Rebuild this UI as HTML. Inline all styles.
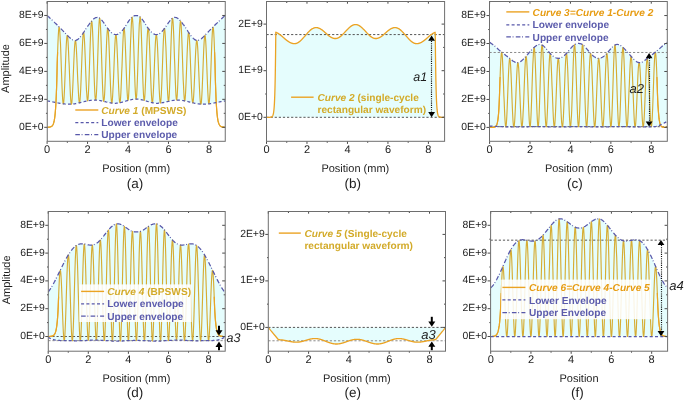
<!DOCTYPE html>
<html><head><meta charset="utf-8"><title>Figure</title>
<style>
html,body{margin:0;padding:0;background:#fff;}
body{width:685px;height:401px;overflow:hidden;}
svg{display:block;font-family:"Liberation Sans",sans-serif;will-change:transform;text-rendering:geometricPrecision;}
</style></head>
<body>
<svg width="685" height="401" viewBox="0 0 685 401">
<rect width="685" height="401" fill="#fff"/>
<defs>
<clipPath id="c140401892561920"><rect x="47.25" y="1.5" width="178" height="139.8"/></clipPath>
<clipPath id="c140401892561968"><rect x="266.5" y="1.5" width="178.1" height="139.8"/></clipPath>
<clipPath id="c140401892562304"><rect x="489.5" y="1.5" width="177.8" height="139.8"/></clipPath>
<clipPath id="c140401892562352"><rect x="48.3" y="211.5" width="176.9" height="139.7"/></clipPath>
<clipPath id="c140401892562400"><rect x="268.3" y="211.5" width="177.2" height="139.7"/></clipPath>
<clipPath id="c140401892562448"><rect x="490.6" y="211.5" width="177" height="139.7"/></clipPath>
</defs>
<g clip-path="url(#c140401892561920)">
<path d="M47.1,15.5l.5,.4 .5,.5 .5,.4 .5,.5 .5,.5 .5,.4 .5,.5 .5,.5 .6,.5 .5,.4 .5,.5 .5,.5 .5,.5 .5,.5 .5,.5 .5,.5 .5,.5 .5,.4 .5,.5 .5,.5 .5,.5 .5,.6 .5,.5 .5,.5 .5,.5 .5,.5 .6,.5 .5,.5 .5,.5 .5,.5 .5,.5 .5,.6 .5,.5 .5,.5 .5,.5 .5,.5 .5,.6 .5,.5 .5,.5 .5,.5 .5,.5 .5,.5 .5,.6 .6,.4 .5,.5 .5,.5 .5,.4 .5,.4 .5,.3 .5,.4 .5,.2 .5,.2 .5,.2 .5,.1 .5,.0 .5,.0 .5-.1 .5-.2 .5-.3 .5-.3 .6-.3 .5-.5 .5-.4 .5-.6 .5-.5 .5-.6 .5-.6 .5-.7 .5-.7 .5-.7 .5-.7 .5-.8 .5-.7 .5-.8 .5-.8 .5-.7 .5-.8 .5-.8 .6-.7 .5-.8 .5-.7 .5-.7 .5-.7 .5-.7 .5-.7 .5-.6 .5-.7 .5-.5 .5-.6 .5-.5 .5-.5 .5-.5 .5-.4 .5-.3 .5-.3 .6-.3 .5-.1 .5-.1 .5-.1 .5,.0 .5,.1 .5,.2 .5,.2 .5,.4 .5,.3 .5,.5 .5,.5 .5,.5 .5,.6 .5,.6 .5,.7 .5,.7 .5,.7 .6,.7 .5,.8 .5,.7 .5,.7 .5,.8 .5,.7 .5,.7 .5,.6 .5,.7 .5,.6 .5,.6 .5,.5 .5,.5 .5,.5 .5,.4 .5,.4 .5,.3 .6,.3 .5,.3 .5,.2 .5,.1 .5,.1 .5,.0 .5,.0 .5-.1 .5-.1 .5-.2 .5-.3 .5-.3 .5-.3 .5-.4 .5-.4 .5-.5 .5-.5 .6-.6 .5-.6 .5-.6 .5-.7 .5-.7 .5-.7 .5-.7 .5-.8 .5-.8 .5-.8 .5-.8 .5-.7 .5-.8 .5-.8 .5-.7 .5-.7 .5-.7 .5-.6 .6-.6 .5-.5 .5-.5 .5-.4 .5-.3 .5-.3 .5-.2 .5-.2 .5-.1 .5-.1 .5,.0 .5,.0 .5,.1 .5,.1 .5,.2 .5,.2 .5,.3 .6,.3 .5,.4 .5,.5 .5,.5 .5,.6 .5,.6 .5,.7 .5,.7 .5,.7 .5,.8 .5,.8 .5,.7 .5,.8 .5,.8 .5,.8 .5,.8 .5,.7 .5,.7 .6,.7 .5,.7 .5,.6 .5,.6 .5,.6 .5,.5 .5,.5 .5,.4 .5,.4 .5,.3 .5,.3 .5,.3 .5,.2 .5,.1 .5,.1 .5,.0 .5,.0 .6-.1 .5-.1 .5-.2 .5-.3 .5-.3 .5-.3 .5-.4 .5-.4 .5-.5 .5-.5 .5-.5 .5-.6 .5-.6 .5-.7 .5-.6 .5-.7 .5-.7 .6-.8 .5-.7 .5-.7 .5-.8 .5-.7 .5-.7 .5-.7 .5-.7 .5-.6 .5-.6 .5-.5 .5-.5 .5-.5 .5-.3 .5-.4 .5-.2 .5-.2 .5-.1 .6,.0 .5,.1 .5,.1 .5,.1 .5,.3 .5,.3 .5,.3 .5,.4 .5,.5 .5,.5 .5,.5 .5,.6 .5,.5 .5,.7 .5,.6 .5,.7 .5,.7 .6,.7 .5,.7 .5,.7 .5,.8 .5,.7 .5,.8 .5,.8 .5,.7 .5,.8 .5,.8 .5,.7 .5,.8 .5,.7 .5,.7 .5,.7 .5,.7 .5,.6 .6,.6 .5,.5 .5,.6 .5,.4 .5,.5 .5,.3 .5,.3 .5,.3 .5,.2 .5,.1 .5,.0 .5,.0 .5-.1 .5-.2 .5-.2 .5-.2 .5-.4 .5-.3 .6-.4 .5-.4 .5-.5 .5-.5 .5-.4 .5-.6 .5-.5 .5-.5 .5-.5 .5-.5 .5-.5 .5-.6 .5-.5 .5-.5 .5-.5 .5-.5 .5-.6 .6-.5 .5-.5 .5-.5 .5-.5 .5-.5 .5-.5 .5-.5 .5-.5 .5-.5 .5-.6 .5-.5 .5-.5 .5-.5 .5-.4 .5-.5 .5-.5 .5-.5 .5-.5 .6-.5 .5-.5 .5-.5 .5-.4 .5-.5 .5-.5 .5-.5 .5-.4 .5-.5 .5-.5 .5-.4 .5-.5 .5-.4 .0,85.4 -.5,.1 -.5,.0 -.5,.1 -.5,.1 -.5,.1 -.5,.1 -.5,.1 -.5,.1 -.5,.1 -.5,.1 -.5,.1 -.5,.1 -.6,.1 -.5,.1 -.5,.1 -.5,.1 -.5,.1 -.5,.1 -.5,.1 -.5,.1 -.5,.1 -.5,.1 -.5,.1 -.5,.1 -.5,.1 -.5,.1 -.5,.1 -.5,.1 -.5,.0 -.5,.1 -.6,.1 -.5,.0 -.5,.1 -.5,.1 -.5,.0 -.5,.1 -.5,.0 -.5,.0 -.5,.1 -.5,.0 -.5,.0 -.5,.0 -.5,.0 -.5,.0 -.5,.0 -.5,.0 -.5,.0 -.6,.0 -.5-.1 -.5,.0 -.5-.1 -.5,.0 -.5-.1 -.5-.1 -.5,.0 -.5-.1 -.5-.1 -.5-.1 -.5-.1 -.5-.1 -.5-.1 -.5-.2 -.5-.1 -.5-.1 -.5-.1 -.6-.1 -.5-.2 -.5-.1 -.5-.1 -.5-.1 -.5-.2 -.5-.1 -.5-.1 -.5-.2 -.5-.1 -.5-.1 -.5-.1 -.5-.1 -.5-.1 -.5-.1 -.5-.1 -.5-.1 -.6-.1 -.5-.1 -.5-.1 -.5-.1 -.5,.0 -.5-.1 -.5-.1 -.5,.0 -.5,.0 -.5-.1 -.5,.0 -.5,.0 -.5,.0 -.5,.0 -.5,.1 -.5,.0 -.5,.0 -.6,.1 -.5,.1 -.5,.0 -.5,.1 -.5,.1 -.5,.1 -.5,.1 -.5,.1 -.5,.1 -.5,.1 -.5,.1 -.5,.2 -.5,.1 -.5,.1 -.5,.1 -.5,.1 -.5,.2 -.5,.1 -.6,.1 -.5,.1 -.5,.1 -.5,.1 -.5,.2 -.5,.1 -.5,.0 -.5,.1 -.5,.1 -.5,.1 -.5,.1 -.5,.0 -.5,.1 -.5,.0 -.5,.0 -.5,.1 -.5,.0 -.6,.0 -.5,.0 -.5-.1 -.5,.0 -.5-.1 -.5,.0 -.5-.1 -.5-.1 -.5-.1 -.5-.1 -.5-.1 -.5-.1 -.5-.2 -.5-.1 -.5-.1 -.5-.2 -.5-.1 -.6-.2 -.5-.1 -.5-.2 -.5-.1 -.5-.2 -.5-.1 -.5-.2 -.5-.1 -.5-.2 -.5-.1 -.5-.1 -.5-.2 -.5-.1 -.5-.1 -.5-.1 -.5-.1 -.5-.1 -.5-.1 -.6-.1 -.5-.1 -.5,.0 -.5-.1 -.5,.0 -.5,.0 -.5,.0 -.5,.0 -.5,.0 -.5,.0 -.5,.1 -.5,.0 -.5,.1 -.5,.1 -.5,.1 -.5,.1 -.5,.1 -.6,.1 -.5,.1 -.5,.1 -.5,.2 -.5,.1 -.5,.1 -.5,.2 -.5,.1 -.5,.2 -.5,.1 -.5,.2 -.5,.1 -.5,.2 -.5,.1 -.5,.2 -.5,.1 -.5,.2 -.5,.1 -.6,.1 -.5,.2 -.5,.1 -.5,.1 -.5,.1 -.5,.1 -.5,.1 -.5,.1 -.5,.0 -.5,.1 -.5,.0 -.5,.1 -.5,.0 -.5,.0 -.5,.0 -.5-.1 -.5,.0 -.6,.0 -.5-.1 -.5,.0 -.5-.1 -.5-.1 -.5-.1 -.5-.1 -.5,.0 -.5-.1 -.5-.2 -.5-.1 -.5-.1 -.5-.1 -.5-.1 -.5-.1 -.5-.2 -.5-.1 -.6-.1 -.5-.1 -.5-.1 -.5-.2 -.5-.1 -.5-.1 -.5-.1 -.5-.1 -.5-.1 -.5-.1 -.5-.1 -.5-.1 -.5,.0 -.5-.1 -.5-.1 -.5,.0 -.5,.0 -.5-.1 -.6,.0 -.5,.0 -.5,.0 -.5,.0 -.5,.1 -.5,.0 -.5,.0 -.5,.1 -.5,.1 -.5,.0 -.5,.1 -.5,.1 -.5,.1 -.5,.1 -.5,.1 -.5,.1 -.5,.1 -.6,.1 -.5,.1 -.5,.1 -.5,.1 -.5,.1 -.5,.2 -.5,.1 -.5,.1 -.5,.2 -.5,.1 -.5,.1 -.5,.1 -.5,.2 -.5,.1 -.5,.1 -.5,.1 -.5,.1 -.5,.2 -.6,.1 -.5,.1 -.5,.1 -.5,.1 -.5,.1 -.5,.1 -.5,.0 -.5,.1 -.5,.1 -.5,.0 -.5,.1 -.5,.0 -.5,.1 -.5,.0 -.5,.0 -.5,.0 -.5,.0 -.6,.0 -.5,.0 -.5,.0 -.5,.0 -.5,.0 -.5-.1 -.5,.0 -.5,.0 -.5-.1 -.5,.0 -.5-.1 -.5-.1 -.5,.0 -.5-.1 -.5-.1 -.5,.0 -.5-.1 -.6-.1 -.5-.1 -.5-.1 -.5-.1 -.5-.1 -.5-.1 -.5-.1 -.5-.1 -.5-.1 -.5-.1 -.5-.1 -.5-.1 -.5-.1 -.5-.1 -.5-.1 -.5-.1 -.5-.1 -.5-.1 -.6-.1 -.5-.1 -.5-.1 -.5-.1 -.5-.1 -.5-.1 -.5-.1 -.5,.0 -.5-.1Z" fill="#e5fdfd" stroke="none"/>
<path d="M47.1,127.3l.2,.0 .2,.0 .2,.0 .2,.0 .2,.0 .2-.1 .2,.0 .2,.0 .2,.0 .2,.0 .2,.0 .2-.1 .2,.0 .2-.1 .2,.0 .2-.1 .2,.0 .2-.1 .2-.1 .2-.1 .2-.1 .3-.1 .2-.2 .2-.1 .2-.3 .2-.2 .2-.3 .2-.3 .2-.4 .2-.4 .2-.5 .2-.6 .2-.7 .2-.8 .2-.9 .2-1.1 .2-1.3 .2-1.4 .2-1.7 .2-2 .2-2.3 .2-2.7 .2-3 .2-3.6 .2-4.2 .2-4.9 .2-5.6 .2-6.5 .2-7.6 .2-8.9 .2-5.9 .2-5.8 .2-5.4 .2-5.1 .2-4.4 .2-3.7 .2-3 .2-2.1 .2-1.2 .2-.2 .2,.6 .2,1.6 .2,2.5 .2,3.3 .2,4 .3,4.7 .2,5.2 .2,5.5 .2,5.9 .2,5.9 .2,6 .2,5.7 .2,5.5 .2,5 .2,4.4 .2,3.8 .2,3.1 .2,2.2 .2,1.4 .2,.4 .2-.4 .2-1.3 .2-2.1 .2-2.9 .2-3.7 .2-4.2 .2-4.7 .2-5.1 .2-5.3 .2-5.5 .2-5.4 .2-5.2 .2-5 .2-4.5 .2-4 .2-3.4 .2-2.6 .2-1.9 .2-1.1 .2-.2 .2,.6 .2,1.5 .2,2.3 .2,2.9 .2,3.7 .2,4.2 .2,4.7 .2,5 .3,5.2 .2,5.4 .2,5.3 .2,5.2 .2,4.8 .2,4.5 .2,4 .2,3.3 .2,2.7 .2,2 .2,1.2 .2,.4 .2-.4 .2-1.2 .2-2 .2-2.6 .2-3.3 .2-3.9 .2-4.2 .2-4.7 .2-4.8 .2-5 .2-4.9 .2-4.9 .2-4.6 .2-4.2 .2-3.7 .2-3.2 .2-2.6 .2-1.9 .2-1.2 .2-.4 .2,.3 .2,1.1 .2,1.9 .2,2.5 .2,3.2 .2,3.7 .2,4.1 .2,4.5 .2,4.8 .2,4.9 .2,4.8 .2,4.8 .3,4.6 .2,4.2 .2,3.7 .2,3.3 .2,2.5 .2,1.9 .2,1.2 .2,.3 .2-.4 .2-1.3 .2-2 .2-2.8 .2-3.4 .2-4 .2-4.5 .2-5 .2-5.2 .2-5.4 .2-5.4 .2-5.3 .2-5.1 .2-4.7 .2-4.3 .2-3.8 .2-3.1 .2-2.3 .2-1.6 .2-.7 .2,.1 .2,1 .2,1.8 .2,2.6 .2,3.3 .2,4 .2,4.5 .2,4.9 .2,5.3 .2,5.4 .2,5.5 .2,5.3 .2,5.1 .2,4.8 .2,4.3 .3,3.6 .2,3 .2,2.1 .2,1.3 .2,.5 .2-.5 .2-1.5 .2-2.3 .2-3.1 .2-3.9 .2-4.6 .2-5.2 .2-5.7 .2-5.9 .2-6.2 .2-6.2 .2-6 .2-5.8 .2-5.4 .2-4.9 .2-4.2 .2-3.5 .2-2.6 .2-1.6 .2-.7 .2,.2 .2,1.2 .2,2.2 .2,3.1 .2,3.9 .2,4.6 .2,5.2 .2,5.8 .2,6 .2,6.2 .2,6.3 .2,6.1 .2,5.9 .2,5.4 .2,4.8 .2,4.2 .2,3.4 .2,2.4 .2,1.5 .3,.5 .2-.5 .2-1.5 .2-2.4 .2-3.4 .2-4.2 .2-4.9 .2-5.5 .2-6 .2-6.3 .2-6.5 .2-6.4 .2-6.3 .2-6 .2-5.4 .2-4.9 .2-4.1 .2-3.3 .2-2.4 .2-1.4 .2-.3 .2,.6 .2,1.7 .2,2.6 .2,3.5 .2,4.3 .2,5.1 .2,5.6 .2,6 .2,6.3 .2,6.5 .2,6.5 .2,6.2 .2,5.9 .2,5.5 .2,4.9 .2,4.1 .2,3.3 .2,2.4 .2,1.5 .2,.6 .2-.5 .2-1.3 .3-2.3 .2-3.2 .2-3.8 .2-4.6 .2-5 .2-5.5 .2-5.7 .2-5.8 .2-5.7 .2-5.6 .2-5.3 .2-4.8 .2-4.3 .2-3.5 .2-2.8 .2-2 .2-1.1 .2-.1 .2,.7 .2,1.6 .2,2.4 .2,3.3 .2,3.9 .2,4.6 .2,5 .2,5.4 .2,5.7 .2,5.8 .2,5.7 .2,5.5 .2,5.3 .2,4.8 .2,4.3 .2,3.7 .2,2.9 .2,2.2 .2,1.3 .2,.5 .2-.4 .2-1.3 .2-2.1 .2-2.8 .2-3.5 .2-4.1 .3-4.6 .2-5 .2-5.2 .2-5.4 .2-5.3 .2-5.3 .2-4.9 .2-4.6 .2-4 .2-3.5 .2-2.8 .2-2 .2-1.3 .2-.4 .2,.4 .2,1.3 .2,2 .2,2.8 .2,3.5 .2,4 .2,4.6 .2,4.9 .2,5.2 .2,5.3 .2,5.3 .2,5.3 .2,4.9 .2,4.6 .2,4.1 .2,3.4 .2,2.8 .2,2.1 .2,1.2 .2,.4 .2-.5 .2-1.3 .2-2.2 .2-2.9 .2-3.7 .2-4.2 .2-4.9 .2-5.2 .2-5.5 .3-5.7 .2-5.8 .2-5.6 .2-5.4 .2-5 .2-4.5 .2-4 .2-3.2 .2-2.4 .2-1.6 .2-.8 .2,.2 .2,1.1 .2,1.9 .2,2.7 .2,3.6 .2,4.2 .2,4.7 .2,5.2 .2,5.6 .2,5.7 .2,5.7 .2,5.7 .2,5.4 .2,5 .2,4.5 .2,3.8 .2,3.1 .2,2.3 .2,1.3 .2,.4 .2-.5 .2-1.5 .2-2.4 .2-3.3 .2-4.2 .2-4.8 .2-5.5 .2-5.9 .2-6.2 .2-6.5 .2-6.4 .2-6.4 .2-6 .3-5.7 .2-5 .2-4.4 .2-3.5 .2-2.7 .2-1.7 .2-.7 .2,.4 .2,1.3 .2,2.4 .2,3.2 .2,4.1 .2,4.9 .2,5.4 .2,6 .2,6.3 .2,6.4 .2,6.5 .2,6.3 .2,6 .2,5.6 .2,5 .2,4.2 .2,3.4 .2,2.5 .2,1.5 .2,.6 .2-.6 .2-1.5 .2-2.5 .2-3.4 .2-4.2 .2-5 .2-5.6 .2-6 .2-6.3 .2-6.5 .2-6.4 .2-6.3 .2-6 .2-5.4 .2-4.9 .2-4.1 .3-3.2 .2-2.4 .2-1.3 .2-.4 .2,.7 .2,1.7 .2,2.7 .2,3.5 .2,4.4 .2,5 .2,5.7 .2,6 .2,6.4 .2,6.4 .2,6.5 .2,6.2 .2,5.9 .2,5.5 .2,4.8 .2,4.2 .2,3.3 .2,2.4 .2,1.5 .2,.5 .2-.4 .2-1.3 .2-2.3 .2-3.1 .2-3.8 .2-4.5 .2-5 .2-5.4 .2-5.7 .2-5.7 .2-5.7 .2-5.6 .2-5.2 .2-4.7 .2-4.2 .2-3.6 .2-2.7 .2-1.9 .2-1.1 .2-.2 .3,.8 .2,1.6 .2,2.4 .2,3.2 .2,4 .2,4.5 .2,5 .2,5.4 .2,5.6 .2,5.8 .2,5.7 .2,5.5 .2,5.2 .2,4.9 .2,4.2 .2,3.7 .2,2.9 .2,2.2 .2,1.3 .2,.5 .2-.4 .2-1.2 .2-2.1 .2-2.8 .2-3.4 .2-4.1 .2-4.6 .2-4.9 .2-5.3 .2-5.3 .2-5.3 .2-5.2 .2-4.9 .2-4.6 .2-4 .2-3.5 .2-2.8 .2-2 .2-1.3 .2-.4 .2,.4 .2,1.3 .2,2 .3,2.8 .2,3.5 .2,4 .2,4.6 .2,4.9 .2,5.3 .2,5.3 .2,5.4 .2,5.2 .2,5 .2,4.6 .2,4.1 .2,3.5 .2,2.8 .2,2.1 .2,1.3 .2,.4 .2-.5 .2-1.3 .2-2.2 .2-2.9 .2-3.7 .2-4.3 .2-4.8 .2-5.3 .2-5.5 .2-5.7 .2-5.8 .2-5.7 .2-5.4 .2-5 .2-4.6 .2-3.9 .2-3.3 .2-2.4 .2-1.6 .2-.7 .2,.1 .2,1.1 .2,2 .2,2.8 .2,3.5 .2,4.3 .3,4.8 .2,5.3 .2,5.6 .2,5.7 .2,5.8 .2,5.7 .2,5.5 .2,5 .2,4.6 .2,3.8 .2,3.2 .2,2.3 .2,1.3 .2,.5 .2-.6 .2-1.5 .2-2.4 .2-3.3 .2-4.1 .2-4.9 .2-5.5 .2-5.9 .2-6.2 .2-6.5 .2-6.5 .2-6.3 .2-6 .2-5.6 .2-5.1 .2-4.3 .2-3.5 .2-2.6 .2-1.7 .2-.6 .2,.3 .2,1.4 .2,2.4 .2,3.3 .2,4.1 .2,4.9 .2,5.4 .2,6 .2,6.3 .2,6.4 .3,6.5 .2,6.3 .2,6 .2,5.5 .2,4.9 .2,4.2 .2,3.4 .2,2.4 .2,1.5 .2,.5 .2-.5 .2-1.5 .2-2.4 .2-3.4 .2-4.2 .2-4.8 .2-5.4 .2-5.9 .2-6.1 .2-6.3 .2-6.2 .2-6 .2-5.8 .2-5.2 .2-4.6 .2-3.9 .2-3.1 .2-2.2 .2-1.2 .2-.2 .2,.7 .2,1.6 .2,2.6 .2,3.5 .2,4.2 .2,4.9 .2,5.4 .2,5.8 .2,6 .2,6.2 .2,6.2 .2,5.9 .2,5.7 .3,5.2 .2,4.6 .2,3.9 .2,3.1 .2,2.3 .2,1.5 .2,.5 .2-.5 .2-1.3 .2-2.1 .2-3 .2-3.6 .2-4.3 .2-4.8 .2-5.1 .2-5.3 .2-5.5 .2-5.4 .2-5.3 .2-4.9 .2-4.5 .2-4 .2-3.3 .2-2.6 .2-1.8 .2-1 .2-.1 .2,.7 .2,1.6 .2,2.3 .2,3.1 .2,3.8 .2,4.3 .2,4.7 .2,5.1 .2,5.3 .2,5.4 .2,5.4 .2,5.2 .2,5 .2,4.5 .2,4 .2,3.4 .2,2.8 .3,2 .2,1.3 .2,.4 .2-.3 .2-1.2 .2-1.9 .2-2.5 .2-3.3 .2-3.7 .2-4.2 .2-4.6 .2-4.8 .2-4.8 .2-4.9 .2-4.8 .2-4.5 .2-4.1 .2-3.7 .2-3.2 .2-2.5 .2-1.9 .2-1.1 .2-.3 .2,.4 .2,1.2 .2,1.9 .2,2.6 .2,3.2 .2,3.7 .2,4.2 .2,4.6 .2,4.9 .2,4.9 .2,5 .2,4.8 .2,4.7 .2,4.2 .2,3.9 .2,3.3 .2,2.6 .2,2 .2,1.2 .2,.4 .3-.4 .2-1.2 .2-2 .2-2.7 .2-3.3 .2-4 .2-4.5 .2-4.8 .2-5.2 .2-5.3 .2-5.4 .2-5.2 .2-5 .2-4.7 .2-4.2 .2-3.7 .2-2.9 .2-2.3 .2-1.5 .2-.6 .2,.2 .2,1.1 .2,1.9 .2,2.6 .2,3.4 .2,4 .2,4.5 .2,5 .2,5.2 .2,5.4 .2,5.5 .2,5.3 .2,5.1 .2,4.7 .2,4.2 .2,3.7 .2,2.9 .2,2.1 .2,1.3 .2,.4 .2-.4 .2-1.4 .2-2.2 .2-3.1 .3-3.8 .2-4.4 .2-5 .2-5.5 .2-5.7 .2-6 .2-5.9 .2-5.9 .2-5.5 .2-5.2 .2-4.7 .2-4 .2-3.3 .2-2.5 .2-1.6 .2-.6 .2,.2 .2,1.2 .2,2.1 .2,3 .2,3.7 .2,4.4 .2,5.1 .2,5.4 .2,5.8 .2,5.9 .2,8.9 .2,7.6 .2,6.5 .2,5.6 .2,4.9 .2,4.2 .2,3.6 .2,3 .2,2.7 .2,2.3 .2,2 .2,1.7 .2,1.4 .2,1.3 .2,1.1 .2,.9 .2,.8 .3,.7 .2,.6 .2,.5 .2,.4 .2,.4 .2,.3 .2,.3 .2,.2 .2,.3 .2,.1 .2,.2 .2,.1 .2,.1 .2,.1 .2,.1 .2,.1 .2,.0 .2,.1 .2,.0 .2,.1 .2,.0 .2,.1 .2,.0 .2,.0 .2,.0 .2,.0 .2,.0 .2,.1 .2,.0 .2,.0 .2,.0 .2,.0 .2,.0" stroke="#d6ad34" stroke-width="1.15" fill="none" stroke-linejoin="round" />
<path d="M47.1,127.3l.2,.0 .2,.0 .2,.0 .2,.0 .2,.0 .2-.1 .2,.0 .2,.0 .2,.0 .2,.0 .2,.0 .2-.1 .2,.0 .2-.1 .2,.0 .2-.1 .2,.0 .2-.1 .2-.1 .2-.1 .2-.1 .3-.1 .2-.2 .2-.1 .2-.3 .2-.2 .2-.3 .2-.3 .2-.4 .2-.4 .2-.5 .2-.6 .2-.7 .2-.8 .2-.9 .2-1.1 .2-1.3 .2-1.4 .2-1.7 .2-2 .2-2.3 .2-2.7 .2-3 .2-3.6 .2-4.2 .2-4.9 .2-5.6 .2-6.5 .2-7.6 .2-8.9 .2-5.9 .2-5.8" stroke="#eba324" stroke-width="1.2" fill="none"/>
<path d="M214.6,52.2l.2,5.8 .2,5.9 .2,8.9 .2,7.6 .2,6.5 .2,5.6 .2,4.9 .2,4.2 .2,3.6 .2,3 .2,2.7 .2,2.3 .2,2 .2,1.7 .2,1.4 .2,1.3 .2,1.1 .2,.9 .2,.8 .3,.7 .2,.6 .2,.5 .2,.4 .2,.4 .2,.3 .2,.3 .2,.2 .2,.3 .2,.1 .2,.2 .2,.1 .2,.1 .2,.1 .2,.1 .2,.1 .2,.0 .2,.1 .2,.0 .2,.1 .2,.0 .2,.1 .2,.0 .2,.0 .2,.0 .2,.0 .2,.0 .2,.1 .2,.0 .2,.0 .2,.0 .2,.0 .2,.0" stroke="#eba324" stroke-width="1.2" fill="none"/>
<path d="M47.1,100.9l.5,.1 .5,.0 .5,.1 .5,.1 .5,.1 .5,.1 .5,.1 .5,.1 .6,.1 .5,.1 .5,.1 .5,.1 .5,.1 .5,.1 .5,.1 .5,.1 .5,.1 .5,.1 .5,.1 .5,.1 .5,.1 .5,.1 .5,.1 .5,.1 .5,.1 .5,.1 .6,.1 .5,.1 .5,.0 .5,.1 .5,.1 .5,.0 .5,.1 .5,.1 .5,.0 .5,.1 .5,.0 .5,.0 .5,.1 .5,.0 .5,.0 .5,.0 .5,.0 .6,.0 .5,.0 .5,.0 .5,.0 .5,.0 .5-.1 .5,.0 .5-.1 .5,.0 .5-.1 .5-.1 .5,.0 .5-.1 .5-.1 .5-.1 .5-.1 .5-.1 .6-.1 .5-.2 .5-.1 .5-.1 .5-.1 .5-.1 .5-.2 .5-.1 .5-.1 .5-.1 .5-.2 .5-.1 .5-.1 .5-.2 .5-.1 .5-.1 .5-.1 .5-.1 .6-.1 .5-.1 .5-.1 .5-.1 .5-.1 .5-.1 .5-.1 .5-.1 .5,.0 .5-.1 .5-.1 .5,.0 .5,.0 .5-.1 .5,.0 .5,.0 .5,.0 .6,.0 .5,.1 .5,.0 .5,.0 .5,.1 .5,.1 .5,.0 .5,.1 .5,.1 .5,.1 .5,.1 .5,.1 .5,.1 .5,.1 .5,.1 .5,.2 .5,.1 .5,.1 .6,.1 .5,.1 .5,.2 .5,.1 .5,.1 .5,.1 .5,.1 .5,.1 .5,.2 .5,.1 .5,.0 .5,.1 .5,.1 .5,.1 .5,.1 .5,.0 .5,.1 .6,.0 .5,.0 .5,.1 .5,.0 .5,.0 .5,.0 .5-.1 .5,.0 .5-.1 .5,.0 .5-.1 .5-.1 .5-.1 .5-.1 .5-.1 .5-.1 .5-.2 .6-.1 .5-.1 .5-.2 .5-.1 .5-.2 .5-.1 .5-.2 .5-.1 .5-.2 .5-.1 .5-.2 .5-.1 .5-.2 .5-.1 .5-.1 .5-.2 .5-.1 .5-.1 .6-.1 .5-.1 .5-.1 .5-.1 .5-.1 .5-.1 .5,.0 .5-.1 .5,.0 .5,.0 .5,.0 .5,.0 .5,.0 .5,.0 .5,.1 .5,.0 .5,.1 .6,.1 .5,.1 .5,.1 .5,.1 .5,.1 .5,.1 .5,.1 .5,.2 .5,.1 .5,.1 .5,.2 .5,.1 .5,.2 .5,.1 .5,.2 .5,.1 .5,.2 .5,.1 .6,.2 .5,.1 .5,.2 .5,.1 .5,.1 .5,.2 .5,.1 .5,.1 .5,.1 .5,.1 .5,.1 .5,.1 .5,.0 .5,.1 .5,.0 .5,.1 .5,.0 .6,.0 .5,.0 .5-.1 .5,.0 .5,.0 .5-.1 .5,.0 .5-.1 .5-.1 .5-.1 .5-.1 .5,.0 .5-.1 .5-.2 .5-.1 .5-.1 .5-.1 .6-.1 .5-.1 .5-.2 .5-.1 .5-.1 .5-.1 .5-.1 .5-.2 .5-.1 .5-.1 .5-.1 .5-.1 .5-.1 .5-.1 .5-.1 .5-.1 .5,.0 .5-.1 .6-.1 .5,.0 .5,.0 .5-.1 .5,.0 .5,.0 .5,.0 .5,.0 .5,.1 .5,.0 .5,.0 .5,.1 .5,.1 .5,.0 .5,.1 .5,.1 .5,.1 .6,.1 .5,.1 .5,.1 .5,.1 .5,.1 .5,.1 .5,.1 .5,.1 .5,.1 .5,.2 .5,.1 .5,.1 .5,.2 .5,.1 .5,.1 .5,.1 .5,.2 .6,.1 .5,.1 .5,.1 .5,.1 .5,.2 .5,.1 .5,.1 .5,.1 .5,.1 .5,.1 .5,.1 .5,.0 .5,.1 .5,.1 .5,.0 .5,.1 .5,.0 .5,.1 .6,.0 .5,.0 .5,.0 .5,.0 .5,.0 .5,.0 .5,.0 .5,.0 .5,.0 .5-.1 .5,.0 .5,.0 .5-.1 .5,.0 .5-.1 .5-.1 .5,.0 .6-.1 .5-.1 .5,.0 .5-.1 .5-.1 .5-.1 .5-.1 .5-.1 .5-.1 .5-.1 .5-.1 .5-.1 .5-.1 .5-.1 .5-.1 .5-.1 .5-.1 .5-.1 .6-.1 .5-.1 .5-.1 .5-.1 .5-.1 .5-.1 .5-.1 .5-.1 .5-.1 .5-.1 .5-.1 .5,.0 .5-.1" stroke="#5858aa" stroke-width="1.25" fill="none" stroke-dasharray="3 2.3"/>
<path d="M47.1,15.5l.5,.4 .5,.5 .5,.4 .5,.5 .5,.5 .5,.4 .5,.5 .5,.5 .6,.5 .5,.4 .5,.5 .5,.5 .5,.5 .5,.5 .5,.5 .5,.5 .5,.5 .5,.4 .5,.5 .5,.5 .5,.5 .5,.6 .5,.5 .5,.5 .5,.5 .5,.5 .6,.5 .5,.5 .5,.5 .5,.5 .5,.5 .5,.6 .5,.5 .5,.5 .5,.5 .5,.5 .5,.6 .5,.5 .5,.5 .5,.5 .5,.5 .5,.5 .5,.6 .6,.4 .5,.5 .5,.5 .5,.4 .5,.4 .5,.3 .5,.4 .5,.2 .5,.2 .5,.2 .5,.1 .5,.0 .5,.0 .5-.1 .5-.2 .5-.3 .5-.3 .6-.3 .5-.5 .5-.4 .5-.6 .5-.5 .5-.6 .5-.6 .5-.7 .5-.7 .5-.7 .5-.7 .5-.8 .5-.7 .5-.8 .5-.8 .5-.7 .5-.8 .5-.8 .6-.7 .5-.8 .5-.7 .5-.7 .5-.7 .5-.7 .5-.7 .5-.6 .5-.7 .5-.5 .5-.6 .5-.5 .5-.5 .5-.5 .5-.4 .5-.3 .5-.3 .6-.3 .5-.1 .5-.1 .5-.1 .5,.0 .5,.1 .5,.2 .5,.2 .5,.4 .5,.3 .5,.5 .5,.5 .5,.5 .5,.6 .5,.6 .5,.7 .5,.7 .5,.7 .6,.7 .5,.8 .5,.7 .5,.7 .5,.8 .5,.7 .5,.7 .5,.6 .5,.7 .5,.6 .5,.6 .5,.5 .5,.5 .5,.5 .5,.4 .5,.4 .5,.3 .6,.3 .5,.3 .5,.2 .5,.1 .5,.1 .5,.0 .5,.0 .5-.1 .5-.1 .5-.2 .5-.3 .5-.3 .5-.3 .5-.4 .5-.4 .5-.5 .5-.5 .6-.6 .5-.6 .5-.6 .5-.7 .5-.7 .5-.7 .5-.7 .5-.8 .5-.8 .5-.8 .5-.8 .5-.7 .5-.8 .5-.8 .5-.7 .5-.7 .5-.7 .5-.6 .6-.6 .5-.5 .5-.5 .5-.4 .5-.3 .5-.3 .5-.2 .5-.2 .5-.1 .5-.1 .5,.0 .5,.0 .5,.1 .5,.1 .5,.2 .5,.2 .5,.3 .6,.3 .5,.4 .5,.5 .5,.5 .5,.6 .5,.6 .5,.7 .5,.7 .5,.7 .5,.8 .5,.8 .5,.7 .5,.8 .5,.8 .5,.8 .5,.8 .5,.7 .5,.7 .6,.7 .5,.7 .5,.6 .5,.6 .5,.6 .5,.5 .5,.5 .5,.4 .5,.4 .5,.3 .5,.3 .5,.3 .5,.2 .5,.1 .5,.1 .5,.0 .5,.0 .6-.1 .5-.1 .5-.2 .5-.3 .5-.3 .5-.3 .5-.4 .5-.4 .5-.5 .5-.5 .5-.5 .5-.6 .5-.6 .5-.7 .5-.6 .5-.7 .5-.7 .6-.8 .5-.7 .5-.7 .5-.8 .5-.7 .5-.7 .5-.7 .5-.7 .5-.6 .5-.6 .5-.5 .5-.5 .5-.5 .5-.3 .5-.4 .5-.2 .5-.2 .5-.1 .6,.0 .5,.1 .5,.1 .5,.1 .5,.3 .5,.3 .5,.3 .5,.4 .5,.5 .5,.5 .5,.5 .5,.6 .5,.5 .5,.7 .5,.6 .5,.7 .5,.7 .6,.7 .5,.7 .5,.7 .5,.8 .5,.7 .5,.8 .5,.8 .5,.7 .5,.8 .5,.8 .5,.7 .5,.8 .5,.7 .5,.7 .5,.7 .5,.7 .5,.6 .6,.6 .5,.5 .5,.6 .5,.4 .5,.5 .5,.3 .5,.3 .5,.3 .5,.2 .5,.1 .5,.0 .5,.0 .5-.1 .5-.2 .5-.2 .5-.2 .5-.4 .5-.3 .6-.4 .5-.4 .5-.5 .5-.5 .5-.4 .5-.6 .5-.5 .5-.5 .5-.5 .5-.5 .5-.5 .5-.6 .5-.5 .5-.5 .5-.5 .5-.5 .5-.6 .6-.5 .5-.5 .5-.5 .5-.5 .5-.5 .5-.5 .5-.5 .5-.5 .5-.5 .5-.6 .5-.5 .5-.5 .5-.5 .5-.4 .5-.5 .5-.5 .5-.5 .5-.5 .6-.5 .5-.5 .5-.5 .5-.4 .5-.5 .5-.5 .5-.5 .5-.4 .5-.5 .5-.5 .5-.4 .5-.5 .5-.4" stroke="#5858aa" stroke-width="1.25" fill="none" stroke-dasharray="4.6 1.7 0.9 2.3"/>
</g>
<path d="M44.25,127.3H47.25 M222.25,127.3H225.25 M44.25,99.34H47.25 M222.25,99.34H225.25 M44.25,71.38H47.25 M222.25,71.38H225.25 M44.25,43.42H47.25 M222.25,43.42H225.25 M44.25,15.46H47.25 M222.25,15.46H225.25 M45.95,113.32H47.25 M223.75,113.32H225.25 M45.95,85.36H47.25 M223.75,85.36H225.25 M45.95,57.4H47.25 M223.75,57.4H225.25 M45.95,29.44H47.25 M223.75,29.44H225.25 M47.1,141.3V143.9 M47.1,1.5V3.7 M87.56,141.3V143.9 M87.56,1.5V3.7 M128.02,141.3V143.9 M128.02,1.5V3.7 M168.48,141.3V143.9 M168.48,1.5V3.7 M208.94,141.3V143.9 M208.94,1.5V3.7 M67.33,141.3V142.8 M67.33,1.5V3 M107.79,141.3V142.8 M107.79,1.5V3 M148.25,141.3V142.8 M148.25,1.5V3 M188.71,141.3V142.8 M188.71,1.5V3" stroke="#4a4a4a" stroke-width="1" fill="none"/>
<rect x="47.25" y="1.5" width="178" height="139.8" fill="none" stroke="#6e6e6e" stroke-width="1"/>
<text x="43.65" y="129.8" font-size="10.4" text-anchor="end" fill="#1e1e1e">0E+0</text>
<text x="43.65" y="101.84" font-size="10.4" text-anchor="end" fill="#1e1e1e">2E+9</text>
<text x="43.65" y="73.88" font-size="10.4" text-anchor="end" fill="#1e1e1e">4E+9</text>
<text x="43.65" y="45.92" font-size="10.4" text-anchor="end" fill="#1e1e1e">6E+9</text>
<text x="43.65" y="17.96" font-size="10.4" text-anchor="end" fill="#1e1e1e">8E+9</text>
<text x="47.1" y="153.3" font-size="11" text-anchor="middle" fill="#1e1e1e">0</text>
<text x="87.56" y="153.3" font-size="11" text-anchor="middle" fill="#1e1e1e">2</text>
<text x="128.02" y="153.3" font-size="11" text-anchor="middle" fill="#1e1e1e">4</text>
<text x="168.48" y="153.3" font-size="11" text-anchor="middle" fill="#1e1e1e">6</text>
<text x="208.94" y="153.3" font-size="11" text-anchor="middle" fill="#1e1e1e">8</text>
<path d="M75.3,110H98.3" stroke="#eba324" stroke-width="1.4"/>
<path d="M75.3,122.5H98.3" stroke="#5858aa" stroke-width="1.25" stroke-dasharray="3 2.3"/>
<path d="M75.3,134.6H98.3" stroke="#5858aa" stroke-width="1.25" stroke-dasharray="4.6 1.7 0.9 2.3"/>
<text x="101.3" y="113.6" font-size="10.15" font-weight="bold" font-style="normal" fill="#d3ab2a" text-anchor="start" ><tspan font-style="italic">Curve 1</tspan> (MPSWS)</text>
<text x="101.3" y="125.9" font-size="10.15" font-weight="bold" font-style="normal" fill="#5c5cac" text-anchor="start" >Lower envelope</text>
<text x="101.3" y="138" font-size="10.15" font-weight="bold" font-style="normal" fill="#5c5cac" text-anchor="start" >Upper envelope</text>
<g clip-path="url(#c140401892561968)">
<path d="M266.5,117.3l.5,.0 .5,.0 .5,.0 .5,.0 .5,.0 .5,.0 .5,.0 .5-.1 .6-.1 .5-.2 .5-.3 .5-.6 .5-1.2 .5-2.3 .5-4.5 .5-8.5 .5-16.4 .5-31.4 .5-19.4 .5,.3 .5,.2 .5,.3 .5,.3 .5,.3 .6,.4 .5,.3 .5,.4 .5,.4 .5,.4 .5,.4 .5,.5 .5,.4 .5,.4 .5,.5 .5,.4 .5,.5 .5,.4 .5,.4 .5,.4 .5,.4 .5,.4 .6,.4 .5,.3 .5,.4 .5,.3 .5,.3 .5,.2 .5,.3 .5,.2 .5,.1 .5,.2 .5,.1 .5,.1 .5,.0 .5,.1 .5,.0 .5-.1 .5-.1 .6-.1 .5-.2 .5-.2 .5-.3 .5-.3 .5-.3 .5-.4 .5-.4 .5-.5 .5-.4 .5-.5 .5-.5 .5-.6 .5-.5 .5-.6 .5-.5 .5-.6 .6-.6 .5-.6 .5-.6 .5-.6 .5-.6 .5-.5 .5-.6 .5-.5 .5-.5 .5-.5 .5-.5 .5-.4 .5-.4 .5-.4 .5-.4 .5-.3 .6-.2 .5-.3 .5-.2 .5-.1 .5-.1 .5-.1 .5,.0 .5,.0 .5,.1 .5,.1 .5,.1 .5,.2 .5,.2 .5,.2 .5,.2 .5,.3 .5,.4 .6,.3 .5,.4 .5,.4 .5,.4 .5,.4 .5,.4 .5,.5 .5,.4 .5,.5 .5,.4 .5,.5 .5,.4 .5,.4 .5,.5 .5,.4 .5,.4 .6,.3 .5,.4 .5,.3 .5,.3 .5,.3 .5,.2 .5,.2 .5,.1 .5,.2 .5,.1 .5,.0 .5,.0 .5,.0 .5,.0 .5-.1 .5-.2 .5-.2 .6-.2 .5-.3 .5-.3 .5-.3 .5-.4 .5-.4 .5-.4 .5-.5 .5-.5 .5-.5 .5-.5 .5-.5 .5-.6 .5-.5 .5-.5 .5-.6 .5-.5 .6-.6 .5-.5 .5-.5 .5-.5 .5-.5 .5-.5 .5-.4 .5-.4 .5-.4 .5-.3 .5-.3 .5-.3 .5-.2 .5-.2 .5-.1 .5-.1 .5-.1 .6,.0 .5,.0 .5,.1 .5,.1 .5,.1 .5,.2 .5,.2 .5,.3 .5,.3 .5,.3 .5,.4 .5,.4 .5,.4 .5,.5 .5,.5 .5,.5 .6,.5 .5,.5 .5,.6 .5,.5 .5,.6 .5,.5 .5,.5 .5,.6 .5,.5 .5,.5 .5,.5 .5,.5 .5,.5 .5,.4 .5,.4 .5,.4 .5,.3 .6,.3 .5,.3 .5,.2 .5,.2 .5,.2 .5,.1 .5,.0 .5,.0 .5,.0 .5,.0 .5-.1 .5-.2 .5-.1 .5-.2 .5-.2 .5-.3 .6-.3 .5-.3 .5-.4 .5-.3 .5-.4 .5-.4 .5-.5 .5-.4 .5-.4 .5-.5 .5-.4 .5-.5 .5-.4 .5-.5 .5-.4 .5-.4 .5-.4 .6-.4 .5-.4 .5-.3 .5-.4 .5-.3 .5-.2 .5-.2 .5-.2 .5-.2 .5-.1 .5-.1 .5-.1 .5,.0 .5,.0 .5,.1 .5,.1 .5,.1 .6,.2 .5,.3 .5,.2 .5,.3 .5,.4 .5,.4 .5,.4 .5,.4 .5,.5 .5,.5 .5,.5 .5,.5 .5,.6 .5,.5 .5,.6 .5,.6 .5,.6 .6,.6 .5,.6 .5,.6 .5,.5 .5,.6 .5,.5 .5,.6 .5,.5 .5,.5 .5,.4 .5,.5 .5,.4 .5,.4 .5,.3 .5,.3 .5,.3 .6,.2 .5,.2 .5,.1 .5,.1 .5,.1 .5,.0 .5-.1 .5,.0 .5-.1 .5-.1 .5-.2 .5-.1 .5-.2 .5-.3 .5-.2 .5-.3 .5-.3 .6-.4 .5-.3 .5-.4 .5-.4 .5-.4 .5-.4 .5-.4 .5-.4 .5-.5 .5-.4 .5-.5 .5-.4 .5-.4 .5-.5 .5-.4 .5-.4 .6-.4 .5-.4 .5-.3 .5-.4 .5-.3 .5-.3 .5-.3 .5-.2 .5-.3 .5,24.3 .5,28.9 .5,15.2 .5,7.9 .5,4.2 .5,2.1 .5,1.2 .5,.5 .6,.4 .5,.1 .5,.1 .5,.1 .5,.0 .5,.0 .5,.0 .5,.0 .5,.0 .5,.0 .5,.0 -.5,.0 -.5,.0 -.5,.0 -.5,.0 -.5,.0 -.5,.0 -.5,.0 -.5,.0 -.5,.0 -.5,.0 -.6,.0 -.5,.0 -.5,.0 -.5,.0 -.5,.0 -.5,.0 -.5,.0 -.5,.0 -.5,.0 -.5,.0 -.5,.0 -.5,.0 -.5,.0 -.5,.0 -.5,.0 -.5,.0 -.5,.0 -.6,.0 -.5,.0 -.5,.0 -.5,.0 -.5,.0 -.5,.0 -.5,.0 -.5,.0 -.5,.0 -.5,.0 -.5,.0 -.5,.0 -.5,.0 -.5,.0 -.5,.0 -.5,.0 -.6,.0 -.5,.0 -.5,.0 -.5,.0 -.5,.0 -.5,.0 -.5,.0 -.5,.0 -.5,.0 -.5,.0 -.5,.0 -.5,.0 -.5,.0 -.5,.0 -.5,.0 -.5,.0 -.5,.0 -.6,.0 -.5,.0 -.5,.0 -.5,.0 -.5,.0 -.5,.0 -.5,.0 -.5,.0 -.5,.0 -.5,.0 -.5,.0 -.5,.0 -.5,.0 -.5,.0 -.5,.0 -.5,.0 -.6,.0 -.5,.0 -.5,.0 -.5,.0 -.5,.0 -.5,.0 -.5,.0 -.5,.0 -.5,.0 -.5,.0 -.5,.0 -.5,.0 -.5,.0 -.5,.0 -.5,.0 -.5,.0 -.5,.0 -.6,.0 -.5,.0 -.5,.0 -.5,.0 -.5,.0 -.5,.0 -.5,.0 -.5,.0 -.5,.0 -.5,.0 -.5,.0 -.5,.0 -.5,.0 -.5,.0 -.5,.0 -.5,.0 -.5,.0 -.6,.0 -.5,.0 -.5,.0 -.5,.0 -.5,.0 -.5,.0 -.5,.0 -.5,.0 -.5,.0 -.5,.0 -.5,.0 -.5,.0 -.5,.0 -.5,.0 -.5,.0 -.5,.0 -.5,.0 -.6,.0 -.5,.0 -.5,.0 -.5,.0 -.5,.0 -.5,.0 -.5,.0 -.5,.0 -.5,.0 -.5,.0 -.5,.0 -.5,.0 -.5,.0 -.5,.0 -.5,.0 -.5,.0 -.6,.0 -.5,.0 -.5,.0 -.5,.0 -.5,.0 -.5,.0 -.5,.0 -.5,.0 -.5,.0 -.5,.0 -.5,.0 -.5,.0 -.5,.0 -.5,.0 -.5,.0 -.5,.0 -.5,.0 -.6,.0 -.5,.0 -.5,.0 -.5,.0 -.5,.0 -.5,.0 -.5,.0 -.5,.0 -.5,.0 -.5,.0 -.5,.0 -.5,.0 -.5,.0 -.5,.0 -.5,.0 -.5,.0 -.6,.0 -.5,.0 -.5,.0 -.5,.0 -.5,.0 -.5,.0 -.5,.0 -.5,.0 -.5,.0 -.5,.0 -.5,.0 -.5,.0 -.5,.0 -.5,.0 -.5,.0 -.5,.0 -.5,.0 -.6,.0 -.5,.0 -.5,.0 -.5,.0 -.5,.0 -.5,.0 -.5,.0 -.5,.0 -.5,.0 -.5,.0 -.5,.0 -.5,.0 -.5,.0 -.5,.0 -.5,.0 -.5,.0 -.5,.0 -.6,.0 -.5,.0 -.5,.0 -.5,.0 -.5,.0 -.5,.0 -.5,.0 -.5,.0 -.5,.0 -.5,.0 -.5,.0 -.5,.0 -.5,.0 -.5,.0 -.5,.0 -.5,.0 -.5,.0 -.6,.0 -.5,.0 -.5,.0 -.5,.0 -.5,.0 -.5,.0 -.5,.0 -.5,.0 -.5,.0 -.5,.0 -.5,.0 -.5,.0 -.5,.0 -.5,.0 -.5,.0 -.5,.0 -.6,.0 -.5,.0 -.5,.0 -.5,.0 -.5,.0 -.5,.0 -.5,.0 -.5,.0 -.5,.0 -.5,.0 -.5,.0 -.5,.0 -.5,.0 -.5,.0 -.5,.0 -.5,.0 -.5,.0 -.6,.0 -.5,.0 -.5,.0 -.5,.0 -.5,.0 -.5,.0 -.5,.0 -.5,.0 -.5,.0 -.5,.0 -.5,.0 -.5,.0 -.5,.0 -.5,.0 -.5,.0 -.5,.0 -.6,.0 -.5,.0 -.5,.0 -.5,.0 -.5,.0 -.5,.0 -.5,.0 -.5,.0 -.5,.0 -.5,.0 -.5,.0 -.5,.0 -.5,.0 -.5,.0 -.5,.0 -.5,.0 -.5,.0 -.6,.0 -.5,.0 -.5,.0 -.5,.0 -.5,.0 -.5,.0 -.5,.0 -.5,.0 -.5,.0 -.5,.0 -.5,.0 -.5,.0 -.5,.0 -.5,.0 -.5,.0 -.5,.0 -.5,.0 -.6,.0 -.5,.0 -.5,.0 -.5,.0 -.5,.0 -.5,.0 -.5,.0 -.5,.0 -.5,.0 -.5,.0 -.5,.0 -.5,.0 -.5,.0 -.5,.0 -.5,.0 -.5,.0 -.5,.0 -.6,.0 -.5,.0 -.5,.0 -.5,.0 -.5,.0 -.5,.0 -.5,.0 -.5,.0 -.5,.0 -.5,.0 -.5,.0 -.5,.0 -.5,.0 -.5,.0 -.5,.0 -.5,.0 -.6,.0 -.5,.0 -.5,.0 -.5,.0 -.5,.0 -.5,.0 -.5,.0 -.5,.0 -.5,.0Z" fill="#e5fdfd" stroke="none"/>
<path d="M266.5,117.3H444.6" stroke="#555555" stroke-width="1.0" stroke-dasharray="2.2 1.9" fill="none"/>
<path d="M266.5,34.58H444.6" stroke="#555555" stroke-width="1.0" stroke-dasharray="2.2 1.9" fill="none"/>
<path d="M266.5,117.3l.2,.0 .2,.0 .2,.0 .2,.0 .2,.0 .2,.0 .2,.0 .2,.0 .2,.0 .2,.0 .2,.0 .2,.0 .2,.0 .2,.0 .2,.0 .2,.0 .2,.0 .2-.1 .2,.0 .2,.0 .3,.0 .2-.1 .2,.0 .2-.1 .2-.1 .2-.1 .2-.1 .2-.2 .2-.2 .2-.3 .2-.4 .2-.5 .2-.7 .2-.8 .2-1.1 .2-1.5 .2-1.8 .2-2.5 .2-3.1 .2-4.1 .2-5.3 .2-6.9 .2-8.9 .2-11.6 .2-15.1 .2-19.5 .2,.1 .2,.1 .2,.1 .2,.1 .2,.1 .2,.1 .2,.1 .2,.1 .2,.1 .2,.1 .2,.1 .2,.2 .2,.1 .2,.1 .2,.2 .2,.1 .3,.1 .2,.2 .2,.1 .2,.2 .2,.1 .2,.2 .2,.2 .2,.1 .2,.2 .2,.1 .2,.2 .2,.2 .2,.1 .2,.2 .2,.2 .2,.2 .2,.1 .2,.2 .2,.2 .2,.2 .2,.1 .2,.2 .2,.2 .2,.2 .2,.1 .2,.2 .2,.2 .2,.2 .2,.1 .2,.2 .2,.2 .2,.2 .2,.1 .2,.2 .2,.2 .2,.1 .2,.2 .2,.1 .2,.2 .2,.1 .2,.2 .2,.1 .3,.2 .2,.1 .2,.2 .2,.1 .2,.1 .2,.2 .2,.1 .2,.1 .2,.1 .2,.2 .2,.1 .2,.1 .2,.1 .2,.1 .2,.1 .2,.1 .2,.0 .2,.1 .2,.1 .2,.1 .2,.0 .2,.1 .2,.1 .2,.0 .2,.1 .2,.0 .2,.0 .2,.1 .2,.0 .2,.0 .2,.0 .2,.1 .2,.0 .2,.0 .2,.0 .2,.0 .2-.1 .2,.0 .2,.0 .2-.1 .2,.0 .3,.0 .2-.1 .2-.1 .2,.0 .2-.1 .2-.1 .2-.1 .2-.1 .2-.1 .2-.1 .2-.1 .2-.1 .2-.2 .2-.1 .2-.1 .2-.2 .2-.1 .2-.2 .2-.2 .2-.1 .2-.2 .2-.2 .2-.1 .2-.2 .2-.2 .2-.2 .2-.2 .2-.2 .2-.2 .2-.2 .2-.2 .2-.2 .2-.3 .2-.2 .2-.2 .2-.2 .2-.3 .2-.2 .2-.2 .2-.2 .2-.3 .2-.2 .3-.2 .2-.3 .2-.2 .2-.2 .2-.3 .2-.2 .2-.3 .2-.2 .2-.2 .2-.3 .2-.2 .2-.2 .2-.3 .2-.2 .2-.2 .2-.2 .2-.3 .2-.2 .2-.2 .2-.2 .2-.2 .2-.2 .2-.2 .2-.2 .2-.2 .2-.2 .2-.2 .2-.2 .2-.2 .2-.1 .2-.2 .2-.2 .2-.1 .2-.2 .2-.1 .2-.2 .2-.1 .2-.2 .2-.1 .2-.1 .2-.1 .2-.1 .3-.1 .2-.1 .2-.1 .2-.1 .2-.1 .2-.1 .2,.0 .2-.1 .2,.0 .2-.1 .2,.0 .2,.0 .2-.1 .2,.0 .2,.0 .2,.0 .2,.0 .2,.0 .2,.0 .2,.0 .2,.1 .2,.0 .2,.0 .2,.1 .2,.0 .2,.1 .2,.1 .2,.0 .2,.1 .2,.1 .2,.1 .2,.0 .2,.1 .2,.1 .2,.1 .2,.1 .2,.2 .2,.1 .2,.1 .2,.1 .2,.2 .3,.1 .2,.1 .2,.2 .2,.1 .2,.2 .2,.1 .2,.2 .2,.1 .2,.2 .2,.2 .2,.1 .2,.2 .2,.2 .2,.2 .2,.1 .2,.2 .2,.2 .2,.2 .2,.1 .2,.2 .2,.2 .2,.2 .2,.2 .2,.1 .2,.2 .2,.2 .2,.2 .2,.2 .2,.1 .2,.2 .2,.2 .2,.2 .2,.1 .2,.2 .2,.2 .2,.1 .2,.2 .2,.2 .2,.1 .2,.2 .2,.1 .2,.2 .3,.1 .2,.1 .2,.2 .2,.1 .2,.1 .2,.2 .2,.1 .2,.1 .2,.1 .2,.1 .2,.1 .2,.1 .2,.1 .2,.1 .2,.0 .2,.1 .2,.1 .2,.0 .2,.1 .2,.1 .2,.0 .2,.0 .2,.1 .2,.0 .2,.0 .2,.0 .2,.0 .2,.0 .2,.0 .2,.0 .2,.0 .2,.0 .2,.0 .2-.1 .2,.0 .2-.1 .2,.0 .2-.1 .2-.1 .2,.0 .2-.1 .2-.1 .3-.1 .2-.1 .2-.1 .2-.1 .2-.2 .2-.1 .2-.1 .2-.2 .2-.1 .2-.1 .2-.2 .2-.2 .2-.1 .2-.2 .2-.2 .2-.1 .2-.2 .2-.2 .2-.2 .2-.2 .2-.2 .2-.2 .2-.2 .2-.2 .2-.2 .2-.2 .2-.2 .2-.2 .2-.2 .2-.2 .2-.3 .2-.2 .2-.2 .2-.2 .2-.2 .2-.2 .2-.3 .2-.2 .2-.2 .2-.2 .2-.2 .3-.3 .2-.2 .2-.2 .2-.2 .2-.2 .2-.2 .2-.2 .2-.2 .2-.2 .2-.2 .2-.2 .2-.2 .2-.2 .2-.2 .2-.2 .2-.1 .2-.2 .2-.2 .2-.1 .2-.2 .2-.1 .2-.2 .2-.1 .2-.2 .2-.1 .2-.1 .2-.1 .2-.2 .2-.1 .2-.1 .2-.1 .2-.1 .2,.0 .2-.1 .2-.1 .2-.1 .2,.0 .2-.1 .2,.0 .2,.0 .2-.1 .2,.0 .3,.0 .2,.0 .2,.0 .2,.0 .2,.0 .2,.0 .2,.0 .2,.1 .2,.0 .2,.0 .2,.1 .2,.0 .2,.1 .2,.1 .2,.1 .2,.0 .2,.1 .2,.1 .2,.1 .2,.1 .2,.2 .2,.1 .2,.1 .2,.1 .2,.2 .2,.1 .2,.2 .2,.1 .2,.2 .2,.1 .2,.2 .2,.2 .2,.1 .2,.2 .2,.2 .2,.2 .2,.2 .2,.2 .2,.2 .2,.2 .2,.2 .2,.2 .3,.2 .2,.2 .2,.2 .2,.2 .2,.2 .2,.3 .2,.2 .2,.2 .2,.2 .2,.2 .2,.3 .2,.2 .2,.2 .2,.2 .2,.2 .2,.2 .2,.3 .2,.2 .2,.2 .2,.2 .2,.2 .2,.2 .2,.2 .2,.2 .2,.2 .2,.2 .2,.2 .2,.2 .2,.2 .2,.2 .2,.2 .2,.1 .2,.2 .2,.2 .2,.1 .2,.2 .2,.2 .2,.1 .2,.1 .2,.2 .2,.1 .3,.1 .2,.2 .2,.1 .2,.1 .2,.1 .2,.1 .2,.1 .2,.1 .2,.0 .2,.1 .2,.1 .2,.0 .2,.1 .2,.0 .2,.1 .2,.0 .2,.0 .2,.0 .2,.0 .2,.0 .2,.0 .2,.0 .2,.0 .2,.0 .2,.0 .2-.1 .2,.0 .2,.0 .2-.1 .2-.1 .2,.0 .2-.1 .2-.1 .2,.0 .2-.1 .2-.1 .2-.1 .2-.1 .2-.1 .2-.1 .2-.1 .2-.1 .3-.2 .2-.1 .2-.1 .2-.2 .2-.1 .2-.1 .2-.2 .2-.1 .2-.2 .2-.1 .2-.2 .2-.2 .2-.1 .2-.2 .2-.2 .2-.1 .2-.2 .2-.2 .2-.2 .2-.1 .2-.2 .2-.2 .2-.2 .2-.2 .2-.1 .2-.2 .2-.2 .2-.2 .2-.2 .2-.1 .2-.2 .2-.2 .2-.2 .2-.1 .2-.2 .2-.2 .2-.2 .2-.1 .2-.2 .2-.2 .2-.1 .2-.2 .3-.1 .2-.2 .2-.1 .2-.2 .2-.1 .2-.1 .2-.2 .2-.1 .2-.1 .2-.1 .2-.2 .2-.1 .2-.1 .2-.1 .2-.1 .2,.0 .2-.1 .2-.1 .2-.1 .2,.0 .2-.1 .2-.1 .2,.0 .2-.1 .2,.0 .2,.0 .2-.1 .2,.0 .2,.0 .2,.0 .2,.0 .2,.0 .2,.0 .2,.0 .2,.1 .2,.0 .2,.0 .2,.1 .2,.0 .2,.1 .2,.0 .3,.1 .2,.1 .2,.1 .2,.1 .2,.1 .2,.1 .2,.1 .2,.1 .2,.1 .2,.1 .2,.2 .2,.1 .2,.2 .2,.1 .2,.2 .2,.1 .2,.2 .2,.2 .2,.1 .2,.2 .2,.2 .2,.2 .2,.2 .2,.2 .2,.2 .2,.2 .2,.2 .2,.2 .2,.2 .2,.2 .2,.2 .2,.3 .2,.2 .2,.2 .2,.2 .2,.3 .2,.2 .2,.2 .2,.3 .2,.2 .2,.2 .2,.3 .3,.2 .2,.3 .2,.2 .2,.2 .2,.3 .2,.2 .2,.2 .2,.3 .2,.2 .2,.2 .2,.2 .2,.3 .2,.2 .2,.2 .2,.2 .2,.3 .2,.2 .2,.2 .2,.2 .2,.2 .2,.2 .2,.2 .2,.2 .2,.2 .2,.2 .2,.1 .2,.2 .2,.2 .2,.1 .2,.2 .2,.2 .2,.1 .2,.2 .2,.1 .2,.1 .2,.2 .2,.1 .2,.1 .2,.1 .2,.1 .2,.1 .2,.1 .3,.1 .2,.1 .2,.0 .2,.1 .2,.1 .2,.0 .2,.0 .2,.1 .2,.0 .2,.0 .2,.1 .2,.0 .2,.0 .2,.0 .2,.0 .2-.1 .2,.0 .2,.0 .2,.0 .2-.1 .2,.0 .2,.0 .2-.1 .2,.0 .2-.1 .2-.1 .2,.0 .2-.1 .2-.1 .2-.1 .2,.0 .2-.1 .2-.1 .2-.1 .2-.1 .2-.1 .2-.1 .2-.2 .2-.1 .2-.1 .2-.1 .3-.2 .2-.1 .2-.1 .2-.2 .2-.1 .2-.2 .2-.1 .2-.2 .2-.1 .2-.2 .2-.1 .2-.2 .2-.1 .2-.2 .2-.2 .2-.1 .2-.2 .2-.2 .2-.2 .2-.1 .2-.2 .2-.2 .2-.2 .2-.1 .2-.2 .2-.2 .2-.2 .2-.1 .2-.2 .2-.2 .2-.2 .2-.1 .2-.2 .2-.2 .2-.2 .2-.1 .2-.2 .2-.2 .2-.1 .2-.2 .2-.1 .2-.2 .3-.2 .2-.1 .2-.2 .2-.1 .2-.2 .2-.1 .2-.1 .2-.2 .2-.1 .2-.1 .2-.2 .2-.1 .2-.1 .2-.1 .2-.1 .2-.1 .2-.1 .2-.1 .2-.1 .2-.1 .2-.1 .2,6.3 .2,18 .2,13.8 .2,10.7 .2,8.3 .2,6.4 .2,4.9 .2,3.8 .2,2.9 .2,2.3 .2,1.7 .2,1.4 .2,1 .2,.8 .2,.6 .2,.5 .2,.4 .2,.2 .2,.3 .2,.1 .2,.2 .3,.1 .2,.0 .2,.1 .2,.0 .2,.1 .2,.0 .2,.0 .2,.0 .2,.1 .2,.0 .2,.0 .2,.0 .2,.0 .2,.0 .2,.0 .2,.0 .2,.0 .2,.0 .2,.0 .2,.0 .2,.0 .2,.0 .2,.0 .2,.0 .2,.0 .2,.0" stroke="#eba324" stroke-width="1.3" fill="none" stroke-linejoin="round" />
</g>
<path d="M263.5,117.3H266.5 M441.6,117.3H444.6 M263.5,70.7H266.5 M441.6,70.7H444.6 M263.5,24.1H266.5 M441.6,24.1H444.6 M265.2,94H266.5 M443.1,94H444.6 M265.2,47.4H266.5 M443.1,47.4H444.6 M266.5,141.3V143.9 M266.5,1.5V3.7 M306.98,141.3V143.9 M306.98,1.5V3.7 M347.46,141.3V143.9 M347.46,1.5V3.7 M387.94,141.3V143.9 M387.94,1.5V3.7 M428.42,141.3V143.9 M428.42,1.5V3.7 M286.74,141.3V142.8 M286.74,1.5V3 M327.22,141.3V142.8 M327.22,1.5V3 M367.7,141.3V142.8 M367.7,1.5V3 M408.18,141.3V142.8 M408.18,1.5V3" stroke="#4a4a4a" stroke-width="1" fill="none"/>
<rect x="266.5" y="1.5" width="178.1" height="139.8" fill="none" stroke="#6e6e6e" stroke-width="1"/>
<text x="262.9" y="119.8" font-size="10.4" text-anchor="end" fill="#1e1e1e">0E+0</text>
<text x="262.9" y="73.2" font-size="10.4" text-anchor="end" fill="#1e1e1e">1E+9</text>
<text x="262.9" y="26.6" font-size="10.4" text-anchor="end" fill="#1e1e1e">2E+9</text>
<text x="266.5" y="153.3" font-size="11" text-anchor="middle" fill="#1e1e1e">0</text>
<text x="306.98" y="153.3" font-size="11" text-anchor="middle" fill="#1e1e1e">2</text>
<text x="347.46" y="153.3" font-size="11" text-anchor="middle" fill="#1e1e1e">4</text>
<text x="387.94" y="153.3" font-size="11" text-anchor="middle" fill="#1e1e1e">6</text>
<text x="428.42" y="153.3" font-size="11" text-anchor="middle" fill="#1e1e1e">8</text>
<path d="M291.1,97.2H313.6" stroke="#eba324" stroke-width="1.4"/>
<text x="317.5" y="101.4" font-size="10.15" font-weight="bold" font-style="normal" fill="#d3ab2a" text-anchor="start" ><tspan font-style="italic">Curve 2</tspan> (single-cycle</text>
<text x="317.5" y="113.2" font-size="10.15" font-weight="bold" font-style="normal" fill="#d3ab2a" text-anchor="start" >rectangular waveform)</text>
<path d="M431.5,41V112.3" stroke="#111" stroke-width="1.15" stroke-dasharray="1.1 1.1"/>
<path d="M431.6,35.6 l-3.4,5.2 h6.8 Z" fill="#000"/>
<path d="M431.6,117.3 l-3.4,-5.2 h6.8 Z" fill="#000"/>
<text x="413.2" y="80.8" font-size="12.5" font-weight="normal" font-style="italic" fill="#1e1e1e" text-anchor="start" >a1</text>
<g clip-path="url(#c140401892562304)">
<path d="M489.6,42.1l.5,.5 .5,.4 .5,.4 .5,.3 .5,.4 .5,.4 .5,.3 .5,.4 .5,.4 .6,.4 .5,.5 .5,.4 .5,.5 .5,.5 .5,.4 .5,.5 .5,.5 .5,.4 .5,.4 .5,.5 .5,.4 .5,.4 .5,.4 .5,.4 .5,.4 .5,.4 .5,.4 .5,.4 .6,.4 .5,.4 .5,.4 .5,.4 .5,.4 .5,.3 .5,.4 .5,.4 .5,.4 .5,.4 .5,.4 .5,.4 .5,.4 .5,.4 .5,.4 .5,.4 .5,.4 .5,.4 .5,.3 .6,.3 .5,.3 .5,.3 .5,.2 .5,.2 .5,.1 .5,.1 .5,.0 .5,.0 .5-.1 .5-.2 .5-.2 .5-.2 .5-.3 .5-.4 .5-.4 .5-.4 .5-.4 .5-.5 .6-.5 .5-.5 .5-.6 .5-.5 .5-.6 .5-.6 .5-.6 .5-.6 .5-.5 .5-.6 .5-.6 .5-.6 .5-.6 .5-.6 .5-.5 .5-.6 .5-.5 .5-.6 .5-.5 .6-.5 .5-.5 .5-.5 .5-.4 .5-.4 .5-.4 .5-.4 .5-.3 .5-.3 .5-.3 .5-.2 .5-.1 .5-.1 .5-.1 .5,.0 .5,.1 .5,.1 .5,.2 .5,.3 .6,.3 .5,.3 .5,.4 .5,.5 .5,.5 .5,.5 .5,.5 .5,.6 .5,.6 .5,.6 .5,.6 .5,.6 .5,.6 .5,.6 .5,.6 .5,.5 .5,.6 .5,.5 .5,.5 .6,.4 .5,.5 .5,.4 .5,.3 .5,.4 .5,.3 .5,.2 .5,.3 .5,.2 .5,.1 .5,.1 .5,.1 .5,.0 .5,.0 .5,.0 .5-.2 .5-.1 .5-.2 .5-.2 .6-.3 .5-.3 .5-.3 .5-.4 .5-.4 .5-.4 .5-.5 .5-.5 .5-.5 .5-.5 .5-.6 .5-.6 .5-.6 .5-.6 .5-.6 .5-.6 .5-.6 .5-.6 .5-.6 .6-.6 .5-.6 .5-.5 .5-.5 .5-.5 .5-.4 .5-.3 .5-.4 .5-.2 .5-.2 .5-.2 .5-.2 .5,.0 .5-.1 .5,.0 .5,.0 .5,.1 .5,.0 .5,.2 .6,.2 .5,.2 .5,.2 .5,.4 .5,.3 .5,.4 .5,.5 .5,.5 .5,.5 .5,.6 .5,.6 .5,.6 .5,.6 .5,.6 .5,.6 .5,.6 .5,.6 .5,.6 .5,.6 .6,.6 .5,.5 .5,.5 .5,.5 .5,.5 .5,.4 .5,.4 .5,.4 .5,.3 .5,.3 .5,.3 .5,.2 .5,.2 .5,.1 .5,.2 .5,.0 .5,.0 .5,.0 .5-.1 .5-.1 .6-.1 .5-.2 .5-.3 .5-.2 .5-.3 .5-.4 .5-.3 .5-.4 .5-.5 .5-.4 .5-.5 .5-.5 .5-.6 .5-.5 .5-.6 .5-.6 .5-.6 .5-.6 .5-.6 .6-.6 .5-.6 .5-.6 .5-.5 .5-.5 .5-.5 .5-.5 .5-.4 .5-.3 .5-.3 .5-.3 .5-.2 .5-.1 .5-.1 .5,.0 .5,.1 .5,.1 .5,.1 .5,.2 .6,.3 .5,.3 .5,.3 .5,.4 .5,.4 .5,.4 .5,.4 .5,.5 .5,.5 .5,.5 .5,.5 .5,.6 .5,.5 .5,.6 .5,.5 .5,.6 .5,.6 .5,.6 .5,.6 .6,.6 .5,.5 .5,.6 .5,.6 .5,.6 .5,.6 .5,.5 .5,.6 .5,.5 .5,.5 .5,.5 .5,.4 .5,.4 .5,.4 .5,.4 .5,.3 .5,.2 .5,.2 .5,.2 .6,.1 .5,.0 .5,.0 .5-.1 .5-.1 .5-.2 .5-.2 .5-.3 .5-.3 .5-.3 .5-.3 .5-.4 .5-.4 .5-.4 .5-.4 .5-.4 .5-.4 .5-.4 .5-.4 .6-.4 .5-.4 .5-.4 .5-.4 .5-.3 .5-.4 .5-.4 .5-.4 .5-.4 .5-.4 .5-.4 .5-.4 .5-.4 .5-.4 .5-.4 .5-.4 .5-.4 .5-.4 .5-.5 .6-.4 .5-.4 .5-.5 .5-.5 .5-.4 .5-.5 .5-.5 .5-.4 .5-.5 .5-.4 .5-.4 .5-.4 .5-.3 .5-.4 .5-.4 .5-.3 .5-.4 .5-.4 .5-.5 .0,79 -.5,.3 -.5,.4 -.5,.3 -.5,.3 -.5,.3 -.5,.2 -.5,.3 -.5,.3 -.5,.2 -.5,.3 -.5,.2 -.5,.3 -.5,.2 -.5,.2 -.5,.2 -.5,.2 -.5,.2 -.5,.2 -.6,.2 -.5,.2 -.5,.2 -.5,.1 -.5,.1 -.5,.1 -.5,.0 -.5,.0 -.5,.0 -.5,.1 -.5,.0 -.5,.0 -.5,.0 -.5,.0 -.5,.0 -.5,.1 -.5,.0 -.5,.0 -.5,.0 -.6,.0 -.5,.0 -.5,.0 -.5,.0 -.5,.0 -.5,.0 -.5,.0 -.5,.0 -.5,.0 -.5,.0 -.5,.0 -.5,.0 -.5,.0 -.5,.0 -.5,.0 -.5,.0 -.5,.0 -.5,.0 -.5,.0 -.6,.0 -.5,.0 -.5,.0 -.5,.0 -.5,.0 -.5,.0 -.5,.0 -.5,.0 -.5,.0 -.5,.0 -.5,.0 -.5,.0 -.5,.0 -.5,.0 -.5,.0 -.5,.0 -.5,.0 -.5,.0 -.5,.0 -.6,.0 -.5-.1 -.5,.0 -.5,.0 -.5,.0 -.5,.0 -.5,.0 -.5,.0 -.5,.0 -.5,.0 -.5,.0 -.5,.0 -.5,.0 -.5,.0 -.5,.0 -.5,.0 -.5,.0 -.5,.0 -.5,.0 -.6,.0 -.5,.0 -.5,.0 -.5,.0 -.5,.0 -.5,.0 -.5,.0 -.5,.0 -.5,.0 -.5,.0 -.5,.0 -.5,.0 -.5,.0 -.5,.0 -.5,.0 -.5,.0 -.5,.0 -.5,.1 -.5,.0 -.6,.0 -.5,.0 -.5,.0 -.5,.0 -.5,.0 -.5,.0 -.5,.0 -.5,.0 -.5,.0 -.5,.0 -.5,.0 -.5,.0 -.5,.0 -.5,.0 -.5,.0 -.5,.0 -.5,.0 -.5,.0 -.5,.0 -.6,.0 -.5,.0 -.5,.0 -.5,.0 -.5,.0 -.5,.0 -.5,.0 -.5,.0 -.5,.0 -.5,.0 -.5,.0 -.5,.0 -.5,.0 -.5,.0 -.5,.0 -.5,.0 -.5,.0 -.5,.0 -.5,.0 -.5,.0 -.6,.0 -.5,.0 -.5,.0 -.5,.0 -.5,.0 -.5,.0 -.5,.0 -.5,.0 -.5-.1 -.5,.0 -.5,.0 -.5,.0 -.5,.0 -.5,.0 -.5,.0 -.5,.0 -.5,.0 -.5,.0 -.5,.0 -.6,.0 -.5,.0 -.5,.0 -.5,.0 -.5,.0 -.5,.0 -.5,.0 -.5,.0 -.5,.0 -.5,.0 -.5,.0 -.5,.0 -.5,.0 -.5,.0 -.5,.0 -.5,.0 -.5,.0 -.5,.0 -.5,.0 -.6,.0 -.5,.1 -.5,.0 -.5,.0 -.5,.0 -.5,.0 -.5,.0 -.5,.0 -.5,.0 -.5,.0 -.5,.0 -.5,.0 -.5,.0 -.5,.0 -.5,.0 -.5,.0 -.5,.0 -.5,.0 -.5,.0 -.6,.0 -.5,.0 -.5,.0 -.5,.0 -.5,.0 -.5,.0 -.5,.0 -.5,.0 -.5,.0 -.5,.0 -.5,.0 -.5,.0 -.5,.0 -.5,.0 -.5,.0 -.5,.0 -.5,.0 -.5,.0 -.5,.0 -.6,.0 -.5,.0 -.5,.0 -.5,.0 -.5,.0 -.5,.0 -.5,.0 -.5,.0 -.5,.0 -.5,.0 -.5,.0 -.5,.0 -.5-.1 -.5,.0 -.5,.0 -.5,.0 -.5,.0 -.5,.0 -.5,.0 -.6,.0 -.5,.0 -.5,.0 -.5,.0 -.5,.0 -.5,.0 -.5,.0 -.5,.0 -.5,.0 -.5,.0 -.5,.0 -.5,.0 -.5,.0 -.5,.0 -.5,.0 -.5,.0 -.5,.0 -.5,.0 -.5,.0 -.6,.0 -.5,.0 -.5,.0 -.5,.0 -.5,.0 -.5,.0 -.5,.0 -.5,.0 -.5,.0 -.5,.1 -.5,.0 -.5,.0 -.5,.0 -.5,.0 -.5,.0 -.5,.0 -.5,.0 -.5,.0 -.5,.0 -.6,.0 -.5,.0 -.5,.0 -.5,.0 -.5,.0 -.5,.0 -.5,.0 -.5,.0 -.5,.0 -.5,.0 -.5,.0 -.5,.0 -.5,.0 -.5,.0 -.5,.0 -.5,.0 -.5,.0 -.5,.0 -.5,.0 -.6,.0 -.5,.0 -.5,.0 -.5,.0 -.5,.0 -.5,.0 -.5,.0 -.5,.0 -.5,.0 -.5,.0 -.5,.0 -.5,.0 -.5,.0 -.5,.0 -.5,.0 -.5,.0 -.5,.0 -.5-.1 -.5,.0 -.6,.0 -.5,.0 -.5,.0 -.5,.0 -.5,.0 -.5,.0 -.5-.1 -.5,.0 -.5,.0 -.5,.0 -.5,.0 -.5,.0 -.5,.0 -.5-.1 -.5,.0 -.5,.0 -.5,.0 -.5-.1 -.5,.0 -.6,.0 -.5-.1 -.5,.0 -.5,.0 -.5-.1 -.5,.0 -.5-.1 -.5,.0 -.5-.1 -.5,.0Z" fill="#e5fdfd" stroke="none"/>
<path d="M489.5,52.47H667.3" stroke="#8a8a8a" stroke-width="1.0" stroke-dasharray="2.2 1.9" fill="none"/>
<path d="M489.5,126.7H667.3" stroke="#555555" stroke-width="1.0" stroke-dasharray="2.2 1.9" fill="none"/>
<path d="M489.6,127.4l.2,.0 .2,.0 .2,.0 .2,.0 .2,.0 .2,.0 .2,.0 .2,.0 .2,.0 .2,.0 .2,.0 .2,.0 .2,.0 .2-.1 .2,.0 .2,.0 .2,.0 .2,.0 .2,.0 .2-.1 .2,.0 .2,.0 .2-.1 .3-.1 .2,.0 .2-.1 .2-.1 .2-.1 .2-.2 .2-.2 .2-.2 .2-.2 .2-.3 .2-.4 .2-.4 .2-.5 .2-.6 .2-.8 .2-.9 .2-1 .2-1.3 .2-1.5 .2-1.8 .2-2.2 .2-2.6 .2-3.1 .2-3.7 .2-4.5 .2-5.3 .2-6.4 .2-5.9 .2-5.6 .2-5.4 .2-4.9 .2-4.4 .2-3.6 .2-3 .2-2.1 .2-1.2 .2-.3 .2,.7 .2,1.5 .2,2.4 .2,3.1 .2,3.9 .2,4.5 .2,5.1 .2,5.4 .2,5.7 .2,5.8 .2,5.7 .3,5.6 .2,5.4 .2,4.8 .2,4.4 .2,3.7 .2,2.9 .2,2.2 .2,1.3 .2,.5 .2-.5 .2-1.3 .2-2.1 .2-2.9 .2-3.6 .2-4.1 .2-4.7 .2-5.1 .2-5.2 .2-5.4 .2-5.4 .2-5.2 .2-5 .2-4.5 .2-4 .2-3.4 .2-2.6 .2-1.9 .2-1.1 .2-.3 .2,.6 .2,1.4 .2,2.2 .2,2.9 .2,3.6 .2,4.2 .2,4.6 .2,5 .2,5.2 .2,5.3 .2,5.3 .2,5.1 .2,4.8 .2,4.5 .2,4 .2,3.4 .2,2.7 .2,1.9 .2,1.2 .3,.4 .2-.4 .2-1.2 .2-1.9 .2-2.7 .2-3.2 .2-3.9 .2-4.3 .2-4.6 .2-4.9 .2-5 .2-5 .2-4.9 .2-4.6 .2-4.3 .2-3.8 .2-3.3 .2-2.6 .2-1.9 .2-1.2 .2-.4 .2,.3 .2,1.2 .2,1.9 .2,2.5 .2,3.3 .2,3.7 .2,4.3 .2,4.6 .2,4.9 .2,5 .2,5 .2,4.9 .2,4.7 .2,4.3 .2,3.9 .2,3.3 .2,2.7 .2,2 .2,1.2 .2,.4 .2-.4 .2-1.2 .2-2 .2-2.8 .2-3.4 .2-4.1 .3-4.6 .2-4.9 .2-5.3 .2-5.4 .2-5.5 .2-5.3 .2-5.2 .2-4.8 .2-4.3 .2-3.7 .2-3.1 .2-2.3 .2-1.5 .2-.7 .2,.2 .2,1.1 .2,1.9 .2,2.7 .2,3.4 .2,4.1 .2,4.7 .2,5 .2,5.4 .2,5.6 .2,5.6 .2,5.4 .2,5.3 .2,4.9 .2,4.3 .2,3.8 .2,3 .2,2.2 .2,1.4 .2,.4 .2-.4 .2-1.4 .2-2.3 .2-3.1 .2-3.9 .2-4.6 .2-5.2 .2-5.6 .2-6 .2-6.1 .2-6.2 .2-6 .2-5.8 .2-5.4 .3-4.8 .2-4.2 .2-3.4 .2-2.6 .2-1.6 .2-.7 .2,.3 .2,1.3 .2,2.3 .2,3.1 .2,3.9 .2,4.7 .2,5.2 .2,5.7 .2,6.1 .2,6.3 .2,6.2 .2,6.2 .2,5.8 .2,5.4 .2,4.9 .2,4.1 .2,3.3 .2,2.5 .2,1.5 .2,.5 .2-.5 .2-1.5 .2-2.5 .2-3.3 .2-4.2 .2-5 .2-5.5 .2-5.9 .2-6.3 .2-6.4 .2-6.5 .2-6.2 .2-5.9 .2-5.5 .2-4.8 .2-4.2 .2-3.3 .2-2.3 .2-1.4 .2-.4 .2,.6 .3,1.6 .2,2.6 .2,3.4 .2,4.3 .2,5 .2,5.5 .2,5.9 .2,6.3 .2,6.4 .2,6.3 .2,6.2 .2,5.8 .2,5.4 .2,4.8 .2,4 .2,3.3 .2,2.3 .2,1.5 .2,.5 .2-.5 .2-1.4 .2-2.4 .2-3.1 .2-3.9 .2-4.5 .2-5.1 .2-5.4 .2-5.8 .2-5.8 .2-5.7 .2-5.6 .2-5.3 .2-4.8 .2-4.3 .2-3.6 .2-2.8 .2-2 .2-1.1 .2-.3 .2,.7 .2,1.5 .2,2.4 .2,3.2 .2,3.9 .2,4.4 .2,5 .2,5.3 .2,5.6 .3,5.7 .2,5.7 .2,5.5 .2,5.2 .2,4.7 .2,4.3 .2,3.6 .2,2.9 .2,2.1 .2,1.3 .2,.4 .2-.4 .2-1.3 .2-2.1 .2-2.8 .2-3.5 .2-4.1 .2-4.6 .2-5 .2-5.2 .2-5.4 .2-5.3 .2-5.2 .2-5 .2-4.5 .2-4.1 .2-3.5 .2-2.8 .2-2 .2-1.2 .2-.5 .2,.5 .2,1.2 .2,2 .2,2.8 .2,3.5 .2,4.1 .2,4.5 .2,5 .2,5.2 .2,5.3 .2,5.4 .2,5.2 .2,5 .2,4.6 .2,4.1 .2,3.5 .2,2.8 .3,2.1 .2,1.3 .2,.4 .2-.4 .2-1.3 .2-2.1 .2-2.9 .2-3.6 .2-4.2 .2-4.8 .2-5.2 .2-5.5 .2-5.6 .2-5.7 .2-5.6 .2-5.3 .2-5 .2-4.5 .2-3.8 .2-3.2 .2-2.4 .2-1.5 .2-.7 .2,.2 .2,1.2 .2,1.9 .2,2.9 .2,3.5 .2,4.3 .2,4.8 .2,5.3 .2,5.6 .2,5.8 .2,5.8 .2,5.7 .2,5.4 .2,5.1 .2,4.5 .2,3.9 .2,3.1 .2,2.4 .2,1.4 .2,.5 .2-.5 .2-1.5 .2-2.3 .2-3.3 .3-4.1 .2-4.7 .2-5.4 .2-5.9 .2-6.2 .2-6.3 .2-6.4 .2-6.3 .2-6 .2-5.6 .2-5 .2-4.3 .2-3.4 .2-2.6 .2-1.7 .2-.6 .2,.3 .2,1.4 .2,2.4 .2,3.3 .2,4.1 .2,4.8 .2,5.5 .2,6 .2,6.2 .2,6.5 .2,6.5 .2,6.3 .2,6 .2,5.6 .2,4.9 .2,4.2 .2,3.5 .2,2.5 .2,1.5 .2,.5 .2-.5 .2-1.5 .2-2.5 .2-3.5 .2-4.2 .2-4.9 .2-5.6 .2-6 .2-6.3 .2-6.5 .2-6.5 .2-6.2 .3-6 .2-5.5 .2-4.8 .2-4.1 .2-3.3 .2-2.4 .2-1.4 .2-.3 .2,.6 .2,1.7 .2,2.6 .2,3.4 .2,4.3 .2,5 .2,5.6 .2,6 .2,6.3 .2,6.4 .2,6.3 .2,6.2 .2,5.9 .2,5.4 .2,4.7 .2,4.1 .2,3.3 .2,2.3 .2,1.5 .2,.5 .2-.5 .2-1.4 .2-2.4 .2-3.1 .2-3.9 .2-4.5 .2-5.1 .2-5.4 .2-5.7 .2-5.8 .2-5.8 .2-5.6 .2-5.3 .2-4.8 .2-4.3 .2-3.5 .2-2.9 .2-1.9 .2-1.2 .3-.2 .2,.7 .2,1.5 .2,2.4 .2,3.2 .2,3.8 .2,4.5 .2,5 .2,5.3 .2,5.6 .2,5.7 .2,5.6 .2,5.5 .2,5.2 .2,4.8 .2,4.2 .2,3.6 .2,2.9 .2,2.1 .2,1.3 .2,.4 .2-.4 .2-1.3 .2-2.1 .2-2.8 .2-3.5 .2-4.1 .2-4.6 .2-5 .2-5.2 .2-5.4 .2-5.3 .2-5.2 .2-5 .2-4.5 .2-4.1 .2-3.5 .2-2.8 .2-2 .2-1.2 .2-.5 .2,.5 .2,1.2 .2,2 .2,2.8 .2,3.5 .2,4.1 .2,4.5 .3,5 .2,5.2 .2,5.3 .2,5.4 .2,5.2 .2,5 .2,4.6 .2,4.1 .2,3.5 .2,2.8 .2,2.1 .2,1.3 .2,.4 .2-.4 .2-1.3 .2-2.1 .2-2.9 .2-3.6 .2-4.3 .2-4.7 .2-5.2 .2-5.5 .2-5.7 .2-5.7 .2-5.6 .2-5.3 .2-5 .2-4.4 .2-3.9 .2-3.2 .2-2.4 .2-1.5 .2-.7 .2,.3 .2,1.1 .2,2 .2,2.8 .2,3.6 .2,4.3 .2,4.8 .2,5.3 .2,5.6 .2,5.7 .2,5.8 .2,5.8 .2,5.4 .2,5.1 .2,4.5 .3,3.9 .2,3.1 .2,2.4 .2,1.4 .2,.5 .2-.5 .2-1.5 .2-2.3 .2-3.3 .2-4 .2-4.8 .2-5.4 .2-5.8 .2-6.2 .2-6.3 .2-6.4 .2-6.3 .2-5.9 .2-5.5 .2-5 .2-4.3 .2-3.4 .2-2.6 .2-1.6 .2-.6 .2,.4 .2,1.4 .2,2.3 .2,3.3 .2,4.2 .2,4.8 .2,5.5 .2,5.9 .2,6.2 .2,6.5 .2,6.4 .2,6.3 .2,5.9 .2,5.5 .2,5 .2,4.2 .2,3.3 .2,2.5 .2,1.5 .2,.5 .2-.5 .2-1.5 .3-2.5 .2-3.3 .2-4.1 .2-4.9 .2-5.4 .2-5.8 .2-6.2 .2-6.2 .2-6.3 .2-6.1 .2-5.7 .2-5.2 .2-4.7 .2-3.9 .2-3.1 .2-2.3 .2-1.3 .2-.3 .2,.7 .2,1.6 .2,2.6 .2,3.4 .2,4.2 .2,4.8 .2,5.4 .2,5.8 .2,6 .2,6.2 .2,6.1 .2,6 .2,5.6 .2,5.2 .2,4.6 .2,3.9 .2,3.1 .2,2.3 .2,1.4 .2,.4 .2-.4 .2-1.4 .2-2.2 .2-3 .2-3.8 .2-4.3 .2-4.9 .2-5.3 .2-5.4 .2-5.6 .3-5.6 .2-5.4 .2-5 .2-4.7 .2-4.1 .2-3.4 .2-2.7 .2-1.9 .2-1.1 .2-.2 .2,.7 .2,1.5 .2,2.3 .2,3.1 .2,3.7 .2,4.3 .2,4.8 .2,5.2 .2,5.3 .2,5.5 .2,5.4 .2,5.3 .2,4.9 .2,4.6 .2,4.1 .2,3.4 .2,2.8 .2,2 .2,1.2 .2,.4 .2-.4 .2-1.2 .2-2 .2-2.7 .2-3.3 .2-3.9 .2-4.3 .2-4.7 .2-4.9 .2-5 .2-5 .2-4.9 .2-4.6 .2-4.3 .2-3.7 .2-3.3 .2-2.5 .2-1.9 .3-1.2 .2-.3 .2,.4 .2,1.2 .2,1.9 .2,2.6 .2,3.3 .2,3.8 .2,4.3 .2,4.6 .2,4.9 .2,5 .2,5 .2,4.9 .2,4.6 .2,4.3 .2,3.9 .2,3.2 .2,2.7 .2,1.9 .2,1.2 .2,.4 .2-.4 .2-1.2 .2-1.9 .2-2.7 .2-3.4 .2-4 .2-4.5 .2-4.8 .2-5.1 .2-5.3 .2-5.3 .2-5.2 .2-5 .2-4.6 .2-4.2 .2-3.6 .2-2.9 .2-2.2 .2-1.4 .2-.6 .2,.3 .2,1.1 .2,1.9 .2,2.6 .2,3.4 .3,4 .2,4.5 .2,5 .2,5.2 .2,5.3 .2,5.4 .2,5.3 .2,5.1 .2,4.6 .2,4.2 .2,3.6 .2,2.9 .2,2.1 .2,1.3 .2,.4 .2-.4 .2-1.3 .2-2.2 .2-3 .2-3.7 .2-4.3 .2-4.9 .2-5.3 .2-5.6 .2-5.8 .2-5.8 .2-5.6 .2-5.4 .2-5.1 .2-4.5 .2-3.9 .2-3.2 .2-2.3 .2-1.5 .2-.7 .2,.3 .2,1.2 .2,2.1 .2,2.9 .2,3.7 .2,4.3 .2,4.9 .2,5.3 .2,5.7 .2,5.8 .2,6.4 .2,5.4 .2,4.4 .3,3.8 .2,3.1 .2,2.6 .2,2.2 .2,1.9 .2,1.5 .2,1.2 .2,1.1 .2,.9 .2,.7 .2,.7 .2,.5 .2,.4 .2,.4 .2,.3 .2,.2 .2,.2 .2,.2 .2,.2 .2,.1 .2,.1 .2,.1 .2,.0 .2,.1 .2,.1 .2,.0 .2,.0 .2,.1 .2,.0 .2,.0 .2,.0 .2,.0 .2,.0 .2,.1 .2,.0 .2,.0 .2,.0 .2,.0 .2,.0 .2,.0 .2,.0 .2,.0 .2,.0 .2,.0 .2,.0 .2,.0 .2,.0" stroke="#d6ad34" stroke-width="1.15" fill="none" stroke-linejoin="round" />
<path d="M489.6,127.4l.2,.0 .2,.0 .2,.0 .2,.0 .2,.0 .2,.0 .2,.0 .2,.0 .2,.0 .2,.0 .2,.0 .2,.0 .2,.0 .2-.1 .2,.0 .2,.0 .2,.0 .2,.0 .2,.0 .2-.1 .2,.0 .2,.0 .2-.1 .3-.1 .2,.0 .2-.1 .2-.1 .2-.1 .2-.2 .2-.2 .2-.2 .2-.2 .2-.3 .2-.4 .2-.4 .2-.5 .2-.6 .2-.8 .2-.9 .2-1 .2-1.3 .2-1.5 .2-1.8 .2-2.2 .2-2.6 .2-3.1 .2-3.7 .2-4.5 .2-5.3 .2-6.4 .2-5.9 .2-5.6" stroke="#eba324" stroke-width="1.2" fill="none"/>
<path d="M656.9,76.9l.2,5.7 .2,5.8 .2,6.4 .2,5.4 .2,4.4 .3,3.8 .2,3.1 .2,2.6 .2,2.2 .2,1.9 .2,1.5 .2,1.2 .2,1.1 .2,.9 .2,.7 .2,.7 .2,.5 .2,.4 .2,.4 .2,.3 .2,.2 .2,.2 .2,.2 .2,.2 .2,.1 .2,.1 .2,.1 .2,.0 .2,.1 .2,.1 .2,.0 .2,.0 .2,.1 .2,.0 .2,.0 .2,.0 .2,.0 .2,.0 .2,.1 .2,.0 .2,.0 .2,.0 .2,.0 .2,.0 .2,.0 .2,.0 .2,.0 .2,.0 .2,.0 .2,.0 .2,.0 .2,.0" stroke="#eba324" stroke-width="1.2" fill="none"/>
<path d="M489.6,126l.5,.0 .5,.1 .5,.0 .5,.1 .5,.0 .5,.1 .5,.0 .5,.0 .5,.1 .6,.0 .5,.0 .5,.1 .5,.0 .5,.0 .5,.0 .5,.1 .5,.0 .5,.0 .5,.0 .5,.0 .5,.0 .5,.0 .5,.1 .5,.0 .5,.0 .5,.0 .5,.0 .5,.0 .6,.0 .5,.0 .5,.1 .5,.0 .5,.0 .5,.0 .5,.0 .5,.0 .5,.0 .5,.0 .5,.0 .5,.0 .5,.0 .5,.0 .5,.0 .5,.0 .5,.0 .5,.0 .5,.0 .6,.0 .5,.0 .5,.0 .5,.0 .5,.0 .5,.0 .5,.0 .5,.0 .5,.0 .5,.0 .5,.0 .5,.0 .5,.0 .5,.0 .5,.0 .5,.0 .5,.0 .5,.0 .5,.0 .6,.0 .5,.0 .5,.0 .5,.0 .5,.0 .5,.0 .5,.0 .5,.0 .5,.0 .5,.0 .5-.1 .5,.0 .5,.0 .5,.0 .5,.0 .5,.0 .5,.0 .5,.0 .5,.0 .6,.0 .5,.0 .5,.0 .5,.0 .5,.0 .5,.0 .5,.0 .5,.0 .5,.0 .5,.0 .5,.0 .5,.0 .5,.0 .5,.0 .5,.0 .5,.0 .5,.0 .5,.0 .5,.0 .6,.0 .5,.0 .5,.0 .5,.0 .5,.0 .5,.0 .5,.0 .5,.1 .5,.0 .5,.0 .5,.0 .5,.0 .5,.0 .5,.0 .5,.0 .5,.0 .5,.0 .5,.0 .5,.0 .6,.0 .5,.0 .5,.0 .5,.0 .5,.0 .5,.0 .5,.0 .5,.0 .5,.0 .5,.0 .5,.0 .5,.0 .5,.0 .5,.0 .5,.0 .5,.0 .5,.0 .5,.0 .5,.0 .6,.0 .5,.0 .5,.0 .5,.0 .5,.0 .5,.0 .5,.0 .5,.0 .5,.0 .5,.0 .5,.0 .5,.0 .5,.0 .5,.0 .5,.0 .5,.0 .5,.0 .5,.0 .5-.1 .6,.0 .5,.0 .5,.0 .5,.0 .5,.0 .5,.0 .5,.0 .5,.0 .5,.0 .5,.0 .5,.0 .5,.0 .5,.0 .5,.0 .5,.0 .5,.0 .5,.0 .5,.0 .5,.0 .6,.0 .5,.0 .5,.0 .5,.0 .5,.0 .5,.0 .5,.0 .5,.0 .5,.0 .5,.0 .5,.0 .5,.1 .5,.0 .5,.0 .5,.0 .5,.0 .5,.0 .5,.0 .5,.0 .6,.0 .5,.0 .5,.0 .5,.0 .5,.0 .5,.0 .5,.0 .5,.0 .5,.0 .5,.0 .5,.0 .5,.0 .5,.0 .5,.0 .5,.0 .5,.0 .5,.0 .5,.0 .5,.0 .5,.0 .6,.0 .5,.0 .5,.0 .5,.0 .5,.0 .5,.0 .5,.0 .5,.0 .5,.0 .5,.0 .5,.0 .5,.0 .5,.0 .5,.0 .5,.0 .5,.0 .5,.0 .5,.0 .5,.0 .6,.0 .5,.0 .5-.1 .5,.0 .5,.0 .5,.0 .5,.0 .5,.0 .5,.0 .5,.0 .5,.0 .5,.0 .5,.0 .5,.0 .5,.0 .5,.0 .5,.0 .5,.0 .5,.0 .6,.0 .5,.0 .5,.0 .5,.0 .5,.0 .5,.0 .5,.0 .5,.0 .5,.0 .5,.0 .5,.0 .5,.0 .5,.0 .5,.0 .5,.0 .5,.0 .5,.0 .5,.0 .5,.1 .6,.0 .5,.0 .5,.0 .5,.0 .5,.0 .5,.0 .5,.0 .5,.0 .5,.0 .5,.0 .5,.0 .5,.0 .5,.0 .5,.0 .5,.0 .5,.0 .5,.0 .5,.0 .5,.0 .6,.0 .5,.0 .5,.0 .5,.0 .5,.0 .5,.0 .5,.0 .5,.0 .5,.0 .5,.0 .5,.0 .5,.0 .5,.0 .5,.0 .5,.0 .5,.0 .5,.0 .5,.0 .5,.0 .6,.0 .5,.0 .5,.0 .5,.0 .5-.1 .5,.0 .5,.0 .5,.0 .5,.0 .5,.0 .5-.1 .5,.0 .5,.0 .5,.0 .5-.1 .5-.1 .5-.1 .5-.2 .5-.2 .6-.2 .5-.2 .5-.2 .5-.2 .5-.2 .5-.2 .5-.2 .5-.3 .5-.2 .5-.3 .5-.2 .5-.3 .5-.3 .5-.2 .5-.3 .5-.3 .5-.3 .5-.4 .5-.3" stroke="#5858aa" stroke-width="1.25" fill="none" stroke-dasharray="3 2.3"/>
<path d="M489.6,42.1l.5,.5 .5,.4 .5,.4 .5,.3 .5,.4 .5,.4 .5,.3 .5,.4 .5,.4 .6,.4 .5,.5 .5,.4 .5,.5 .5,.5 .5,.4 .5,.5 .5,.5 .5,.4 .5,.4 .5,.5 .5,.4 .5,.4 .5,.4 .5,.4 .5,.4 .5,.4 .5,.4 .5,.4 .6,.4 .5,.4 .5,.4 .5,.4 .5,.4 .5,.3 .5,.4 .5,.4 .5,.4 .5,.4 .5,.4 .5,.4 .5,.4 .5,.4 .5,.4 .5,.4 .5,.4 .5,.4 .5,.3 .6,.3 .5,.3 .5,.3 .5,.2 .5,.2 .5,.1 .5,.1 .5,.0 .5,.0 .5-.1 .5-.2 .5-.2 .5-.2 .5-.3 .5-.4 .5-.4 .5-.4 .5-.4 .5-.5 .6-.5 .5-.5 .5-.6 .5-.5 .5-.6 .5-.6 .5-.6 .5-.6 .5-.5 .5-.6 .5-.6 .5-.6 .5-.6 .5-.6 .5-.5 .5-.6 .5-.5 .5-.6 .5-.5 .6-.5 .5-.5 .5-.5 .5-.4 .5-.4 .5-.4 .5-.4 .5-.3 .5-.3 .5-.3 .5-.2 .5-.1 .5-.1 .5-.1 .5,.0 .5,.1 .5,.1 .5,.2 .5,.3 .6,.3 .5,.3 .5,.4 .5,.5 .5,.5 .5,.5 .5,.5 .5,.6 .5,.6 .5,.6 .5,.6 .5,.6 .5,.6 .5,.6 .5,.6 .5,.5 .5,.6 .5,.5 .5,.5 .6,.4 .5,.5 .5,.4 .5,.3 .5,.4 .5,.3 .5,.2 .5,.3 .5,.2 .5,.1 .5,.1 .5,.1 .5,.0 .5,.0 .5,.0 .5-.2 .5-.1 .5-.2 .5-.2 .6-.3 .5-.3 .5-.3 .5-.4 .5-.4 .5-.4 .5-.5 .5-.5 .5-.5 .5-.5 .5-.6 .5-.6 .5-.6 .5-.6 .5-.6 .5-.6 .5-.6 .5-.6 .5-.6 .6-.6 .5-.6 .5-.5 .5-.5 .5-.5 .5-.4 .5-.3 .5-.4 .5-.2 .5-.2 .5-.2 .5-.2 .5,.0 .5-.1 .5,.0 .5,.0 .5,.1 .5,.0 .5,.2 .6,.2 .5,.2 .5,.2 .5,.4 .5,.3 .5,.4 .5,.5 .5,.5 .5,.5 .5,.6 .5,.6 .5,.6 .5,.6 .5,.6 .5,.6 .5,.6 .5,.6 .5,.6 .5,.6 .6,.6 .5,.5 .5,.5 .5,.5 .5,.5 .5,.4 .5,.4 .5,.4 .5,.3 .5,.3 .5,.3 .5,.2 .5,.2 .5,.1 .5,.2 .5,.0 .5,.0 .5,.0 .5-.1 .5-.1 .6-.1 .5-.2 .5-.3 .5-.2 .5-.3 .5-.4 .5-.3 .5-.4 .5-.5 .5-.4 .5-.5 .5-.5 .5-.6 .5-.5 .5-.6 .5-.6 .5-.6 .5-.6 .5-.6 .6-.6 .5-.6 .5-.6 .5-.5 .5-.5 .5-.5 .5-.5 .5-.4 .5-.3 .5-.3 .5-.3 .5-.2 .5-.1 .5-.1 .5,.0 .5,.1 .5,.1 .5,.1 .5,.2 .6,.3 .5,.3 .5,.3 .5,.4 .5,.4 .5,.4 .5,.4 .5,.5 .5,.5 .5,.5 .5,.5 .5,.6 .5,.5 .5,.6 .5,.5 .5,.6 .5,.6 .5,.6 .5,.6 .6,.6 .5,.5 .5,.6 .5,.6 .5,.6 .5,.6 .5,.5 .5,.6 .5,.5 .5,.5 .5,.5 .5,.4 .5,.4 .5,.4 .5,.4 .5,.3 .5,.2 .5,.2 .5,.2 .6,.1 .5,.0 .5,.0 .5-.1 .5-.1 .5-.2 .5-.2 .5-.3 .5-.3 .5-.3 .5-.3 .5-.4 .5-.4 .5-.4 .5-.4 .5-.4 .5-.4 .5-.4 .5-.4 .6-.4 .5-.4 .5-.4 .5-.4 .5-.3 .5-.4 .5-.4 .5-.4 .5-.4 .5-.4 .5-.4 .5-.4 .5-.4 .5-.4 .5-.4 .5-.4 .5-.4 .5-.4 .5-.5 .6-.4 .5-.4 .5-.5 .5-.5 .5-.4 .5-.5 .5-.5 .5-.4 .5-.5 .5-.4 .5-.4 .5-.4 .5-.3 .5-.4 .5-.4 .5-.3 .5-.4 .5-.4 .5-.5" stroke="#5858aa" stroke-width="1.25" fill="none" stroke-dasharray="4.6 1.7 0.9 2.3"/>
</g>
<path d="M486.5,127.4H489.5 M664.3,127.4H667.3 M486.5,99.44H489.5 M664.3,99.44H667.3 M486.5,71.48H489.5 M664.3,71.48H667.3 M486.5,43.52H489.5 M664.3,43.52H667.3 M486.5,15.56H489.5 M664.3,15.56H667.3 M488.2,113.42H489.5 M665.8,113.42H667.3 M488.2,85.46H489.5 M665.8,85.46H667.3 M488.2,57.5H489.5 M665.8,57.5H667.3 M488.2,29.54H489.5 M665.8,29.54H667.3 M489.6,141.3V143.9 M489.6,1.5V3.7 M530.02,141.3V143.9 M530.02,1.5V3.7 M570.44,141.3V143.9 M570.44,1.5V3.7 M610.86,141.3V143.9 M610.86,1.5V3.7 M651.28,141.3V143.9 M651.28,1.5V3.7 M509.81,141.3V142.8 M509.81,1.5V3 M550.23,141.3V142.8 M550.23,1.5V3 M590.65,141.3V142.8 M590.65,1.5V3 M631.07,141.3V142.8 M631.07,1.5V3" stroke="#4a4a4a" stroke-width="1" fill="none"/>
<rect x="489.5" y="1.5" width="177.8" height="139.8" fill="none" stroke="#6e6e6e" stroke-width="1"/>
<text x="485.9" y="129.9" font-size="10.4" text-anchor="end" fill="#1e1e1e">0E+0</text>
<text x="485.9" y="101.94" font-size="10.4" text-anchor="end" fill="#1e1e1e">2E+9</text>
<text x="485.9" y="73.98" font-size="10.4" text-anchor="end" fill="#1e1e1e">4E+9</text>
<text x="485.9" y="46.02" font-size="10.4" text-anchor="end" fill="#1e1e1e">6E+9</text>
<text x="485.9" y="18.06" font-size="10.4" text-anchor="end" fill="#1e1e1e">8E+9</text>
<text x="489.6" y="153.3" font-size="11" text-anchor="middle" fill="#1e1e1e">0</text>
<text x="530.02" y="153.3" font-size="11" text-anchor="middle" fill="#1e1e1e">2</text>
<text x="570.44" y="153.3" font-size="11" text-anchor="middle" fill="#1e1e1e">4</text>
<text x="610.86" y="153.3" font-size="11" text-anchor="middle" fill="#1e1e1e">6</text>
<text x="651.28" y="153.3" font-size="11" text-anchor="middle" fill="#1e1e1e">8</text>
<path d="M506.3,11.9H529.3" stroke="#eba324" stroke-width="1.4"/>
<path d="M506.3,24.8H529.3" stroke="#5858aa" stroke-width="1.25" stroke-dasharray="3 2.3"/>
<path d="M506.3,36.8H529.3" stroke="#5858aa" stroke-width="1.25" stroke-dasharray="4.6 1.7 0.9 2.3"/>
<text x="532.6" y="16.3" font-size="10.15" font-weight="bold" font-style="italic" fill="#e79c12" text-anchor="start" >Curve 3=Curve 1-Curve 2</text>
<text x="532.6" y="28.2" font-size="10.15" font-weight="bold" font-style="normal" fill="#5c5cac" text-anchor="start" >Lower envelope</text>
<text x="532.6" y="41" font-size="10.15" font-weight="bold" font-style="normal" fill="#5c5cac" text-anchor="start" >Upper envelope</text>
<path d="M649.5,58V121.6" stroke="#111" stroke-width="1.15" stroke-dasharray="1.1 1.1"/>
<path d="M649.1,53 l-3.4,5.2 h6.8 Z" fill="#000"/>
<path d="M649.1,126.6 l-3.4,-5.2 h6.8 Z" fill="#000"/>
<text x="629.6" y="92.9" font-size="13" font-weight="normal" font-style="italic" fill="#1e1e1e" text-anchor="start" >a2</text>
<g clip-path="url(#c140401892562352)">
<path d="M48.2,292l.5-.6 .5-.7 .5-.8 .5-.7 .5-.8 .5-.8 .5-.8 .5-.9 .5-.9 .5-.9 .5-.9 .5-.9 .5-.9 .5-1 .5-1 .5-1 .5-1 .5-1 .5-1 .5-1 .5-1 .5-1 .5-1 .5-1.1 .5-1 .5-1 .5-1 .5-1 .5-1 .5-1 .5-1 .5-1 .5-1 .5-.9 .5-.9 .5-1 .5-.9 .5-.9 .5-.8 .5-.9 .6-.8 .5-.8 .5-.7 .5-.8 .5-.7 .5-.7 .5-.6 .5-.7 .5-.5 .5-.6 .5-.5 .5-.5 .5-.5 .5-.4 .5-.4 .5-.3 .5-.4 .5-.2 .5-.3 .5-.2 .5-.1 .5-.2 .5-.1 .5-.1 .5,.0 .5,.0 .5-.1 .5,.1 .5,.0 .5,.0 .5,.1 .5,.1 .5,.1 .5,.0 .5,.2 .5,.1 .5,.1 .5,.1 .5,.1 .5,.1 .5,.0 .5,.1 .5,.1 .5,.0 .5,.0 .5,.0 .5,.0 .5-.1 .5-.1 .5-.1 .5-.1 .5-.2 .5-.2 .5-.3 .5-.2 .5-.3 .5-.4 .5-.3 .5-.4 .5-.4 .5-.5 .5-.4 .5-.5 .5-.6 .5-.5 .5-.6 .5-.6 .5-.6 .5-.6 .5-.7 .5-.6 .5-.7 .5-.6 .5-.7 .5-.6 .5-.7 .5-.6 .5-.6 .5-.7 .6-.6 .5-.6 .5-.5 .5-.6 .5-.5 .5-.5 .5-.5 .5-.4 .5-.4 .5-.4 .5-.3 .5-.4 .5-.2 .5-.3 .5-.2 .5-.2 .5-.1 .5-.1 .5,.0 .5,.0 .5,.0 .5,.1 .5,.1 .5,.1 .5,.2 .5,.2 .5,.2 .5,.2 .5,.3 .5,.3 .5,.3 .5,.3 .5,.3 .5,.4 .5,.3 .5,.4 .5,.3 .5,.4 .5,.4 .5,.3 .5,.4 .5,.3 .5,.4 .5,.3 .5,.2 .5,.3 .5,.2 .5,.2 .5,.2 .5,.2 .5,.1 .5,.0 .5,.1 .5,.0 .5,.0 .5,.0 .5,.0 .5,.0 .5,.0 .5,.0 .5,.0 .5-.1 .5,.0 .5-.1 .5-.2 .5-.2 .5-.2 .5-.2 .5-.3 .5-.2 .5-.3 .5-.4 .5-.3 .5-.4 .5-.3 .5-.4 .5-.4 .5-.3 .5-.4 .5-.3 .5-.4 .6-.3 .5-.3 .5-.3 .5-.3 .5-.3 .5-.2 .5-.2 .5-.2 .5-.2 .5-.1 .5-.1 .5-.1 .5,.0 .5,.0 .5,.0 .5,.1 .5,.1 .5,.2 .5,.2 .5,.3 .5,.2 .5,.4 .5,.3 .5,.4 .5,.4 .5,.4 .5,.5 .5,.5 .5,.5 .5,.6 .5,.5 .5,.6 .5,.6 .5,.7 .5,.6 .5,.6 .5,.7 .5,.6 .5,.7 .5,.6 .5,.7 .5,.6 .5,.7 .5,.6 .5,.6 .5,.6 .5,.6 .5,.5 .5,.6 .5,.5 .5,.4 .5,.5 .5,.4 .5,.4 .5,.3 .5,.4 .5,.3 .5,.2 .5,.3 .5,.2 .5,.2 .5,.1 .5,.1 .5,.1 .5,.1 .5,.0 .5,.0 .5,.0 .5,.0 .5-.1 .5-.1 .5,.0 .5-.1 .5-.1 .5-.1 .5-.1 .5-.1 .5-.2 .5,.0 .6-.1 .5-.1 .5-.1 .5,.0 .5,.0 .5-.1 .5,.1 .5,.0 .5,.0 .5,.1 .5,.1 .5,.2 .5,.1 .5,.2 .5,.3 .5,.2 .5,.4 .5,.3 .5,.4 .5,.4 .5,.5 .5,.5 .5,.5 .5,.6 .5,.5 .5,.7 .5,.6 .5,.7 .5,.7 .5,.8 .5,.7 .5,.8 .5,.8 .5,.9 .5,.8 .5,.9 .5,.9 .5,1 .5,.9 .5,.9 .5,1 .5,1 .5,1 .5,1 .5,1 .5,1 .5,1 .5,1 .5,1 .5,1.1 .5,1 .5,1 .5,1 .5,1 .5,1 .5,1 .5,1 .5,1 .5,1 .5,1 .5,.9 .5,.9 .5,.9 .5,.9 .5,.9 .5,.9 .5,.8 .5,.8 .5,.8 .5,.7 .5,.8 .5,.7 .5,.6 .0,45.2 -.5,.3 -.5,.3 -.5,.3 -.5,.2 -.5,.3 -.5,.2 -.5,.2 -.5,.2 -.5,.1 -.5,.2 -.5,.1 -.5,.2 -.5,.1 -.5,.1 -.5,.1 -.5,.0 -.5,.1 -.5,.1 -.5,.0 -.5,.1 -.5,.0 -.5,.0 -.5,.0 -.5,.1 -.5,.0 -.5,.0 -.5,.0 -.5,.0 -.5,.0 -.5,.0 -.5,.0 -.5,.0 -.5,.0 -.5,.0 -.5,.1 -.5,.0 -.5,.0 -.5,.0 -.5,.0 -.5,.0 -.5,.0 -.5,.1 -.5,.0 -.5,.0 -.5,.0 -.5,.0 -.5,.0 -.5,.1 -.5,.0 -.5,.0 -.5,.0 -.5,.0 -.5,.0 -.5,.0 -.5,.0 -.5,.0 -.5,.0 -.5,.0 -.5,.0 -.5,.0 -.5,.0 -.5,.0 -.5-.1 -.5,.0 -.5,.0 -.5,.0 -.5,.0 -.5-.1 -.5,.0 -.5,.0 -.5,.0 -.5-.1 -.6,.0 -.5,.0 -.5,.0 -.5-.1 -.5,.0 -.5,.0 -.5-.1 -.5,.0 -.5,.0 -.5,.0 -.5,.0 -.5-.1 -.5,.0 -.5,.0 -.5,.0 -.5,.0 -.5-.1 -.5,.0 -.5,.0 -.5,.0 -.5,.0 -.5,.0 -.5,.0 -.5,.0 -.5,.0 -.5,.0 -.5,.0 -.5,.1 -.5,.0 -.5,.0 -.5,.0 -.5,.0 -.5,.1 -.5,.0 -.5,.0 -.5,.0 -.5,.1 -.5,.0 -.5,.0 -.5,.1 -.5,.0 -.5,.0 -.5,.1 -.5,.0 -.5,.0 -.5,.1 -.5,.0 -.5,.0 -.5,.1 -.5,.0 -.5,.0 -.5,.1 -.5,.0 -.5,.0 -.5,.0 -.5,.1 -.5,.0 -.5,.0 -.5,.0 -.5,.0 -.5,.1 -.5,.0 -.5,.0 -.5,.0 -.5,.0 -.5,.0 -.5,.0 -.5,.0 -.5,.0 -.5,.0 -.5-.1 -.5,.0 -.5,.0 -.5,.0 -.5,.0 -.5,.0 -.5-.1 -.5,.0 -.5,.0 -.6,.0 -.5-.1 -.5,.0 -.5,.0 -.5,.0 -.5-.1 -.5,.0 -.5,.0 -.5,.0 -.5-.1 -.5,.0 -.5,.0 -.5,.0 -.5-.1 -.5,.0 -.5,.0 -.5,.0 -.5,.0 -.5-.1 -.5,.0 -.5,.0 -.5,.0 -.5,.0 -.5,.0 -.5,.0 -.5,.0 -.5,.0 -.5,.0 -.5,.0 -.5,.0 -.5,.0 -.5,.1 -.5,.0 -.5,.0 -.5,.0 -.5,.0 -.5,.1 -.5,.0 -.5,.0 -.5,.0 -.5,.1 -.5,.0 -.5,.0 -.5,.0 -.5,.1 -.5,.0 -.5,.0 -.5,.0 -.5,.1 -.5,.0 -.5,.0 -.5,.0 -.5,.1 -.5,.0 -.5,.0 -.5,.0 -.5,.0 -.5,.0 -.5,.1 -.5,.0 -.5,.0 -.5,.0 -.5,.0 -.5,.0 -.5,.0 -.5,.0 -.5,.0 -.5,.0 -.5-.1 -.5,.0 -.5,.0 -.5,.0 -.5,.0 -.5-.1 -.5,.0 -.5,.0 -.5,.0 -.5-.1 -.5,.0 -.5,.0 -.5-.1 -.6,.0 -.5,.0 -.5-.1 -.5,.0 -.5,.0 -.5-.1 -.5,.0 -.5,.0 -.5-.1 -.5,.0 -.5,.0 -.5-.1 -.5,.0 -.5,.0 -.5,.0 -.5-.1 -.5,.0 -.5,.0 -.5,.0 -.5,.0 -.5-.1 -.5,.0 -.5,.0 -.5,.0 -.5,.0 -.5,.0 -.5,.0 -.5,.0 -.5,.0 -.5,.0 -.5,.0 -.5,.1 -.5,.0 -.5,.0 -.5,.0 -.5,.0 -.5,.1 -.5,.0 -.5,.0 -.5,.0 -.5,.0 -.5,.1 -.5,.0 -.5,.0 -.5,.1 -.5,.0 -.5,.0 -.5,.0 -.5,.1 -.5,.0 -.5,.0 -.5,.0 -.5,.1 -.5,.0 -.5,.0 -.5,.0 -.5,.0 -.5,.1 -.5,.0 -.5,.0 -.5,.0 -.5,.0 -.5,.0 -.5,.0 -.5,.0 -.5,.0 -.5,.0 -.5,.0 -.5,.0 -.5,.0 -.5,.0 -.5,.0 -.5-.1 -.5,.0 -.5,.0 -.5,.0 -.5,.0 -.5,.0 -.5-.1 -.6,.0 -.5,.0 -.5,.0 -.5,.0 -.5,.0 -.5,.0 -.5-.1 -.5,.0 -.5,.0 -.5,.0 -.5,.0 -.5,.0 -.5,.0 -.5,.0 -.5,.0 -.5,.0 -.5,.0 -.5-.1 -.5,.0 -.5,.0 -.5,.0 -.5-.1 -.5,.0 -.5-.1 -.5-.1 -.5,.0 -.5-.1 -.5-.1 -.5-.1 -.5-.2 -.5-.1 -.5-.2 -.5-.1 -.5-.2 -.5-.2 -.5-.2 -.5-.3 -.5-.2 -.5-.3 -.5-.3 -.5-.3Z" fill="#e5fdfd" stroke="none"/>
<path d="M48.3,336.5H225.2" stroke="#555555" stroke-width="1.0" stroke-dasharray="2.2 1.9" fill="none"/>
<path d="M48.3,340.67H225.2" stroke="#8a8a8a" stroke-width="1.0" stroke-dasharray="2.2 1.9" fill="none"/>
<path d="M48.2,336.5l.2,.0 .2,.0 .2,.0 .2,.0 .2,.0 .2,.0 .2,.0 .2-.1 .2,.0 .2,.0 .2,.0 .2,.0 .2,.0 .2-.1 .2,.0 .2,.0 .2-.1 .2,.0 .2-.1 .2,.0 .2-.1 .2-.1 .2,.0 .2-.1 .2-.2 .2-.1 .2-.1 .2-.2 .2-.2 .2-.2 .2-.3 .2-.3 .2-.4 .2-.4 .2-.4 .2-.6 .2-.6 .2-.7 .2-.8 .2-1 .2-1 .2-1.3 .2-1.4 .2-1.7 .2-1.8 .2-2.2 .2-2.5 .2-2.9 .2-3.3 .2-3.8 .2-5.4 .2-5.3 .2-5.2 .2-4.8 .2-4.4 .2-3.8 .2-3.2 .2-2.4 .2-1.7 .2-.9 .2,.1 .2,.9 .2,1.7 .2,2.6 .2,3.3 .2,4 .2,4.5 .2,5 .2,5.4 .2,5.6 .2,5.6 .2,5.6 .2,5.3 .2,5 .2,4.5 .2,3.8 .2,3.1 .2,2.3 .2,1.4 .2,.5 .2-.4 .2-1.5 .2-2.4 .2-3.3 .2-4.1 .2-4.8 .2-5.5 .2-6 .2-6.4 .2-6.5 .2-6.7 .2-6.5 .2-6.3 .2-5.8 .2-5.3 .2-4.6 .2-3.7 .2-2.9 .2-1.9 .2-.9 .3,.2 .2,1.3 .2,2.3 .2,3.3 .2,4.1 .2,5 .2,5.6 .2,6.2 .2,6.5 .2,6.8 .2,6.8 .2,6.7 .2,6.4 .2,6 .2,5.3 .2,4.6 .2,3.7 .2,2.7 .2,1.7 .2,.6 .2-.6 .2-1.7 .2-2.8 .2-3.8 .2-4.7 .2-5.6 .2-6.2 .2-6.9 .2-7.2 .2-7.4 .2-7.4 .2-7.3 .2-6.9 .2-6.5 .2-5.8 .2-4.9 .2-4 .2-3 .2-1.9 .2-.7 .2,.4 .2,1.6 .2,2.8 .2,3.8 .2,4.8 .2,5.7 .2,6.3 .2,6.9 .2,7.3 .2,7.5 .2,7.5 .2,7.3 .2,7 .2,6.5 .2,5.7 .2,4.9 .2,4 .2,2.9 .2,1.7 .2,.6 .2-.6 .2-1.8 .2-2.9 .2-4 .2-4.9 .2-5.8 .2-6.5 .2-7 .2-7.4 .2-7.6 .2-7.5 .2-7.4 .2-7 .2-6.5 .2-5.7 .2-4.9 .2-4 .2-2.8 .2-1.8 .2-.5 .2,.6 .2,1.8 .2,2.9 .2,4 .2,4.9 .2,5.8 .2,6.5 .2,7 .2,7.3 .2,7.5 .2,7.6 .2,7.3 .2,6.9 .2,6.4 .2,5.8 .2,4.8 .2,3.9 .2,2.9 .2,1.7 .2,.6 .2-.6 .2-1.7 .2-2.9 .2-3.9 .2-4.9 .2-5.7 .2-6.3 .2-6.9 .2-7.3 .2-7.4 .2-7.5 .2-7.2 .2-6.9 .2-6.4 .2-5.6 .2-4.9 .2-3.9 .2-2.9 .2-1.7 .2-.7 .2,.6 .2,1.7 .2,2.8 .2,3.9 .2,4.8 .2,5.6 .2,6.4 .2,6.8 .2,7.3 .2,7.4 .2,7.4 .2,7.3 .2,6.9 .2,6.4 .2,5.7 .2,4.9 .2,4 .2,2.9 .2,1.7 .2,.6 .2-.6 .2-1.8 .2-2.9 .2-4 .2-4.9 .2-5.9 .2-6.5 .2-7.2 .2-7.5 .2-7.7 .2-7.8 .2-7.6 .2-7.3 .2-6.8 .2-6 .2-5.3 .2-4.2 .2-3.2 .2-2 .2-.9 .2,.4 .2,1.7 .2,2.8 .2,3.9 .2,5 .2,5.8 .2,6.7 .2,7.2 .2,7.6 .2,7.9 .2,8 .2,7.7 .2,7.4 .2,6.9 .2,6.2 .2,5.3 .2,4.2 .2,3.2 .2,1.9 .2,.7 .2-.7 .2-1.9 .2-3.2 .2-4.3 .2-5.5 .2-6.4 .2-7.2 .2-7.9 .2-8.3 .2-8.5 .2-8.6 .2-8.5 .2-8 .2-7.5 .2-6.7 .2-5.8 .2-4.8 .2-3.5 .2-2.3 .3-.9 .2,.5 .2,1.8 .2,3.1 .2,4.4 .2,5.5 .2,6.5 .2,7.3 .2,8 .2,8.5 .2,8.7 .2,8.8 .2,8.6 .2,8.2 .2,7.5 .2,6.8 .2,5.8 .2,4.7 .2,3.4 .2,2.2 .2,.7 .2-.7 .2-2.1 .2-3.5 .2-4.7 .2-5.9 .2-7 .2-7.7 .2-8.5 .2-8.9 .2-9.1 .2-9.2 .2-9 .2-8.5 .2-7.8 .2-7.1 .2-6 .2-4.9 .2-3.5 .2-2.2 .2-.8 .2,.7 .2,2.1 .2,3.5 .2,4.8 .2,6 .2,7 .2,7.8 .2,8.5 .2,9 .2,9.1 .2,9.2 .2,9 .2,8.5 .2,7.8 .2,7 .2,6 .2,4.8 .2,3.5 .2,2.1 .2,.7 .2-.7 .2-2.1 .2-3.5 .2-4.8 .2-5.9 .2-7 .2-7.7 .2-8.4 .2-8.8 .2-9 .2-9 .2-8.8 .2-8.3 .2-7.6 .2-6.8 .2-5.7 .2-4.6 .2-3.3 .2-2 .2-.6 .2,.9 .2,2.2 .2,3.5 .2,4.8 .2,6 .2,6.9 .2,7.7 .2,8.3 .2,8.7 .2,8.9 .2,8.9 .2,8.6 .2,8.2 .2,7.6 .2,6.7 .2,5.7 .2,4.6 .2,3.3 .2,2.1 .2,.7 .2-.7 .2-2.1 .2-3.3 .2-4.6 .2-5.6 .2-6.6 .2-7.4 .2-7.9 .2-8.4 .2-8.5 .2-8.6 .2-8.3 .2-7.9 .2-7.3 .2-6.4 .2-5.5 .2-4.4 .2-3.2 .2-2 .2-.6 .2,.7 .2,2.1 .2,3.3 .2,4.5 .2,5.6 .2,6.5 .2,7.3 .2,7.9 .2,8.3 .2,8.5 .2,8.5 .2,8.3 .2,7.9 .2,7.2 .2,6.5 .2,5.5 .2,4.5 .2,3.2 .2,2 .2,.7 .2-.7 .2-2 .2-3.2 .2-4.5 .2-5.5 .2-6.5 .2-7.2 .2-7.9 .2-8.3 .2-8.5 .2-8.5 .2-8.3 .2-7.9 .2-7.3 .2-6.5 .2-5.6 .2-4.5 .2-3.3 .2-2.1 .2-.7 .2,.6 .2,2 .2,3.2 .2,4.4 .2,5.5 .2,6.4 .2,7.3 .2,7.9 .2,8.3 .2,8.6 .2,8.5 .2,8.4 .2,7.9 .2,7.4 .2,6.6 .2,5.6 .2,4.6 .2,3.3 .2,2.1 .2,.7 .2-.7 .2-2.1 .2-3.3 .2-4.6 .2-5.7 .2-6.7 .2-7.6 .2-8.2 .2-8.6 .2-8.9 .2-8.9 .2-8.7 .2-8.3 .2-7.7 .2-6.9 .2-6 .2-4.8 .2-3.5 .2-2.2 .2-.9 .3,.6 .2,2 .2,3.3 .2,4.6 .2,5.7 .2,6.8 .2,7.6 .2,8.3 .2,8.8 .2,9 .2,9 .2,8.8 .2,8.4 .2,7.7 .2,7 .2,5.9 .2,4.8 .2,3.5 .2,2.1 .2,.7 .2-.7 .2-2.1 .2-3.5 .2-4.8 .2-6 .2-7 .2-7.8 .2-8.5 .2-9 .2-9.2 .2-9.1 .2-9 .2-8.5 .2-7.8 .2-7 .2-6 .2-4.8 .2-3.5 .2-2.1 .2-.7 .2,.8 .2,2.2 .2,3.5 .2,4.9 .2,6 .2,7.1 .2,7.8 .2,8.5 .2,9 .2,9.2 .2,9.1 .2,8.9 .2,8.5 .2,7.7 .2,7 .2,5.9 .2,4.7 .2,3.5 .2,2.1 .2,.7 .2-.7 .2-2.2 .2-3.4 .2-4.7 .2-5.8 .2-6.8 .2-7.5 .2-8.2 .2-8.6 .2-8.8 .2-8.7 .2-8.5 .2-8 .2-7.3 .2-6.5 .2-5.5 .2-4.4 .2-3.1 .2-1.8 .2-.5 .2,.9 .2,2.3 .2,3.5 .2,4.8 .2,5.8 .2,6.7 .2,7.5 .2,8 .2,8.5 .2,8.6 .2,8.5 .2,8.3 .2,7.9 .2,7.2 .2,6.4 .2,5.5 .2,4.3 .2,3.2 .2,1.9 .2,.7 .2-.7 .2-1.9 .2-3.2 .2-4.2 .2-5.3 .2-6.2 .2-6.9 .2-7.4 .2-7.7 .2-8 .2-7.9 .2-7.6 .2-7.2 .2-6.7 .2-5.8 .2-5 .2-3.9 .2-2.8 .2-1.7 .2-.4 .2,.9 .2,2 .2,3.2 .2,4.2 .2,5.3 .2,6 .2,6.8 .2,7.3 .2,7.6 .2,7.8 .2,7.7 .2,7.5 .2,7.2 .2,6.5 .2,5.9 .2,4.9 .2,4 .2,2.9 .2,1.8 .2,.6 .2-.6 .2-1.7 .2-2.9 .2-4 .2-4.9 .2-5.7 .2-6.4 .2-6.9 .2-7.3 .2-7.4 .2-7.4 .2-7.3 .2-6.8 .2-6.4 .2-5.6 .2-4.8 .2-3.9 .2-2.8 .2-1.7 .2-.6 .2,.7 .2,1.7 .2,2.9 .2,3.9 .2,4.9 .2,5.6 .2,6.4 .2,6.9 .2,7.2 .2,7.5 .2,7.4 .2,7.3 .2,6.9 .2,6.3 .2,5.7 .2,4.9 .2,3.9 .2,2.9 .2,1.7 .2,.6 .2-.6 .2-1.7 .2-2.9 .2-3.9 .2-4.8 .2-5.8 .2-6.4 .2-6.9 .2-7.3 .2-7.6 .2-7.5 .2-7.3 .2-7 .2-6.5 .2-5.8 .2-4.9 .2-4 .2-2.9 .2-1.8 .3-.6 .2,.5 .2,1.8 .2,2.8 .2,4 .2,4.9 .2,5.7 .2,6.5 .2,7 .2,7.4 .2,7.5 .2,7.6 .2,7.4 .2,7 .2,6.5 .2,5.8 .2,4.9 .2,4 .2,2.9 .2,1.8 .2,.6 .2-.6 .2-1.7 .2-2.9 .2-4 .2-4.9 .2-5.7 .2-6.5 .2-7 .2-7.3 .2-7.5 .2-7.5 .2-7.3 .2-6.9 .2-6.3 .2-5.7 .2-4.8 .2-3.8 .2-2.8 .2-1.6 .2-.4 .2,.7 .2,1.9 .2,3 .2,4 .2,4.9 .2,5.8 .2,6.5 .2,6.9 .2,7.3 .2,7.4 .2,7.4 .2,7.2 .2,6.9 .2,6.2 .2,5.6 .2,4.7 .2,3.8 .2,2.8 .2,1.7 .2,.6 .2-.6 .2-1.7 .2-2.7 .2-3.7 .2-4.6 .2-5.3 .2-6 .2-6.4 .2-6.7 .2-6.8 .2-6.8 .2-6.5 .2-6.2 .2-5.6 .2-5 .2-4.1 .2-3.3 .2-2.3 .2-1.3 .2-.2 .2,.9 .2,1.9 .2,2.9 .2,3.7 .2,4.6 .2,5.3 .2,5.8 .2,6.3 .2,6.5 .2,6.7 .2,6.5 .2,6.4 .2,6 .2,5.5 .2,4.8 .2,4.1 .2,3.3 .2,2.4 .2,1.5 .2,.4 .2-.5 .2-1.4 .2-2.3 .2-3.1 .2-3.8 .2-4.5 .2-5 .2-5.3 .2-5.6 .2-5.6 .2-5.6 .2-5.4 .2-5 .2-4.5 .2-4 .2-3.3 .2-2.6 .2-1.7 .2-.9 .2-.1 .2,.9 .2,1.7 .2,2.4 .2,3.2 .2,3.8 .2,4.4 .2,4.8 .2,5.2 .2,5.3 .2,5.4 .2,3.8 .2,3.3 .2,2.9 .2,2.5 .2,2.2 .2,1.8 .2,1.7 .2,1.4 .2,1.3 .2,1 .2,1 .2,.8 .2,.7 .2,.6 .2,.6 .2,.4 .2,.4 .2,.4 .2,.3 .2,.3 .2,.2 .2,.2 .2,.2 .2,.1 .2,.1 .2,.2 .2,.1 .2,.0 .2,.1 .2,.1 .2,.0 .2,.1 .2,.0 .2,.1 .2,.0 .2,.0 .2,.1 .2,.0 .2,.0 .2,.0 .2,.0 .2,.0 .2,.1 .2,.0 .2,.0 .2,.0 .2,.0 .2,.0 .2,.0 .2,.0" stroke="#d6ad34" stroke-width="1.15" fill="none" stroke-linejoin="round" />
<path d="M48.2,336.5l.2,.0 .2,.0 .2,.0 .2,.0 .2,.0 .2,.0 .2,.0 .2-.1 .2,.0 .2,.0 .2,.0 .2,.0 .2,.0 .2-.1 .2,.0 .2,.0 .2-.1 .2,.0 .2-.1 .2,.0 .2-.1 .2-.1 .2,.0 .2-.1 .2-.2 .2-.1 .2-.1 .2-.2 .2-.2 .2-.2 .2-.3 .2-.3 .2-.4 .2-.4 .2-.4 .2-.6 .2-.6 .2-.7 .2-.8 .2-1 .2-1 .2-1.3 .2-1.4 .2-1.7 .2-1.8 .2-2.2 .2-2.5 .2-2.9 .2-3.3 .2-3.8 .2-5.4 .2-5.3" stroke="#eba324" stroke-width="1.2" fill="none"/>
<path d="M214.2,296.7l.2,5.3 .2,5.4 .2,3.8 .2,3.3 .2,2.9 .2,2.5 .2,2.2 .2,1.8 .2,1.7 .2,1.4 .2,1.3 .2,1 .2,1 .2,.8 .2,.7 .2,.6 .2,.6 .2,.4 .2,.4 .2,.4 .2,.3 .2,.3 .2,.2 .2,.2 .2,.2 .2,.1 .2,.1 .2,.2 .2,.1 .2,.0 .2,.1 .2,.1 .2,.0 .2,.1 .2,.0 .2,.1 .2,.0 .2,.0 .2,.1 .2,.0 .2,.0 .2,.0 .2,.0 .2,.0 .2,.1 .2,.0 .2,.0 .2,.0 .2,.0 .2,.0 .2,.0 .2,.0" stroke="#eba324" stroke-width="1.2" fill="none"/>
<path d="M48.2,337.2l.5,.3 .5,.3 .5,.3 .5,.2 .5,.3 .5,.2 .5,.2 .5,.2 .5,.1 .5,.2 .5,.1 .5,.2 .5,.1 .5,.1 .5,.1 .5,.0 .5,.1 .5,.1 .5,.0 .5,.1 .5,.0 .5,.0 .5,.0 .5,.1 .5,.0 .5,.0 .5,.0 .5,.0 .5,.0 .5,.0 .5,.0 .5,.0 .5,.0 .5,.0 .5,.1 .5,.0 .5,.0 .5,.0 .5,.0 .5,.0 .6,.0 .5,.1 .5,.0 .5,.0 .5,.0 .5,.0 .5,.0 .5,.1 .5,.0 .5,.0 .5,.0 .5,.0 .5,.0 .5,.0 .5,.0 .5,.0 .5,.0 .5,.0 .5,.0 .5,.0 .5,.0 .5,.0 .5-.1 .5,.0 .5,.0 .5,.0 .5,.0 .5-.1 .5,.0 .5,.0 .5,.0 .5-.1 .5,.0 .5,.0 .5,.0 .5-.1 .5,.0 .5,.0 .5-.1 .5,.0 .5,.0 .5,.0 .5,.0 .5-.1 .5,.0 .5,.0 .5,.0 .5,.0 .5-.1 .5,.0 .5,.0 .5,.0 .5,.0 .5,.0 .5,.0 .5,.0 .5,.0 .5,.0 .5,.0 .5,.1 .5,.0 .5,.0 .5,.0 .5,.0 .5,.1 .5,.0 .5,.0 .5,.0 .5,.1 .5,.0 .5,.0 .5,.1 .5,.0 .5,.0 .5,.1 .5,.0 .5,.0 .5,.1 .5,.0 .6,.0 .5,.1 .5,.0 .5,.0 .5,.1 .5,.0 .5,.0 .5,.0 .5,.1 .5,.0 .5,.0 .5,.0 .5,.0 .5,.1 .5,.0 .5,.0 .5,.0 .5,.0 .5,.0 .5,.0 .5,.0 .5,.0 .5,.0 .5-.1 .5,.0 .5,.0 .5,.0 .5,.0 .5,.0 .5-.1 .5,.0 .5,.0 .5,.0 .5-.1 .5,.0 .5,.0 .5,.0 .5-.1 .5,.0 .5,.0 .5,.0 .5-.1 .5,.0 .5,.0 .5,.0 .5-.1 .5,.0 .5,.0 .5,.0 .5,.0 .5-.1 .5,.0 .5,.0 .5,.0 .5,.0 .5,.0 .5,.0 .5,.0 .5,.0 .5,.0 .5,.0 .5,.0 .5,.0 .5,.1 .5,.0 .5,.0 .5,.0 .5,.0 .5,.1 .5,.0 .5,.0 .5,.0 .5,.1 .5,.0 .5,.0 .5,.0 .5,.1 .5,.0 .5,.0 .5,.0 .5,.1 .6,.0 .5,.0 .5,.0 .5,.1 .5,.0 .5,.0 .5,.0 .5,.0 .5,.0 .5,.1 .5,.0 .5,.0 .5,.0 .5,.0 .5,.0 .5,.0 .5,.0 .5,.0 .5,.0 .5-.1 .5,.0 .5,.0 .5,.0 .5,.0 .5-.1 .5,.0 .5,.0 .5,.0 .5-.1 .5,.0 .5,.0 .5-.1 .5,.0 .5,.0 .5-.1 .5,.0 .5,.0 .5-.1 .5,.0 .5,.0 .5-.1 .5,.0 .5,.0 .5-.1 .5,.0 .5,.0 .5,.0 .5-.1 .5,.0 .5,.0 .5,.0 .5,.0 .5-.1 .5,.0 .5,.0 .5,.0 .5,.0 .5,.0 .5,.0 .5,.0 .5,.0 .5,.0 .5,.0 .5,.1 .5,.0 .5,.0 .5,.0 .5,.0 .5,.1 .5,.0 .5,.0 .5,.0 .5,.0 .5,.1 .5,.0 .5,.0 .5,.1 .5,.0 .5,.0 .6,.0 .5,.1 .5,.0 .5,.0 .5,.0 .5,.1 .5,.0 .5,.0 .5,.0 .5,.0 .5,.1 .5,.0 .5,.0 .5,.0 .5,.0 .5,.0 .5,.0 .5,.0 .5,.0 .5,.0 .5,.0 .5,.0 .5,.0 .5,.0 .5,.0 .5-.1 .5,.0 .5,.0 .5,.0 .5,.0 .5,.0 .5-.1 .5,.0 .5,.0 .5,.0 .5,.0 .5,.0 .5,.0 .5-.1 .5,.0 .5,.0 .5,.0 .5,.0 .5,.0 .5,.0 .5,.0 .5,.0 .5,.0 .5,.0 .5-.1 .5,.0 .5,.0 .5,.0 .5-.1 .5,.0 .5-.1 .5-.1 .5,.0 .5-.1 .5-.1 .5-.1 .5-.2 .5-.1 .5-.2 .5-.1 .5-.2 .5-.2 .5-.2 .5-.3 .5-.2 .5-.3 .5-.3 .5-.3" stroke="#5858aa" stroke-width="1.25" fill="none" stroke-dasharray="3 2.3"/>
<path d="M48.2,292l.5-.6 .5-.7 .5-.8 .5-.7 .5-.8 .5-.8 .5-.8 .5-.9 .5-.9 .5-.9 .5-.9 .5-.9 .5-.9 .5-1 .5-1 .5-1 .5-1 .5-1 .5-1 .5-1 .5-1 .5-1 .5-1 .5-1.1 .5-1 .5-1 .5-1 .5-1 .5-1 .5-1 .5-1 .5-1 .5-1 .5-.9 .5-.9 .5-1 .5-.9 .5-.9 .5-.8 .5-.9 .6-.8 .5-.8 .5-.7 .5-.8 .5-.7 .5-.7 .5-.6 .5-.7 .5-.5 .5-.6 .5-.5 .5-.5 .5-.5 .5-.4 .5-.4 .5-.3 .5-.4 .5-.2 .5-.3 .5-.2 .5-.1 .5-.2 .5-.1 .5-.1 .5,.0 .5,.0 .5-.1 .5,.1 .5,.0 .5,.0 .5,.1 .5,.1 .5,.1 .5,.0 .5,.2 .5,.1 .5,.1 .5,.1 .5,.1 .5,.1 .5,.0 .5,.1 .5,.1 .5,.0 .5,.0 .5,.0 .5,.0 .5-.1 .5-.1 .5-.1 .5-.1 .5-.2 .5-.2 .5-.3 .5-.2 .5-.3 .5-.4 .5-.3 .5-.4 .5-.4 .5-.5 .5-.4 .5-.5 .5-.6 .5-.5 .5-.6 .5-.6 .5-.6 .5-.6 .5-.7 .5-.6 .5-.7 .5-.6 .5-.7 .5-.6 .5-.7 .5-.6 .5-.6 .5-.7 .6-.6 .5-.6 .5-.5 .5-.6 .5-.5 .5-.5 .5-.5 .5-.4 .5-.4 .5-.4 .5-.3 .5-.4 .5-.2 .5-.3 .5-.2 .5-.2 .5-.1 .5-.1 .5,.0 .5,.0 .5,.0 .5,.1 .5,.1 .5,.1 .5,.2 .5,.2 .5,.2 .5,.2 .5,.3 .5,.3 .5,.3 .5,.3 .5,.3 .5,.4 .5,.3 .5,.4 .5,.3 .5,.4 .5,.4 .5,.3 .5,.4 .5,.3 .5,.4 .5,.3 .5,.2 .5,.3 .5,.2 .5,.2 .5,.2 .5,.2 .5,.1 .5,.0 .5,.1 .5,.0 .5,.0 .5,.0 .5,.0 .5,.0 .5,.0 .5,.0 .5,.0 .5-.1 .5,.0 .5-.1 .5-.2 .5-.2 .5-.2 .5-.2 .5-.3 .5-.2 .5-.3 .5-.4 .5-.3 .5-.4 .5-.3 .5-.4 .5-.4 .5-.3 .5-.4 .5-.3 .5-.4 .6-.3 .5-.3 .5-.3 .5-.3 .5-.3 .5-.2 .5-.2 .5-.2 .5-.2 .5-.1 .5-.1 .5-.1 .5,.0 .5,.0 .5,.0 .5,.1 .5,.1 .5,.2 .5,.2 .5,.3 .5,.2 .5,.4 .5,.3 .5,.4 .5,.4 .5,.4 .5,.5 .5,.5 .5,.5 .5,.6 .5,.5 .5,.6 .5,.6 .5,.7 .5,.6 .5,.6 .5,.7 .5,.6 .5,.7 .5,.6 .5,.7 .5,.6 .5,.7 .5,.6 .5,.6 .5,.6 .5,.6 .5,.5 .5,.6 .5,.5 .5,.4 .5,.5 .5,.4 .5,.4 .5,.3 .5,.4 .5,.3 .5,.2 .5,.3 .5,.2 .5,.2 .5,.1 .5,.1 .5,.1 .5,.1 .5,.0 .5,.0 .5,.0 .5,.0 .5-.1 .5-.1 .5,.0 .5-.1 .5-.1 .5-.1 .5-.1 .5-.1 .5-.2 .5,.0 .6-.1 .5-.1 .5-.1 .5,.0 .5,.0 .5-.1 .5,.1 .5,.0 .5,.0 .5,.1 .5,.1 .5,.2 .5,.1 .5,.2 .5,.3 .5,.2 .5,.4 .5,.3 .5,.4 .5,.4 .5,.5 .5,.5 .5,.5 .5,.6 .5,.5 .5,.7 .5,.6 .5,.7 .5,.7 .5,.8 .5,.7 .5,.8 .5,.8 .5,.9 .5,.8 .5,.9 .5,.9 .5,1 .5,.9 .5,.9 .5,1 .5,1 .5,1 .5,1 .5,1 .5,1 .5,1 .5,1 .5,1 .5,1.1 .5,1 .5,1 .5,1 .5,1 .5,1 .5,1 .5,1 .5,1 .5,1 .5,1 .5,.9 .5,.9 .5,.9 .5,.9 .5,.9 .5,.9 .5,.8 .5,.8 .5,.8 .5,.7 .5,.8 .5,.7 .5,.6" stroke="#5858aa" stroke-width="1.25" fill="none" stroke-dasharray="4.6 1.7 0.9 2.3"/>
</g>
<path d="M45.3,336.5H48.3 M222.2,336.5H225.2 M45.3,308.7H48.3 M222.2,308.7H225.2 M45.3,280.9H48.3 M222.2,280.9H225.2 M45.3,253.1H48.3 M222.2,253.1H225.2 M45.3,225.3H48.3 M222.2,225.3H225.2 M47,322.6H48.3 M223.7,322.6H225.2 M47,294.8H48.3 M223.7,294.8H225.2 M47,267H48.3 M223.7,267H225.2 M47,239.2H48.3 M223.7,239.2H225.2 M48.2,351.2V353.8 M48.2,211.5V213.7 M88.3,351.2V353.8 M88.3,211.5V213.7 M128.4,351.2V353.8 M128.4,211.5V213.7 M168.5,351.2V353.8 M168.5,211.5V213.7 M208.6,351.2V353.8 M208.6,211.5V213.7 M68.25,351.2V352.7 M68.25,211.5V213 M108.35,351.2V352.7 M108.35,211.5V213 M148.45,351.2V352.7 M148.45,211.5V213 M188.55,351.2V352.7 M188.55,211.5V213" stroke="#4a4a4a" stroke-width="1" fill="none"/>
<rect x="48.3" y="211.5" width="176.9" height="139.7" fill="none" stroke="#6e6e6e" stroke-width="1"/>
<text x="44.7" y="339" font-size="10.4" text-anchor="end" fill="#1e1e1e">0E+0</text>
<text x="44.7" y="311.2" font-size="10.4" text-anchor="end" fill="#1e1e1e">2E+9</text>
<text x="44.7" y="283.4" font-size="10.4" text-anchor="end" fill="#1e1e1e">4E+9</text>
<text x="44.7" y="255.6" font-size="10.4" text-anchor="end" fill="#1e1e1e">6E+9</text>
<text x="44.7" y="227.8" font-size="10.4" text-anchor="end" fill="#1e1e1e">8E+9</text>
<text x="48.2" y="363" font-size="11" text-anchor="middle" fill="#1e1e1e">0</text>
<text x="88.3" y="363" font-size="11" text-anchor="middle" fill="#1e1e1e">2</text>
<text x="128.4" y="363" font-size="11" text-anchor="middle" fill="#1e1e1e">4</text>
<text x="168.5" y="363" font-size="11" text-anchor="middle" fill="#1e1e1e">6</text>
<text x="208.6" y="363" font-size="11" text-anchor="middle" fill="#1e1e1e">8</text>
<rect x="79.4" y="284.4" width="112.2" height="37.6" fill="#ffffff" fill-opacity="0.87"/>
<path d="M81.1,291.4H104.1" stroke="#eba324" stroke-width="1.4"/>
<path d="M81.1,303.9H104.1" stroke="#5858aa" stroke-width="1.25" stroke-dasharray="3 2.3"/>
<path d="M81.1,316.2H104.1" stroke="#5858aa" stroke-width="1.25" stroke-dasharray="4.6 1.7 0.9 2.3"/>
<text x="107.2" y="294.6" font-size="10.15" font-weight="bold" font-style="normal" fill="#d3ab2a" text-anchor="start" ><tspan font-style="italic">Curve 4</tspan> (BPSWS)</text>
<text x="107.2" y="307.3" font-size="10.15" font-weight="bold" font-style="normal" fill="#5c5cac" text-anchor="start" >Lower envelope</text>
<text x="107.2" y="319.6" font-size="10.15" font-weight="bold" font-style="normal" fill="#5c5cac" text-anchor="start" >Upper envelope</text>
<path d="M219,325.8V331.6" stroke="#000" stroke-width="2"/>
<path d="M219,335.6 l-3.5,-5.4 h7 Z" fill="#000"/>
<path d="M219,350.2V345.6" stroke="#000" stroke-width="2"/>
<path d="M219,341.6 l-3.5,5.4 h7 Z" fill="#000"/>
<text x="226.6" y="341.7" font-size="12.5" font-weight="normal" font-style="italic" fill="#1e1e1e" text-anchor="start" >a3</text>
<g clip-path="url(#c140401892562400)">
<path d="M268.3,327.4l.5,.0 .5,.0 .5,.0 .5,.0 .5,.0 .5,.0 .5,.0 .5,.0 .5,.0 .5,.0 .5,.0 .5,.0 .5,.0 .6,.0 .5,.0 .5,.0 .5,.0 .5,.0 .5,.0 .5,.0 .5,.0 .5,.0 .5,.0 .5,.0 .5,.0 .5,.0 .5,.0 .5,.0 .5,.0 .5,.0 .5,.0 .5,.0 .5,.0 .5,.0 .5,.0 .5,.0 .5,.0 .5,.0 .5,.0 .5,.0 .6,.0 .5,.0 .5,.0 .5,.0 .5,.0 .5,.0 .5,.0 .5,.0 .5,.0 .5,.0 .5,.0 .5,.0 .5,.0 .5,.0 .5,.0 .5,.0 .5,.0 .5,.0 .5,.0 .5,.0 .5,.0 .5,.0 .5,.0 .5,.0 .5,.0 .5,.0 .6,.0 .5,.0 .5,.0 .5,.0 .5,.0 .5,.0 .5,.0 .5,.0 .5,.0 .5,.0 .5,.0 .5,.0 .5,.0 .5,.0 .5,.0 .5,.0 .5,.0 .5,.0 .5,.0 .5,.0 .5,.0 .5,.0 .5,.0 .5,.0 .5,.0 .5,.0 .5,.0 .6,.0 .5,.0 .5,.0 .5,.0 .5,.0 .5,.0 .5,.0 .5,.0 .5,.0 .5,.0 .5,.0 .5,.0 .5,.0 .5,.0 .5,.0 .5,.0 .5,.0 .5,.0 .5,.0 .5,.0 .5,.0 .5,.0 .5,.0 .5,.0 .5,.0 .5,.0 .6,.0 .5,.0 .5,.0 .5,.0 .5,.0 .5,.0 .5,.0 .5,.0 .5,.0 .5,.0 .5,.0 .5,.0 .5,.0 .5,.0 .5,.0 .5,.0 .5,.0 .5,.0 .5,.0 .5,.0 .5,.0 .5,.0 .5,.0 .5,.0 .5,.0 .5,.0 .5,.0 .6,.0 .5,.0 .5,.0 .5,.0 .5,.0 .5,.0 .5,.0 .5,.0 .5,.0 .5,.0 .5,.0 .5,.0 .5,.0 .5,.0 .5,.0 .5,.0 .5,.0 .5,.0 .5,.0 .5,.0 .5,.0 .5,.0 .5,.0 .5,.0 .5,.0 .5,.0 .5,.0 .6,.0 .5,.0 .5,.0 .5,.0 .5,.0 .5,.0 .5,.0 .5,.0 .5,.0 .5,.0 .5,.0 .5,.0 .5,.0 .5,.0 .5,.0 .5,.0 .5,.0 .5,.0 .5,.0 .5,.0 .5,.0 .5,.0 .5,.0 .5,.0 .5,.0 .5,.0 .5,.0 .6,.0 .5,.0 .5,.0 .5,.0 .5,.0 .5,.0 .5,.0 .5,.0 .5,.0 .5,.0 .5,.0 .5,.0 .5,.0 .5,.0 .5,.0 .5,.0 .5,.0 .5,.0 .5,.0 .5,.0 .5,.0 .5,.0 .5,.0 .5,.0 .5,.0 .5,.0 .6,.0 .5,.0 .5,.0 .5,.0 .5,.0 .5,.0 .5,.0 .5,.0 .5,.0 .5,.0 .5,.0 .5,.0 .5,.0 .5,.0 .5,.0 .5,.0 .5,.0 .5,.0 .5,.0 .5,.0 .5,.0 .5,.0 .5,.0 .5,.0 .5,.0 .5,.0 .5,.0 .6,.0 .5,.0 .5,.0 .5,.0 .5,.0 .5,.0 .5,.0 .5,.0 .5,.0 .5,.0 .5,.0 .5,.0 .5,.0 .5,.0 .5,.0 .5,.0 .5,.0 .5,.0 .5,.0 .5,.0 .5,.0 .5,.0 .5,.0 .5,.0 .5,.0 .5,.0 .6,.0 .5,.0 .5,.0 .5,.0 .5,.0 .5,.0 .5,.0 .5,.0 .5,.0 .5,.0 .5,.0 .5,.0 .5,.0 .5,.0 .5,.0 .5,.0 .5,.0 .5,.0 .5,.0 .5,.0 .5,.0 .5,.0 .5,.0 .5,.0 .5,.0 .5,.0 .5,.0 .6,.0 .5,.0 .5,.0 .5,.0 .5,.0 .5,.0 .5,.0 .5,.0 .5,.0 .5,.0 .5,.0 .5,.0 .5,.0 .5,.0 .5,.0 .5,.0 .5,.0 .5,.0 .5,.0 .5,.0 .5,.0 .5,.0 .5,.0 .5,.0 .5,.0 .5,.0 .5,.0 .6,.0 .5,.0 .5,.0 .5,.0 .5,.0 .5,.0 .5,.0 .5,.0 .5,.0 .5,.0 .5,.0 .5,.0 .5,.0 .5,.0 .5,.0 .5,.0 .5,.0 .5,.0 .5,.0 -.5,.6 -.5,.6 -.5,.6 -.5,.7 -.5,.6 -.5,.6 -.5,.6 -.5,.6 -.5,.6 -.5,.7 -.5,.6 -.5,.6 -.5,.6 -.5,.6 -.5,.6 -.5,.7 -.5,.6 -.5,.6 -.6,.6 -.5,.6 -.5,.0 -.5,.0 -.5,.1 -.5,.0 -.5,.0 -.5,.1 -.5,.0 -.5,.1 -.5,.1 -.5,.1 -.5,.0 -.5,.1 -.5,.1 -.5,.1 -.5,.1 -.5,.1 -.5,.1 -.5,.2 -.5,.1 -.5,.1 -.5,.1 -.5,.1 -.5,.1 -.5,.1 -.5,.1 -.6,.0 -.5,.1 -.5,.1 -.5,.1 -.5,.0 -.5,.1 -.5,.0 -.5,.0 -.5,.1 -.5,.0 -.5,.0 -.5,.0 -.5,.0 -.5-.1 -.5,.0 -.5-.1 -.5,.0 -.5-.1 -.5-.1 -.5-.1 -.5-.1 -.5-.2 -.5-.1 -.5-.1 -.5-.2 -.5-.1 -.5-.2 -.6-.1 -.5-.2 -.5-.1 -.5-.2 -.5-.1 -.5-.2 -.5-.1 -.5-.2 -.5-.1 -.5-.1 -.5-.1 -.5-.2 -.5-.1 -.5,.0 -.5-.1 -.5-.1 -.5,.0 -.5-.1 -.5,.0 -.5,.0 -.5,.0 -.5,.0 -.5,.0 -.5,.0 -.5,.1 -.5,.1 -.6,.0 -.5,.1 -.5,.1 -.5,.2 -.5,.1 -.5,.1 -.5,.2 -.5,.2 -.5,.1 -.5,.2 -.5,.2 -.5,.2 -.5,.2 -.5,.2 -.5,.2 -.5,.2 -.5,.2 -.5,.2 -.5,.2 -.5,.2 -.5,.2 -.5,.2 -.5,.1 -.5,.2 -.5,.2 -.5,.1 -.5,.2 -.6,.1 -.5,.1 -.5,.1 -.5,.1 -.5,.1 -.5,.1 -.5,.0 -.5,.1 -.5,.0 -.5,.0 -.5,.0 -.5,.0 -.5-.1 -.5,.0 -.5-.1 -.5,.0 -.5-.1 -.5-.1 -.5-.1 -.5-.1 -.5-.2 -.5-.1 -.5-.2 -.5-.1 -.5-.2 -.5-.1 -.6-.2 -.5-.2 -.5-.2 -.5-.1 -.5-.2 -.5-.2 -.5-.2 -.5-.2 -.5-.1 -.5-.2 -.5-.2 -.5-.1 -.5-.2 -.5-.1 -.5-.1 -.5-.2 -.5-.1 -.5-.1 -.5,.0 -.5-.1 -.5-.1 -.5,.0 -.5-.1 -.5,.0 -.5,.0 -.5,.0 -.5,.0 -.6,.1 -.5,.0 -.5,.1 -.5,.1 -.5,.0 -.5,.1 -.5,.1 -.5,.2 -.5,.1 -.5,.1 -.5,.2 -.5,.1 -.5,.2 -.5,.2 -.5,.1 -.5,.2 -.5,.2 -.5,.2 -.5,.2 -.5,.1 -.5,.2 -.5,.2 -.5,.2 -.5,.1 -.5,.2 -.5,.1 -.5,.2 -.6,.1 -.5,.2 -.5,.1 -.5,.1 -.5,.1 -.5,.1 -.5,.0 -.5,.1 -.5,.0 -.5,.1 -.5,.0 -.5,.0 -.5,.0 -.5,.0 -.5-.1 -.5,.0 -.5-.1 -.5-.1 -.5-.1 -.5-.1 -.5-.1 -.5-.1 -.5-.2 -.5-.1 -.5-.2 -.5-.2 -.5-.1 -.6-.2 -.5-.2 -.5-.2 -.5-.2 -.5-.2 -.5-.2 -.5-.2 -.5-.2 -.5-.2 -.5-.2 -.5-.2 -.5-.2 -.5-.2 -.5-.1 -.5-.2 -.5-.2 -.5-.1 -.5-.1 -.5-.2 -.5-.1 -.5-.1 -.5,.0 -.5-.1 -.5-.1 -.5,.0 -.5,.0 -.6,.0 -.5,.0 -.5,.0 -.5,.0 -.5,.1 -.5,.0 -.5,.1 -.5,.1 -.5,.0 -.5,.1 -.5,.2 -.5,.1 -.5,.1 -.5,.1 -.5,.2 -.5,.1 -.5,.2 -.5,.1 -.5,.2 -.5,.1 -.5,.2 -.5,.1 -.5,.2 -.5,.1 -.5,.2 -.5,.1 -.5,.1 -.6,.2 -.5,.1 -.5,.1 -.5,.1 -.5,.1 -.5,.0 -.5,.1 -.5,.0 -.5,.1 -.5,.0 -.5,.0 -.5,.0 -.5,.0 -.5-.1 -.5,.0 -.5,.0 -.5-.1 -.5,.0 -.5-.1 -.5-.1 -.5-.1 -.5,.0 -.5-.1 -.5-.1 -.5-.1 -.5-.1 -.6-.1 -.5-.1 -.5-.1 -.5-.2 -.5-.1 -.5-.1 -.5-.1 -.5-.1 -.5-.1 -.5-.1 -.5,.0 -.5-.1 -.5-.1 -.5-.1 -.5,.0 -.5-.1 -.5,.0 -.5,.0 -.5-.1 -.5,.0 -.5,.0 -.5-.6 -.5-.6 -.5-.6 -.5-.6 -.5-.7 -.5-.6 -.6-.6 -.5-.6 -.5-.6 -.5-.6 -.5-.7 -.5-.6 -.5-.6 -.5-.6 -.5-.6 -.5-.6 -.5-.7 -.5-.6 -.5-.6 -.5-.6Z" fill="#e5fdfd" stroke="none"/>
<path d="M268.3,327.4H445.5" stroke="#555555" stroke-width="1.0" stroke-dasharray="2.2 1.9" fill="none"/>
<path d="M268.3,340.79H445.5" stroke="#8a8a8a" stroke-width="1.0" stroke-dasharray="2.2 1.9" fill="none"/>
<path d="M268.3,327.4l.2,.2 .2,.3 .2,.2 .2,.3 .2,.2 .2,.3 .2,.2 .2,.3 .2,.2 .2,.3 .2,.2 .2,.3 .2,.2 .2,.3 .2,.2 .2,.2 .2,.3 .2,.2 .2,.3 .2,.2 .2,.3 .2,.2 .2,.3 .2,.2 .2,.3 .2,.2 .2,.3 .2,.2 .2,.2 .2,.3 .2,.2 .2,.3 .2,.2 .3,.3 .2,.2 .2,.3 .2,.2 .2,.3 .2,.2 .2,.3 .2,.2 .2,.3 .2,.2 .2,.2 .2,.3 .2,.2 .2,.3 .2,.2 .2,.3 .2,.2 .2,.0 .2,.0 .2,.0 .2,.0 .2,.0 .2,.0 .2,.1 .2,.0 .2,.0 .2,.0 .2,.0 .2,.0 .2,.0 .2,.1 .2,.0 .2,.0 .2,.0 .2,.1 .2,.0 .2,.0 .2,.0 .2,.1 .2,.0 .2,.0 .2,.1 .2,.0 .2,.0 .2,.1 .2,.0 .2,.0 .2,.1 .2,.0 .2,.1 .2,.0 .2,.0 .2,.1 .2,.0 .2,.1 .2,.0 .2,.0 .2,.1 .2,.0 .2,.1 .2,.0 .2,.1 .2,.0 .2,.0 .2,.1 .2,.0 .2,.1 .3,.0 .2,.1 .2,.0 .2,.0 .2,.1 .2,.0 .2,.1 .2,.0 .2,.0 .2,.1 .2,.0 .2,.0 .2,.1 .2,.0 .2,.0 .2,.1 .2,.0 .2,.0 .2,.1 .2,.0 .2,.0 .2,.1 .2,.0 .2,.0 .2,.0 .2,.0 .2,.1 .2,.0 .2,.0 .2,.0 .2,.0 .2,.0 .2,.1 .2,.0 .2,.0 .2,.0 .2,.0 .2,.0 .2,.0 .2,.0 .2,.0 .2,.0 .2,.0 .2,.0 .2,.0 .2-.1 .2,.0 .2,.0 .2,.0 .2,.0 .2,.0 .2-.1 .2,.0 .2,.0 .2,.0 .2-.1 .2,.0 .2,.0 .2-.1 .2,.0 .2-.1 .2,.0 .2,.0 .2-.1 .2,.0 .2-.1 .3,.0 .2-.1 .2,.0 .2-.1 .2,.0 .2-.1 .2,.0 .2-.1 .2-.1 .2,.0 .2-.1 .2,.0 .2-.1 .2-.1 .2,.0 .2-.1 .2,.0 .2-.1 .2-.1 .2,.0 .2-.1 .2-.1 .2,.0 .2-.1 .2,.0 .2-.1 .2-.1 .2,.0 .2-.1 .2,.0 .2-.1 .2,.0 .2-.1 .2-.1 .2,.0 .2-.1 .2,.0 .2-.1 .2,.0 .2-.1 .2,.0 .2-.1 .2,.0 .2-.1 .2,.0 .2,.0 .2-.1 .2,.0 .2,.0 .2-.1 .2,.0 .2,.0 .2-.1 .2,.0 .2,.0 .2,.0 .2-.1 .2,.0 .2,.0 .2,.0 .2,.0 .2,.0 .2,.0 .2,.0 .2,.0 .2,.0 .2,.0 .3,.0 .2,.0 .2,.0 .2,.0 .2,.0 .2,.0 .2,.0 .2,.1 .2,.0 .2,.0 .2,.0 .2,.1 .2,.0 .2,.0 .2,.1 .2,.0 .2,.0 .2,.1 .2,.0 .2,.1 .2,.0 .2,.1 .2,.0 .2,.1 .2,.0 .2,.1 .2,.0 .2,.1 .2,.1 .2,.0 .2,.1 .2,.1 .2,.0 .2,.1 .2,.1 .2,.0 .2,.1 .2,.1 .2,.1 .2,.0 .2,.1 .2,.1 .2,.1 .2,.0 .2,.1 .2,.1 .2,.1 .2,.1 .2,.0 .2,.1 .2,.1 .2,.1 .2,.1 .2,.0 .2,.1 .2,.1 .2,.1 .2,.1 .2,.0 .2,.1 .2,.1 .2,.1 .2,.1 .2,.0 .2,.1 .2,.1 .3,.1 .2,.0 .2,.1 .2,.1 .2,.0 .2,.1 .2,.1 .2,.0 .2,.1 .2,.1 .2,.0 .2,.1 .2,.0 .2,.1 .2,.0 .2,.1 .2,.0 .2,.1 .2,.0 .2,.1 .2,.0 .2,.1 .2,.0 .2,.0 .2,.1 .2,.0 .2,.0 .2,.1 .2,.0 .2,.0 .2,.0 .2,.0 .2,.1 .2,.0 .2,.0 .2,.0 .2,.0 .2,.0 .2,.0 .2,.0 .2,.0 .2,.0 .2,.0 .2,.0 .2,.0 .2-.1 .2,.0 .2,.0 .2,.0 .2,.0 .2-.1 .2,.0 .2,.0 .2,.0 .2-.1 .2,.0 .2-.1 .2,.0 .2,.0 .2-.1 .2,.0 .2-.1 .2,.0 .2-.1 .2,.0 .2-.1 .2,.0 .3-.1 .2,.0 .2-.1 .2-.1 .2,.0 .2-.1 .2,.0 .2-.1 .2-.1 .2,.0 .2-.1 .2-.1 .2,.0 .2-.1 .2-.1 .2,.0 .2-.1 .2-.1 .2-.1 .2,.0 .2-.1 .2-.1 .2,.0 .2-.1 .2-.1 .2-.1 .2,.0 .2-.1 .2-.1 .2-.1 .2,.0 .2-.1 .2-.1 .2,.0 .2-.1 .2-.1 .2,.0 .2-.1 .2-.1 .2,.0 .2-.1 .2,.0 .2-.1 .2-.1 .2,.0 .2-.1 .2,.0 .2-.1 .2,.0 .2-.1 .2,.0 .2-.1 .2,.0 .2-.1 .2,.0 .2,.0 .2-.1 .2,.0 .2,.0 .2-.1 .2,.0 .2,.0 .2-.1 .2,.0 .2,.0 .2,.0 .2,.0 .3-.1 .2,.0 .2,.0 .2,.0 .2,.0 .2,.0 .2,.0 .2,.0 .2,.0 .2,.0 .2,.0 .2,.0 .2,.0 .2,.1 .2,.0 .2,.0 .2,.0 .2,.0 .2,.1 .2,.0 .2,.0 .2,.1 .2,.0 .2,.0 .2,.1 .2,.0 .2,.0 .2,.1 .2,.0 .2,.1 .2,.0 .2,.1 .2,.0 .2,.1 .2,.0 .2,.1 .2,.0 .2,.1 .2,.1 .2,.0 .2,.1 .2,.0 .2,.1 .2,.1 .2,.0 .2,.1 .2,.1 .2,.0 .2,.1 .2,.1 .2,.0 .2,.1 .2,.1 .2,.1 .2,.0 .2,.1 .2,.1 .2,.1 .2,.0 .2,.1 .2,.1 .2,.0 .2,.1 .2,.1 .2,.1 .2,.0 .2,.1 .3,.1 .2,.0 .2,.1 .2,.1 .2,.0 .2,.1 .2,.1 .2,.0 .2,.1 .2,.0 .2,.1 .2,.1 .2,.0 .2,.1 .2,.0 .2,.1 .2,.0 .2,.1 .2,.0 .2,.1 .2,.0 .2,.1 .2,.0 .2,.0 .2,.1 .2,.0 .2,.1 .2,.0 .2,.0 .2,.0 .2,.1 .2,.0 .2,.0 .2,.0 .2,.0 .2,.1 .2,.0 .2,.0 .2,.0 .2,.0 .2,.0 .2,.0 .2,.0 .2,.0 .2,.0 .2,.0 .2,.0 .2,.0 .2-.1 .2,.0 .2,.0 .2,.0 .2,.0 .2-.1 .2,.0 .2,.0 .2-.1 .2,.0 .2,.0 .2-.1 .2,.0 .2-.1 .2,.0 .2-.1 .2,.0 .2-.1 .3,.0 .2-.1 .2,.0 .2-.1 .2,.0 .2-.1 .2-.1 .2,.0 .2-.1 .2-.1 .2,.0 .2-.1 .2-.1 .2,.0 .2-.1 .2-.1 .2-.1 .2,.0 .2-.1 .2-.1 .2-.1 .2-.1 .2,.0 .2-.1 .2-.1 .2-.1 .2-.1 .2,.0 .2-.1 .2-.1 .2-.1 .2-.1 .2,.0 .2-.1 .2-.1 .2-.1 .2-.1 .2,.0 .2-.1 .2-.1 .2-.1 .2,.0 .2-.1 .2-.1 .2-.1 .2,.0 .2-.1 .2-.1 .2,.0 .2-.1 .2-.1 .2,.0 .2-.1 .2-.1 .2,.0 .2-.1 .2,.0 .2-.1 .2,.0 .2-.1 .2,.0 .2-.1 .2,.0 .2-.1 .2,.0 .2,.0 .2-.1 .3,.0 .2,.0 .2-.1 .2,.0 .2,.0 .2,.0 .2-.1 .2,.0 .2,.0 .2,.0 .2,.0 .2,.0 .2,.0 .2,.0 .2,.0 .2,.0 .2,.0 .2,.0 .2,.0 .2,.0 .2,.0 .2,.0 .2,.0 .2,.0 .2,.1 .2,.0 .2,.0 .2,.0 .2,.1 .2,.0 .2,.0 .2,.1 .2,.0 .2,.0 .2,.1 .2,.0 .2,.0 .2,.1 .2,.0 .2,.1 .2,.0 .2,.1 .2,.0 .2,.1 .2,.0 .2,.1 .2,.0 .2,.1 .2,.1 .2,.0 .2,.1 .2,.0 .2,.1 .2,.0 .2,.1 .2,.1 .2,.0 .2,.1 .2,.0 .2,.1 .2,.1 .2,.0 .2,.1 .2,.1 .2,.0 .2,.1 .3,.0 .2,.1 .2,.1 .2,.0 .2,.1 .2,.0 .2,.1 .2,.1 .2,.0 .2,.1 .2,.0 .2,.1 .2,.0 .2,.1 .2,.0 .2,.1 .2,.0 .2,.1 .2,.0 .2,.0 .2,.1 .2,.0 .2,.1 .2,.0 .2,.0 .2,.1 .2,.0 .2,.0 .2,.0 .2,.1 .2,.0 .2,.0 .2,.0 .2,.0 .2,.0 .2,.1 .2,.0 .2,.0 .2,.0 .2,.0 .2,.0 .2,.0 .2,.0 .2,.0 .2,.0 .2,.0 .2,.0 .2,.0 .2-.1 .2,.0 .2,.0 .2,.0 .2,.0 .2,.0 .2-.1 .2,.0 .2,.0 .2,.0 .2,.0 .2-.1 .2,.0 .2,.0 .2-.1 .2,.0 .2,.0 .2-.1 .2,.0 .3,.0 .2-.1 .2,.0 .2,.0 .2-.1 .2,.0 .2,.0 .2-.1 .2,.0 .2-.1 .2,.0 .2,.0 .2-.1 .2,.0 .2-.1 .2,.0 .2-.1 .2,.0 .2,.0 .2-.1 .2,.0 .2-.1 .2,.0 .2-.1 .2,.0 .2,.0 .2-.1 .2,.0 .2-.1 .2,.0 .2,.0 .2-.1 .2,.0 .2-.1 .2,.0 .2,.0 .2-.1 .2,.0 .2,.0 .2-.1 .2,.0 .2,.0 .2-.1 .2,.0 .2,.0 .2,.0 .2-.1 .2,.0 .2,.0 .2,.0 .2-.1 .2,.0 .2,.0 .2,.0 .2,.0 .2,.0 .2,.0 .2-.1 .2,.0 .2,.0 .2,.0 .2,.0 .2,.0 .2,.0 .2-.2 .2-.3 .2-.2 .3-.3 .2-.2 .2-.3 .2-.2 .2-.2 .2-.3 .2-.2 .2-.3 .2-.2 .2-.3 .2-.2 .2-.3 .2-.2 .2-.3 .2-.2 .2-.3 .2-.2 .2-.3 .2-.2 .2-.2 .2-.3 .2-.2 .2-.3 .2-.2 .2-.3 .2-.2 .2-.3 .2-.2 .2-.3 .2-.2 .2-.3 .2-.2 .2-.2 .2-.3 .2-.2 .2-.3 .2-.2 .2-.3 .2-.2 .2-.3 .2-.2 .2-.3 .2-.2 .2-.3 .2-.2 .2-.3 .2-.2" stroke="#eba324" stroke-width="1.3" fill="none" stroke-linejoin="round" />
</g>
<path d="M265.3,327.4H268.3 M442.5,327.4H445.5 M265.3,280.9H268.3 M442.5,280.9H445.5 M265.3,234.4H268.3 M442.5,234.4H445.5 M267,304.15H268.3 M444,304.15H445.5 M267,257.65H268.3 M444,257.65H445.5 M268.3,351.2V353.8 M268.3,211.5V213.7 M308.6,351.2V353.8 M308.6,211.5V213.7 M348.9,351.2V353.8 M348.9,211.5V213.7 M389.2,351.2V353.8 M389.2,211.5V213.7 M429.5,351.2V353.8 M429.5,211.5V213.7 M288.45,351.2V352.7 M288.45,211.5V213 M328.75,351.2V352.7 M328.75,211.5V213 M369.05,351.2V352.7 M369.05,211.5V213 M409.35,351.2V352.7 M409.35,211.5V213" stroke="#4a4a4a" stroke-width="1" fill="none"/>
<rect x="268.3" y="211.5" width="177.2" height="139.7" fill="none" stroke="#6e6e6e" stroke-width="1"/>
<text x="264.7" y="329.9" font-size="10.4" text-anchor="end" fill="#1e1e1e">0E+0</text>
<text x="264.7" y="283.4" font-size="10.4" text-anchor="end" fill="#1e1e1e">1E+9</text>
<text x="264.7" y="236.9" font-size="10.4" text-anchor="end" fill="#1e1e1e">2E+9</text>
<text x="268.3" y="363" font-size="11" text-anchor="middle" fill="#1e1e1e">0</text>
<text x="308.6" y="363" font-size="11" text-anchor="middle" fill="#1e1e1e">2</text>
<text x="348.9" y="363" font-size="11" text-anchor="middle" fill="#1e1e1e">4</text>
<text x="389.2" y="363" font-size="11" text-anchor="middle" fill="#1e1e1e">6</text>
<text x="429.5" y="363" font-size="11" text-anchor="middle" fill="#1e1e1e">8</text>
<path d="M278.8,233.1H300.8" stroke="#eba324" stroke-width="1.4"/>
<text x="304.4" y="237.3" font-size="10.15" font-weight="bold" font-style="normal" fill="#d3ab2a" text-anchor="start" ><tspan font-style="italic">Curve 5</tspan> (Single-cycle</text>
<text x="304.4" y="249.3" font-size="10.15" font-weight="bold" font-style="normal" fill="#d3ab2a" text-anchor="start" >rectangular waveform)</text>
<path d="M431.8,316.8V322.8" stroke="#000" stroke-width="2"/>
<path d="M431.8,326.8 l-3.5,-5.4 h7 Z" fill="#000"/>
<path d="M431.8,350.2V345.4" stroke="#000" stroke-width="2"/>
<path d="M431.8,341.4 l-3.5,5.4 h7 Z" fill="#000"/>
<text x="421.3" y="338.8" font-size="13" font-weight="normal" font-style="italic" fill="#1e1e1e" text-anchor="start" >a3</text>
<g clip-path="url(#c140401892562448)">
<path d="M490.7,287.8l.5-.4 .5-.5 .5-.5 .5-.6 .5-.6 .5-.7 .5-.7 .5-.8 .5-.8 .5-.9 .5-.9 .5-.9 .5-1 .5-1 .5-1 .5-1 .6-1.1 .5-1.1 .5-1.1 .5-1.1 .5-1.1 .5-1.1 .5-1.2 .5-1.1 .5-1.2 .5-1.1 .5-1.2 .5-1.1 .5-1.1 .5-1.1 .5-1.2 .5-1 .5-1.1 .5-1.1 .5-1 .5-1 .5-1 .5-1 .5-.9 .5-.9 .5-.8 .5-.8 .5-.8 .5-.8 .5-.7 .5-.6 .5-.7 .5-.5 .5-.6 .5-.5 .6-.5 .5-.4 .5-.4 .5-.3 .5-.3 .5-.3 .5-.2 .5-.2 .5-.2 .5-.1 .5-.1 .5,.0 .5-.1 .5,.0 .5,.1 .5,.0 .5,.1 .5,.0 .5,.1 .5,.1 .5,.1 .5,.1 .5,.1 .5,.1 .5,.1 .5,.1 .5,.1 .5,.1 .5,.1 .5,.1 .5,.0 .5,.0 .5,.1 .6,.0 .5-.1 .5,.0 .5-.1 .5-.1 .5-.2 .5-.2 .5-.2 .5-.2 .5-.3 .5-.3 .5-.3 .5-.3 .5-.4 .5-.4 .5-.5 .5-.4 .5-.5 .5-.5 .5-.5 .5-.5 .5-.6 .5-.6 .5-.6 .5-.6 .5-.6 .5-.6 .5-.6 .5-.7 .5-.6 .5-.6 .5-.7 .5-.6 .6-.7 .5-.6 .5-.6 .5-.6 .5-.6 .5-.6 .5-.5 .5-.6 .5-.5 .5-.5 .5-.4 .5-.5 .5-.4 .5-.4 .5-.3 .5-.3 .5-.3 .5-.2 .5-.2 .5-.1 .5-.1 .5,.0 .5,.0 .5,.0 .5,.1 .5,.1 .5,.2 .5,.1 .5,.3 .5,.2 .5,.3 .5,.2 .5,.4 .6,.3 .5,.3 .5,.4 .5,.4 .5,.3 .5,.4 .5,.4 .5,.4 .5,.4 .5,.4 .5,.4 .5,.3 .5,.4 .5,.3 .5,.4 .5,.3 .5,.3 .5,.2 .5,.2 .5,.2 .5,.2 .5,.2 .5,.1 .5,.1 .5,.0 .5,.1 .5,.0 .5,.0 .5-.1 .5,.0 .5-.1 .5-.1 .5-.2 .5-.2 .6-.2 .5-.2 .5-.2 .5-.3 .5-.3 .5-.4 .5-.3 .5-.4 .5-.3 .5-.4 .5-.4 .5-.4 .5-.4 .5-.4 .5-.4 .5-.3 .5-.4 .5-.4 .5-.3 .5-.3 .5-.4 .5-.2 .5-.3 .5-.2 .5-.3 .5-.1 .5-.2 .5-.1 .5-.1 .5,.0 .5,.0 .5,.0 .5,.1 .6,.1 .5,.2 .5,.2 .5,.3 .5,.3 .5,.3 .5,.4 .5,.4 .5,.5 .5,.4 .5,.5 .5,.5 .5,.6 .5,.5 .5,.6 .5,.6 .5,.6 .5,.6 .5,.6 .5,.7 .5,.6 .5,.7 .5,.6 .5,.6 .5,.7 .5,.6 .5,.6 .5,.6 .5,.6 .5,.6 .5,.6 .5,.6 .5,.5 .5,.5 .6,.5 .5,.5 .5,.4 .5,.5 .5,.4 .5,.4 .5,.3 .5,.3 .5,.3 .5,.3 .5,.2 .5,.2 .5,.2 .5,.2 .5,.1 .5,.1 .5,.0 .5,.1 .5,.0 .5-.1 .5,.0 .5,.0 .5-.1 .5-.1 .5-.1 .5-.1 .5-.1 .5-.1 .5-.1 .5-.1 .5-.1 .5-.1 .5-.1 .6-.1 .5,.0 .5-.1 .5,.0 .5-.1 .5,.0 .5,.1 .5,.0 .5,.1 .5,.1 .5,.2 .5,.2 .5,.2 .5,.3 .5,.3 .5,.3 .5,.4 .5,.4 .5,.5 .5,.5 .5,.6 .5,.5 .5,.7 .5,.6 .5,.7 .5,.8 .5,.8 .5,.8 .5,.8 .5,.9 .5,.9 .5,1 .5,1 .6,1 .5,1 .5,1.1 .5,1.1 .5,1 .5,1.2 .5,1.1 .5,1.1 .5,1.1 .5,1.2 .5,1.1 .5,1.2 .5,1.1 .5,1.2 .5,1.1 .5,1.1 .5,1.1 .5,1.1 .5,1.1 .5,1.1 .5,1 .5,1 .5,1 .5,1 .5,.9 .5,.9 .5,.9 .5,.8 .5,.8 .5,.7 .5,.7 .5,.6 .5,.6 .6,.5 .5,.5 .5,.4 .0,48.7 -.5,.0 -.5,.0 -.6,.0 -.5,.0 -.5,.0 -.5,.0 -.5,.0 -.5,.0 -.5,.0 -.5,.0 -.5,.0 -.5,.0 -.5,.0 -.5,.0 -.5,.0 -.5,.0 -.5,.0 -.5,.0 -.5,.0 -.5,.0 -.5,.0 -.5,.0 -.5,.0 -.5,.0 -.5,.0 -.5,.0 -.5,.0 -.5,.0 -.5,.0 -.5,.0 -.5,.0 -.5,.0 -.5,.0 -.5,.0 -.5,.0 -.6,.0 -.5,.0 -.5,.0 -.5,.0 -.5,.0 -.5,.0 -.5,.0 -.5,.0 -.5,.0 -.5,.0 -.5,.0 -.5,.0 -.5,.0 -.5,.0 -.5,.0 -.5,.0 -.5,.0 -.5,.0 -.5,.0 -.5,.0 -.5,.0 -.5,.0 -.5,.0 -.5,.0 -.5,.0 -.5,.0 -.5,.0 -.5,.0 -.5,.0 -.5,.0 -.5,.0 -.5,.0 -.5,.0 -.6,.0 -.5,.0 -.5,.0 -.5,.0 -.5,.0 -.5,.0 -.5,.0 -.5,.0 -.5,.0 -.5,.0 -.5,.0 -.5,.0 -.5,.0 -.5,.0 -.5,.0 -.5,.0 -.5,.0 -.5,.0 -.5,.0 -.5,.0 -.5,.0 -.5,.0 -.5,.0 -.5,.0 -.5,.0 -.5,.0 -.5,.0 -.5,.0 -.5,.0 -.5,.0 -.5,.0 -.5,.0 -.5,.0 -.6,.0 -.5,.0 -.5,.0 -.5,.0 -.5,.0 -.5,.0 -.5,.0 -.5,.0 -.5,.0 -.5,.0 -.5,.0 -.5,.0 -.5,.0 -.5,.0 -.5,.0 -.5,.0 -.5,.0 -.5,.0 -.5,.0 -.5,.0 -.5,.0 -.5,.0 -.5,.0 -.5,.0 -.5,.0 -.5,.0 -.5,.0 -.5,.0 -.5,.0 -.5,.0 -.5,.0 -.5,.0 -.5,.0 -.5,.0 -.6,.0 -.5,.0 -.5,.0 -.5,.0 -.5,.0 -.5,.0 -.5,.0 -.5,.0 -.5,.0 -.5,.0 -.5,.0 -.5,.0 -.5,.0 -.5,.0 -.5,.0 -.5,.0 -.5,.0 -.5,.0 -.5,.0 -.5,.0 -.5,.0 -.5,.0 -.5,.0 -.5,.0 -.5,.0 -.5,.0 -.5,.0 -.5,.0 -.5,.0 -.5,.0 -.5,.0 -.5,.0 -.5,.0 -.6,.0 -.5,.0 -.5,.0 -.5,.0 -.5,.0 -.5,.0 -.5,.0 -.5,.0 -.5,.0 -.5,.0 -.5,.0 -.5,.0 -.5,.0 -.5,.0 -.5,.0 -.5,.0 -.5,.0 -.5,.0 -.5,.0 -.5,.0 -.5,.0 -.5,.0 -.5,.0 -.5,.0 -.5,.0 -.5,.0 -.5,.0 -.5,.0 -.5,.0 -.5,.0 -.5,.0 -.5,.0 -.5,.0 -.5,.0 -.6,.0 -.5,.0 -.5,.0 -.5,.0 -.5,.0 -.5,.0 -.5,.0 -.5,.0 -.5,.0 -.5,.0 -.5,.0 -.5,.0 -.5,.0 -.5,.0 -.5,.0 -.5,.0 -.5,.0 -.5,.0 -.5,.0 -.5,.0 -.5,.0 -.5,.0 -.5,.0 -.5,.0 -.5,.0 -.5,.0 -.5,.0 -.5,.0 -.5,.0 -.5,.0 -.5,.0 -.5,.0 -.5,.0 -.6,.0 -.5,.0 -.5,.0 -.5,.0 -.5,.0 -.5,.0 -.5,.0 -.5,.0 -.5,.0 -.5,.0 -.5,.0 -.5,.0 -.5,.0 -.5,.0 -.5,.0 -.5,.0 -.5,.0 -.5,.0 -.5,.0 -.5,.0 -.5,.0 -.5,.0 -.5,.0 -.5,.0 -.5,.0 -.5,.0 -.5,.0 -.5,.0 -.5,.0 -.5,.0 -.5,.0 -.5,.0 -.5,.0 -.6,.0 -.5,.0 -.5,.0 -.5,.0 -.5,.0 -.5,.0 -.5,.0 -.5,.0 -.5,.0 -.5,.0 -.5,.0 -.5,.0 -.5,.0 -.5,.0 -.5,.0 -.5,.0 -.5,.0 -.5,.0 -.5,.0 -.5,.0 -.5,.0 -.5,.0 -.5,.0 -.5,.0 -.5,.0 -.5,.0 -.5,.0 -.5,.0 -.5,.0 -.5,.0 -.5,.0 -.5,.0 -.5,.0 -.6,.0 -.5,.0 -.5,.0 -.5,.0 -.5,.0 -.5,.0 -.5,.0 -.5,.0 -.5,.0 -.5,.0 -.5,.0 -.5,.0 -.5,.0 -.5,.0 -.5,.0 -.5,.0 -.5,.0 -.5,.0 -.5,.0 -.5,.0 -.5,.0 -.5,.0 -.5,.0 -.5,.0 -.5,.0 -.5,.0 -.5,.0 -.5,.0 -.5,.0 -.5,.0 -.5,.0 -.5,.0 -.5,.0 -.5,.0 -.6,.0 -.5,.0 -.5,.0 -.5,.0 -.5,.0 -.5,.0 -.5,.0 -.5,.0 -.5,.0 -.5,.0 -.5,.0 -.5,.0 -.5,.0 -.5,.0 -.5,.0 -.5,.0 -.5,.0Z" fill="#e5fdfd" stroke="none"/>
<path d="M490.6,240.17H667.6" stroke="#555555" stroke-width="1.0" stroke-dasharray="2.2 1.9" fill="none"/>
<path d="M490.7,336.5l.2,.0 .2,.0 .2,.0 .2,.0 .2,.0 .2,.0 .2,.0 .2-.1 .2,.0 .2,.0 .2,.0 .2,.0 .2-.1 .2,.0 .2,.0 .2-.1 .2,.0 .2,.0 .2-.1 .2-.1 .2,.0 .2-.1 .2-.1 .2-.1 .2-.2 .2-.1 .2-.2 .2-.2 .2-.2 .2-.3 .2-.3 .2-.3 .2-.4 .2-.5 .2-.5 .2-.6 .2-.7 .2-.8 .2-.9 .2-1 .2-1.3 .3-1.3 .2-1.6 .2-1.9 .2-2.1 .2-2.5 .2-2.8 .2-3.2 .2-3.7 .2-4.3 .2-5.4 .2-5.3 .2-5.1 .2-4.8 .2-4.4 .2-3.9 .2-3.2 .2-2.5 .2-1.7 .2-.9 .2,.0 .2,.8 .2,1.7 .2,2.5 .2,3.3 .2,3.9 .2,4.5 .2,5 .2,5.4 .2,5.6 .2,5.6 .2,5.6 .2,5.3 .2,5 .2,4.5 .2,3.8 .2,3.2 .2,2.3 .2,1.4 .2,.5 .2-.5 .2-1.5 .2-2.4 .2-3.3 .2-4.2 .2-4.9 .2-5.6 .2-6 .2-6.5 .2-6.7 .2-6.7 .2-6.6 .2-6.4 .2-5.9 .2-5.4 .2-4.7 .2-3.8 .2-3 .2-1.9 .2-.9 .2,.2 .2,1.3 .2,2.3 .2,3.3 .2,4.2 .2,5.1 .2,5.7 .2,6.2 .2,6.7 .2,6.9 .2,6.9 .2,6.8 .2,6.5 .2,6 .2,5.4 .2,4.6 .2,3.8 .2,2.7 .2,1.7 .2,.6 .2-.6 .2-1.7 .2-2.8 .2-3.8 .2-4.8 .3-5.7 .2-6.3 .2-6.9 .2-7.2 .2-7.5 .2-7.5 .2-7.3 .2-7 .2-6.5 .2-5.8 .2-4.9 .2-4.1 .2-3 .2-1.8 .2-.7 .2,.5 .2,1.7 .2,2.8 .2,3.8 .2,4.9 .2,5.7 .2,6.4 .2,6.9 .2,7.4 .2,7.5 .2,7.5 .2,7.4 .2,7 .2,6.5 .2,5.7 .2,5 .2,3.9 .2,2.9 .2,1.8 .2,.6 .2-.6 .2-1.8 .2-2.9 .2-3.9 .2-5 .2-5.7 .2-6.5 .2-7 .2-7.3 .2-7.6 .2-7.5 .2-7.4 .2-6.9 .2-6.5 .2-5.7 .2-4.9 .2-3.9 .2-2.8 .2-1.7 .2-.6 .2,.6 .2,1.9 .2,2.9 .2,4 .2,4.9 .2,5.7 .2,6.5 .2,7 .2,7.3 .2,7.5 .2,7.5 .2,7.3 .2,7 .2,6.4 .2,5.7 .2,4.9 .2,3.9 .2,2.9 .2,1.7 .2,.6 .2-.6 .2-1.7 .2-2.9 .2-3.9 .2-4.9 .2-5.7 .2-6.3 .2-6.9 .3-7.3 .2-7.5 .2-7.4 .2-7.3 .2-6.9 .2-6.4 .2-5.8 .2-4.8 .2-4 .2-2.9 .2-1.8 .2-.6 .2,.5 .2,1.7 .2,2.8 .2,3.9 .2,4.8 .2,5.7 .2,6.3 .2,6.9 .2,7.3 .2,7.5 .2,7.5 .2,7.3 .2,7 .2,6.4 .2,5.8 .2,4.9 .2,4 .2,2.9 .2,1.8 .2,.6 .2-.6 .2-1.8 .2-2.9 .2-4.1 .2-5 .2-5.9 .2-6.7 .2-7.2 .2-7.6 .2-7.9 .2-7.8 .2-7.7 .2-7.4 .2-6.8 .2-6.2 .2-5.3 .2-4.3 .2-3.2 .2-2.1 .2-.8 .2,.4 .2,1.6 .2,2.9 .2,3.9 .2,5 .2,6 .2,6.7 .2,7.3 .2,7.7 .2,8 .2,8 .2,7.8 .2,7.5 .2,6.9 .2,6.2 .2,5.4 .2,4.3 .2,3.1 .2,1.9 .2,.7 .2-.7 .2-1.9 .2-3.2 .2-4.4 .2-5.5 .2-6.5 .2-7.3 .2-7.9 .2-8.4 .2-8.6 .2-8.6 .3-8.5 .2-8.1 .2-7.5 .2-6.8 .2-5.8 .2-4.8 .2-3.5 .2-2.3 .2-.9 .2,.4 .2,1.9 .2,3.1 .2,4.4 .2,5.5 .2,6.5 .2,7.4 .2,8 .2,8.5 .2,8.8 .2,8.8 .2,8.6 .2,8.2 .2,7.5 .2,6.8 .2,5.9 .2,4.6 .2,3.5 .2,2.1 .2,.7 .2-.7 .2-2.1 .2-3.5 .2-4.8 .2-5.9 .2-7 .2-7.8 .2-8.5 .2-8.9 .2-9.2 .2-9.2 .2-9 .2-8.5 .2-7.9 .2-7.1 .2-6.1 .2-4.8 .2-3.6 .2-2.2 .2-.8 .2,.7 .2,2.1 .2,3.5 .2,4.8 .2,6 .2,7 .2,7.9 .2,8.6 .2,8.9 .2,9.3 .2,9.2 .2,9 .2,8.5 .2,7.9 .2,7 .2,6 .2,4.8 .2,3.5 .2,2.2 .2,.7 .2-.7 .2-2.2 .2-3.5 .2-4.8 .2-5.9 .2-6.9 .2-7.8 .2-8.4 .2-8.8 .2-9.1 .2-9 .2-8.8 .2-8.3 .2-7.6 .3-6.8 .2-5.8 .2-4.6 .2-3.3 .2-2 .2-.5 .2,.8 .2,2.3 .2,3.6 .2,4.8 .2,5.9 .2,7 .2,7.7 .2,8.3 .2,8.8 .2,9 .2,8.9 .2,8.7 .2,8.2 .2,7.6 .2,6.7 .2,5.8 .2,4.6 .2,3.4 .2,2 .2,.7 .2-.7 .2-2 .2-3.4 .2-4.5 .2-5.7 .2-6.6 .2-7.3 .2-8 .2-8.4 .2-8.6 .2-8.5 .2-8.4 .2-7.8 .2-7.3 .2-6.5 .2-5.5 .2-4.4 .2-3.2 .2-1.9 .2-.6 .2,.8 .2,2.1 .2,3.3 .2,4.6 .2,5.6 .2,6.5 .2,7.3 .2,7.9 .2,8.4 .2,8.5 .2,8.5 .2,8.3 .2,7.9 .2,7.2 .2,6.5 .2,5.5 .2,4.5 .2,3.2 .2,2 .2,.7 .2-.7 .2-2 .2-3.2 .2-4.5 .2-5.5 .2-6.5 .2-7.2 .2-7.9 .2-8.3 .2-8.5 .2-8.5 .2-8.4 .2-7.9 .2-7.3 .2-6.5 .2-5.6 .2-4.6 .2-3.3 .3-2.1 .2-.8 .2,.6 .2,1.9 .2,3.2 .2,4.4 .2,5.5 .2,6.5 .2,7.3 .2,7.8 .2,8.4 .2,8.5 .2,8.6 .2,8.4 .2,8 .2,7.3 .2,6.6 .2,5.7 .2,4.5 .2,3.4 .2,2 .2,.7 .2-.7 .2-2 .2-3.4 .2-4.6 .2-5.8 .2-6.7 .2-7.6 .2-8.2 .2-8.7 .2-8.9 .2-9 .2-8.8 .2-8.3 .2-7.7 .2-7 .2-5.9 .2-4.8 .2-3.6 .2-2.3 .2-.8 .2,.5 .2,2 .2,3.3 .2,4.6 .2,5.8 .2,6.8 .2,7.6 .2,8.3 .2,8.8 .2,9 .2,9.1 .2,8.8 .2,8.4 .2,7.8 .2,6.9 .2,5.9 .2,4.8 .2,3.5 .2,2.2 .2,.7 .2-.7 .2-2.2 .2-3.5 .2-4.8 .2-6 .2-7 .2-7.9 .2-8.5 .2-9 .2-9.2 .2-9.3 .2-8.9 .2-8.6 .2-7.9 .2-7 .2-6 .2-4.8 .2-3.5 .2-2.1 .2-.7 .2,.8 .3,2.2 .2,3.6 .2,4.8 .2,6.1 .2,7.1 .2,7.9 .2,8.5 .2,9 .2,9.2 .2,9.2 .2,8.9 .2,8.5 .2,7.8 .2,7 .2,5.9 .2,4.8 .2,3.5 .2,2.1 .2,.7 .2-.7 .2-2.1 .2-3.5 .2-4.6 .2-5.9 .2-6.8 .2-7.5 .2-8.2 .2-8.6 .2-8.8 .2-8.8 .2-8.5 .2-8 .2-7.4 .2-6.5 .2-5.5 .2-4.4 .2-3.1 .2-1.9 .2-.4 .2,.9 .2,2.3 .2,3.5 .2,4.8 .2,5.8 .2,6.8 .2,7.5 .2,8.1 .2,8.5 .2,8.6 .2,8.6 .2,8.4 .2,7.9 .2,7.3 .2,6.5 .2,5.5 .2,4.4 .2,3.2 .2,1.9 .2,.7 .2-.7 .2-1.9 .2-3.1 .2-4.3 .2-5.4 .2-6.2 .2-6.9 .2-7.5 .2-7.8 .2-8 .2-8 .2-7.7 .2-7.3 .2-6.7 .2-6 .2-5 .2-3.9 .2-2.9 .2-1.6 .2-.4 .2,.8 .2,2.1 .2,3.2 .2,4.3 .2,5.3 .3,6.2 .2,6.8 .2,7.4 .2,7.7 .2,7.8 .2,7.9 .2,7.6 .2,7.2 .2,6.7 .2,5.9 .2,5 .2,4.1 .2,2.9 .2,1.8 .2,.6 .2-.6 .2-1.8 .2-2.9 .2-4 .2-4.9 .2-5.8 .2-6.4 .2-7 .2-7.3 .2-7.5 .2-7.5 .2-7.3 .2-6.9 .2-6.3 .2-5.7 .2-4.8 .2-3.9 .2-2.8 .2-1.7 .2-.5 .2,.6 .2,1.8 .2,2.9 .2,4 .2,4.8 .2,5.8 .2,6.4 .2,6.9 .2,7.3 .2,7.4 .2,7.5 .2,7.3 .2,6.9 .2,6.3 .2,5.7 .2,4.9 .2,3.9 .2,2.9 .2,1.7 .2,.6 .2-.6 .2-1.7 .2-2.9 .2-3.9 .2-4.9 .2-5.7 .2-6.4 .2-7 .2-7.3 .2-7.5 .2-7.5 .2-7.3 .2-7 .2-6.5 .2-5.7 .2-4.9 .2-4 .2-2.9 .2-1.9 .2-.6 .2,.6 .2,1.7 .2,2.8 .2,3.9 .2,4.9 .2,5.7 .2,6.5 .2,6.9 .3,7.4 .2,7.5 .2,7.6 .2,7.3 .2,7 .2,6.5 .2,5.7 .2,5 .2,3.9 .2,2.9 .2,1.8 .2,.6 .2-.6 .2-1.8 .2-2.9 .2-3.9 .2-5 .2-5.7 .2-6.5 .2-7 .2-7.4 .2-7.5 .2-7.5 .2-7.4 .2-6.9 .2-6.4 .2-5.7 .2-4.9 .2-3.8 .2-2.8 .2-1.7 .2-.5 .2,.7 .2,1.8 .2,3 .2,4.1 .2,4.9 .2,5.8 .2,6.5 .2,7 .2,7.3 .2,7.5 .2,7.5 .2,7.2 .2,6.9 .2,6.3 .2,5.7 .2,4.8 .2,3.8 .2,2.8 .2,1.7 .2,.6 .2-.6 .2-1.7 .2-2.7 .2-3.8 .2-4.6 .2-5.4 .2-6 .2-6.5 .2-6.8 .2-6.9 .2-6.9 .2-6.7 .2-6.2 .2-5.7 .2-5.1 .2-4.2 .2-3.3 .2-2.3 .2-1.3 .2-.2 .2,.9 .2,1.9 .2,3 .2,3.8 .2,4.7 .2,5.4 .2,5.9 .2,6.4 .2,6.6 .2,6.7 .2,6.7 .3,6.5 .2,6 .2,5.6 .2,4.9 .2,4.2 .2,3.3 .2,2.4 .2,1.5 .2,.5 .2-.5 .2-1.4 .2-2.3 .2-3.2 .2-3.8 .2-4.5 .2-5 .2-5.3 .2-5.6 .2-5.6 .2-5.6 .2-5.4 .2-5 .2-4.5 .2-3.9 .2-3.3 .2-2.5 .2-1.7 .2-.8 .2,.0 .2,.9 .2,1.7 .2,2.5 .2,3.2 .2,3.9 .2,4.4 .2,4.8 .2,5.1 .2,5.3 .2,5.4 .2,4.3 .2,3.7 .2,3.2 .2,2.8 .2,2.5 .2,2.1 .2,1.9 .2,1.6 .2,1.3 .2,1.3 .2,1 .2,.9 .2,.8 .2,.7 .2,.6 .2,.5 .2,.5 .2,.4 .2,.3 .2,.3 .2,.3 .2,.2 .2,.2 .2,.2 .2,.1 .2,.2 .2,.1 .2,.1 .2,.1 .2,.0 .2,.1 .2,.1 .2,.0 .2,.0 .2,.1 .2,.0 .2,.0 .2,.1 .2,.0 .2,.0 .2,.0 .2,.0 .2,.1 .2,.0 .3,.0 .2,.0 .2,.0 .2,.0 .2,.0 .2,.0" stroke="#d6ad34" stroke-width="1.15" fill="none" stroke-linejoin="round" />
<path d="M490.7,336.5l.2,.0 .2,.0 .2,.0 .2,.0 .2,.0 .2,.0 .2,.0 .2-.1 .2,.0 .2,.0 .2,.0 .2,.0 .2-.1 .2,.0 .2,.0 .2-.1 .2,.0 .2,.0 .2-.1 .2-.1 .2,.0 .2-.1 .2-.1 .2-.1 .2-.2 .2-.1 .2-.2 .2-.2 .2-.2 .2-.3 .2-.3 .2-.3 .2-.4 .2-.5 .2-.5 .2-.6 .2-.7 .2-.8 .2-.9 .2-1 .2-1.3 .3-1.3 .2-1.6 .2-1.9 .2-2.1 .2-2.5 .2-2.8 .2-3.2 .2-3.7 .2-4.3 .2-5.4 .2-5.3" stroke="#eba324" stroke-width="1.2" fill="none"/>
<path d="M657.3,293.1l.2,5.3 .2,5.4 .2,4.3 .2,3.7 .2,3.2 .2,2.8 .2,2.5 .2,2.1 .2,1.9 .2,1.6 .2,1.3 .2,1.3 .2,1 .2,.9 .2,.8 .2,.7 .2,.6 .2,.5 .2,.5 .2,.4 .2,.3 .2,.3 .2,.3 .2,.2 .2,.2 .2,.2 .2,.1 .2,.2 .2,.1 .2,.1 .2,.1 .2,.0 .2,.1 .2,.1 .2,.0 .2,.0 .2,.1 .2,.0 .2,.0 .2,.1 .2,.0 .2,.0 .2,.0 .2,.0 .2,.1 .2,.0 .3,.0 .2,.0 .2,.0 .2,.0 .2,.0 .2,.0" stroke="#eba324" stroke-width="1.2" fill="none"/>
<path d="M490.7,336.5l.5,.0 .5,.0 .5,.0 .5,.0 .5,.0 .5,.0 .5,.0 .5,.0 .5,.0 .5,.0 .5,.0 .5,.0 .5,.0 .5,.0 .5,.0 .5,.0 .6,.0 .5,.0 .5,.0 .5,.0 .5,.0 .5,.0 .5,.0 .5,.0 .5,.0 .5,.0 .5,.0 .5,.0 .5,.0 .5,.0 .5,.0 .5,.0 .5,.0 .5,.0 .5,.0 .5,.0 .5,.0 .5,.0 .5,.0 .5,.0 .5,.0 .5,.0 .5,.0 .5,.0 .5,.0 .5,.0 .5,.0 .5,.0 .5,.0 .5,.0 .6,.0 .5,.0 .5,.0 .5,.0 .5,.0 .5,.0 .5,.0 .5,.0 .5,.0 .5,.0 .5,.0 .5,.0 .5,.0 .5,.0 .5,.0 .5,.0 .5,.0 .5,.0 .5,.0 .5,.0 .5,.0 .5,.0 .5,.0 .5,.0 .5,.0 .5,.0 .5,.0 .5,.0 .5,.0 .5,.0 .5,.0 .5,.0 .5,.0 .6,.0 .5,.0 .5,.0 .5,.0 .5,.0 .5,.0 .5,.0 .5,.0 .5,.0 .5,.0 .5,.0 .5,.0 .5,.0 .5,.0 .5,.0 .5,.0 .5,.0 .5,.0 .5,.0 .5,.0 .5,.0 .5,.0 .5,.0 .5,.0 .5,.0 .5,.0 .5,.0 .5,.0 .5,.0 .5,.0 .5,.0 .5,.0 .5,.0 .6,.0 .5,.0 .5,.0 .5,.0 .5,.0 .5,.0 .5,.0 .5,.0 .5,.0 .5,.0 .5,.0 .5,.0 .5,.0 .5,.0 .5,.0 .5,.0 .5,.0 .5,.0 .5,.0 .5,.0 .5,.0 .5,.0 .5,.0 .5,.0 .5,.0 .5,.0 .5,.0 .5,.0 .5,.0 .5,.0 .5,.0 .5,.0 .5,.0 .6,.0 .5,.0 .5,.0 .5,.0 .5,.0 .5,.0 .5,.0 .5,.0 .5,.0 .5,.0 .5,.0 .5,.0 .5,.0 .5,.0 .5,.0 .5,.0 .5,.0 .5,.0 .5,.0 .5,.0 .5,.0 .5,.0 .5,.0 .5,.0 .5,.0 .5,.0 .5,.0 .5,.0 .5,.0 .5,.0 .5,.0 .5,.0 .5,.0 .5,.0 .6,.0 .5,.0 .5,.0 .5,.0 .5,.0 .5,.0 .5,.0 .5,.0 .5,.0 .5,.0 .5,.0 .5,.0 .5,.0 .5,.0 .5,.0 .5,.0 .5,.0 .5,.0 .5,.0 .5,.0 .5,.0 .5,.0 .5,.0 .5,.0 .5,.0 .5,.0 .5,.0 .5,.0 .5,.0 .5,.0 .5,.0 .5,.0 .5,.0 .6,.0 .5,.0 .5,.0 .5,.0 .5,.0 .5,.0 .5,.0 .5,.0 .5,.0 .5,.0 .5,.0 .5,.0 .5,.0 .5,.0 .5,.0 .5,.0 .5,.0 .5,.0 .5,.0 .5,.0 .5,.0 .5,.0 .5,.0 .5,.0 .5,.0 .5,.0 .5,.0 .5,.0 .5,.0 .5,.0 .5,.0 .5,.0 .5,.0 .5,.0 .6,.0 .5,.0 .5,.0 .5,.0 .5,.0 .5,.0 .5,.0 .5,.0 .5,.0 .5,.0 .5,.0 .5,.0 .5,.0 .5,.0 .5,.0 .5,.0 .5,.0 .5,.0 .5,.0 .5,.0 .5,.0 .5,.0 .5,.0 .5,.0 .5,.0 .5,.0 .5,.0 .5,.0 .5,.0 .5,.0 .5,.0 .5,.0 .5,.0 .6,.0 .5,.0 .5,.0 .5,.0 .5,.0 .5,.0 .5,.0 .5,.0 .5,.0 .5,.0 .5,.0 .5,.0 .5,.0 .5,.0 .5,.0 .5,.0 .5,.0 .5,.0 .5,.0 .5,.0 .5,.0 .5,.0 .5,.0 .5,.0 .5,.0 .5,.0 .5,.0 .5,.0 .5,.0 .5,.0 .5,.0 .5,.0 .5,.0 .6,.0 .5,.0 .5,.0 .5,.0 .5,.0 .5,.0 .5,.0 .5,.0 .5,.0 .5,.0 .5,.0 .5,.0 .5,.0 .5,.0 .5,.0 .5,.0 .5,.0 .5,.0 .5,.0 .5,.0 .5,.0 .5,.0 .5,.0 .5,.0 .5,.0 .5,.0 .5,.0 .5,.0 .5,.0 .5,.0 .5,.0 .5,.0 .5,.0 .6,.0 .5,.0 .5,.0" stroke="#5858aa" stroke-width="1.25" fill="none" stroke-dasharray="3 2.3"/>
<path d="M490.7,287.8l.5-.4 .5-.5 .5-.5 .5-.6 .5-.6 .5-.7 .5-.7 .5-.8 .5-.8 .5-.9 .5-.9 .5-.9 .5-1 .5-1 .5-1 .5-1 .6-1.1 .5-1.1 .5-1.1 .5-1.1 .5-1.1 .5-1.1 .5-1.2 .5-1.1 .5-1.2 .5-1.1 .5-1.2 .5-1.1 .5-1.1 .5-1.1 .5-1.2 .5-1 .5-1.1 .5-1.1 .5-1 .5-1 .5-1 .5-1 .5-.9 .5-.9 .5-.8 .5-.8 .5-.8 .5-.8 .5-.7 .5-.6 .5-.7 .5-.5 .5-.6 .5-.5 .6-.5 .5-.4 .5-.4 .5-.3 .5-.3 .5-.3 .5-.2 .5-.2 .5-.2 .5-.1 .5-.1 .5,.0 .5-.1 .5,.0 .5,.1 .5,.0 .5,.1 .5,.0 .5,.1 .5,.1 .5,.1 .5,.1 .5,.1 .5,.1 .5,.1 .5,.1 .5,.1 .5,.1 .5,.1 .5,.1 .5,.0 .5,.0 .5,.1 .6,.0 .5-.1 .5,.0 .5-.1 .5-.1 .5-.2 .5-.2 .5-.2 .5-.2 .5-.3 .5-.3 .5-.3 .5-.3 .5-.4 .5-.4 .5-.5 .5-.4 .5-.5 .5-.5 .5-.5 .5-.5 .5-.6 .5-.6 .5-.6 .5-.6 .5-.6 .5-.6 .5-.6 .5-.7 .5-.6 .5-.6 .5-.7 .5-.6 .6-.7 .5-.6 .5-.6 .5-.6 .5-.6 .5-.6 .5-.5 .5-.6 .5-.5 .5-.5 .5-.4 .5-.5 .5-.4 .5-.4 .5-.3 .5-.3 .5-.3 .5-.2 .5-.2 .5-.1 .5-.1 .5,.0 .5,.0 .5,.0 .5,.1 .5,.1 .5,.2 .5,.1 .5,.3 .5,.2 .5,.3 .5,.2 .5,.4 .6,.3 .5,.3 .5,.4 .5,.4 .5,.3 .5,.4 .5,.4 .5,.4 .5,.4 .5,.4 .5,.4 .5,.3 .5,.4 .5,.3 .5,.4 .5,.3 .5,.3 .5,.2 .5,.2 .5,.2 .5,.2 .5,.2 .5,.1 .5,.1 .5,.0 .5,.1 .5,.0 .5,.0 .5-.1 .5,.0 .5-.1 .5-.1 .5-.2 .5-.2 .6-.2 .5-.2 .5-.2 .5-.3 .5-.3 .5-.4 .5-.3 .5-.4 .5-.3 .5-.4 .5-.4 .5-.4 .5-.4 .5-.4 .5-.4 .5-.3 .5-.4 .5-.4 .5-.3 .5-.3 .5-.4 .5-.2 .5-.3 .5-.2 .5-.3 .5-.1 .5-.2 .5-.1 .5-.1 .5,.0 .5,.0 .5,.0 .5,.1 .6,.1 .5,.2 .5,.2 .5,.3 .5,.3 .5,.3 .5,.4 .5,.4 .5,.5 .5,.4 .5,.5 .5,.5 .5,.6 .5,.5 .5,.6 .5,.6 .5,.6 .5,.6 .5,.6 .5,.7 .5,.6 .5,.7 .5,.6 .5,.6 .5,.7 .5,.6 .5,.6 .5,.6 .5,.6 .5,.6 .5,.6 .5,.6 .5,.5 .5,.5 .6,.5 .5,.5 .5,.4 .5,.5 .5,.4 .5,.4 .5,.3 .5,.3 .5,.3 .5,.3 .5,.2 .5,.2 .5,.2 .5,.2 .5,.1 .5,.1 .5,.0 .5,.1 .5,.0 .5-.1 .5,.0 .5,.0 .5-.1 .5-.1 .5-.1 .5-.1 .5-.1 .5-.1 .5-.1 .5-.1 .5-.1 .5-.1 .5-.1 .6-.1 .5,.0 .5-.1 .5,.0 .5-.1 .5,.0 .5,.1 .5,.0 .5,.1 .5,.1 .5,.2 .5,.2 .5,.2 .5,.3 .5,.3 .5,.3 .5,.4 .5,.4 .5,.5 .5,.5 .5,.6 .5,.5 .5,.7 .5,.6 .5,.7 .5,.8 .5,.8 .5,.8 .5,.8 .5,.9 .5,.9 .5,1 .5,1 .6,1 .5,1 .5,1.1 .5,1.1 .5,1 .5,1.2 .5,1.1 .5,1.1 .5,1.1 .5,1.2 .5,1.1 .5,1.2 .5,1.1 .5,1.2 .5,1.1 .5,1.1 .5,1.1 .5,1.1 .5,1.1 .5,1.1 .5,1 .5,1 .5,1 .5,1 .5,.9 .5,.9 .5,.9 .5,.8 .5,.8 .5,.7 .5,.7 .5,.6 .5,.6 .6,.5 .5,.5 .5,.4" stroke="#5858aa" stroke-width="1.25" fill="none" stroke-dasharray="4.6 1.7 0.9 2.3"/>
</g>
<path d="M487.6,336.5H490.6 M664.6,336.5H667.6 M487.6,308.7H490.6 M664.6,308.7H667.6 M487.6,280.9H490.6 M664.6,280.9H667.6 M487.6,253.1H490.6 M664.6,253.1H667.6 M487.6,225.3H490.6 M664.6,225.3H667.6 M489.3,322.6H490.6 M666.1,322.6H667.6 M489.3,294.8H490.6 M666.1,294.8H667.6 M489.3,267H490.6 M666.1,267H667.6 M489.3,239.2H490.6 M666.1,239.2H667.6 M490.7,351.2V353.8 M490.7,211.5V213.7 M530.94,351.2V353.8 M530.94,211.5V213.7 M571.18,351.2V353.8 M571.18,211.5V213.7 M611.42,351.2V353.8 M611.42,211.5V213.7 M651.66,351.2V353.8 M651.66,211.5V213.7 M510.82,351.2V352.7 M510.82,211.5V213 M551.06,351.2V352.7 M551.06,211.5V213 M591.3,351.2V352.7 M591.3,211.5V213 M631.54,351.2V352.7 M631.54,211.5V213" stroke="#4a4a4a" stroke-width="1" fill="none"/>
<rect x="490.6" y="211.5" width="177" height="139.7" fill="none" stroke="#6e6e6e" stroke-width="1"/>
<text x="487" y="339" font-size="10.4" text-anchor="end" fill="#1e1e1e">0E+0</text>
<text x="487" y="311.2" font-size="10.4" text-anchor="end" fill="#1e1e1e">2E+9</text>
<text x="487" y="283.4" font-size="10.4" text-anchor="end" fill="#1e1e1e">4E+9</text>
<text x="487" y="255.6" font-size="10.4" text-anchor="end" fill="#1e1e1e">6E+9</text>
<text x="487" y="227.8" font-size="10.4" text-anchor="end" fill="#1e1e1e">8E+9</text>
<text x="490.7" y="363" font-size="11" text-anchor="middle" fill="#1e1e1e">0</text>
<text x="530.94" y="363" font-size="11" text-anchor="middle" fill="#1e1e1e">2</text>
<text x="571.18" y="363" font-size="11" text-anchor="middle" fill="#1e1e1e">4</text>
<text x="611.42" y="363" font-size="11" text-anchor="middle" fill="#1e1e1e">6</text>
<text x="651.66" y="363" font-size="11" text-anchor="middle" fill="#1e1e1e">8</text>
<rect x="501.2" y="279.6" width="150" height="39.6" fill="#ffffff" fill-opacity="0.87"/>
<path d="M502.4,287.4H525.4" stroke="#eba324" stroke-width="1.4"/>
<path d="M502.4,299.8H525.4" stroke="#5858aa" stroke-width="1.25" stroke-dasharray="3 2.3"/>
<path d="M502.4,312.6H525.4" stroke="#5858aa" stroke-width="1.25" stroke-dasharray="4.6 1.7 0.9 2.3"/>
<text x="529" y="291.3" font-size="10.15" font-weight="bold" font-style="italic" fill="#e79c12" text-anchor="start" >Curve 6=Curve 4-Curve 5</text>
<text x="529" y="303.7" font-size="10.15" font-weight="bold" font-style="normal" fill="#5c5cac" text-anchor="start" >Lower Envelope</text>
<text x="529" y="316.2" font-size="10.15" font-weight="bold" font-style="normal" fill="#5c5cac" text-anchor="start" >Upper Envelope</text>
<path d="M661.5,245V331.3" stroke="#111" stroke-width="1.15" stroke-dasharray="1.1 1.1"/>
<path d="M661,239.9 l-3.4,5.2 h6.8 Z" fill="#000"/>
<path d="M661,336.3 l-3.4,-5.2 h6.8 Z" fill="#000"/>
<text x="669.3" y="289.9" font-size="13" font-weight="normal" font-style="italic" fill="#1e1e1e" text-anchor="start" >a4</text>
<text x="136.2" y="171.8" font-size="11" font-weight="normal" font-style="normal" fill="#1e1e1e" text-anchor="middle" >Position (mm)</text>
<text x="355.3" y="171.8" font-size="11" font-weight="normal" font-style="normal" fill="#1e1e1e" text-anchor="middle" >Position (mm)</text>
<text x="578.8" y="171.8" font-size="11" font-weight="normal" font-style="normal" fill="#1e1e1e" text-anchor="middle" >Position (mm)</text>
<text x="136.4" y="381.9" font-size="11" font-weight="normal" font-style="normal" fill="#1e1e1e" text-anchor="middle" >Position (mm)</text>
<text x="356.8" y="381.9" font-size="11" font-weight="normal" font-style="normal" fill="#1e1e1e" text-anchor="middle" >Position (mm)</text>
<text x="579" y="381.9" font-size="11" font-weight="normal" font-style="normal" fill="#1e1e1e" text-anchor="middle" >Position</text>
<text x="135" y="188.2" font-size="13.5" font-weight="normal" font-style="normal" fill="#1e1e1e" text-anchor="middle" >(a)</text>
<text x="352.7" y="188.2" font-size="13.5" font-weight="normal" font-style="normal" fill="#1e1e1e" text-anchor="middle" >(b)</text>
<text x="574.9" y="188.2" font-size="13.5" font-weight="normal" font-style="normal" fill="#1e1e1e" text-anchor="middle" >(c)</text>
<text x="135" y="396.9" font-size="13.5" font-weight="normal" font-style="normal" fill="#1e1e1e" text-anchor="middle" >(d)</text>
<text x="352.7" y="396.9" font-size="13.5" font-weight="normal" font-style="normal" fill="#1e1e1e" text-anchor="middle" >(e)</text>
<text x="577.4" y="396.9" font-size="13.5" font-weight="normal" font-style="normal" fill="#1e1e1e" text-anchor="middle" >(f)</text>
<text x="9.3" y="68.5" font-size="11" font-weight="normal" font-style="normal" fill="#1e1e1e" text-anchor="middle" transform="rotate(-90 9.3 68.5)">Amplitude</text>
<text x="10.2" y="279.9" font-size="11" font-weight="normal" font-style="normal" fill="#1e1e1e" text-anchor="middle" transform="rotate(-90 10.2 279.9)">Amplitude</text>
</svg>
</body></html>
